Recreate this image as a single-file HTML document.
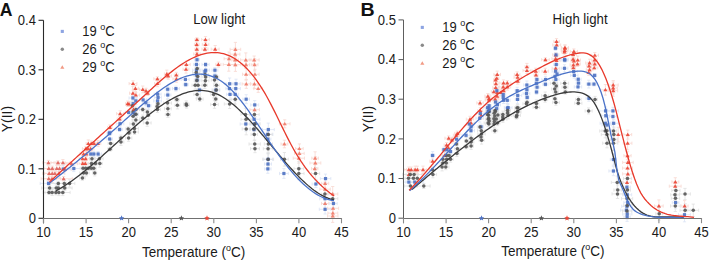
<!DOCTYPE html><html><head><meta charset="utf-8"><style>html,body{margin:0;padding:0;background:#fff;width:709px;height:261px;overflow:hidden}svg{display:block}</style></head><body><svg width="709" height="261" viewBox="0 0 709 261">
<style>.t{font-family:"Liberation Sans",sans-serif;font-size:13px;fill:#1a1a1a}</style>
<rect width="709" height="261" fill="#fff"/>
<g stroke-width="0.8" fill="none"><path d="M467.2,123.0H474.8M471.0,119.5V126.5M467.2,121.4V124.6M474.8,121.4V124.6M469.4,119.5H472.6M469.4,126.5H472.6" stroke="#f7d8d0"/><path d="M478.8,115.3H483.7M481.2,111.6V119.0M478.8,113.7V116.9M483.7,113.7V116.9M479.6,111.6H482.8M479.6,119.0H482.8" stroke="#f7d8d0"/><path d="M485.4,98.5H492.6M489.0,94.9V102.1M485.4,96.9V100.1M492.6,96.9V100.1M487.4,94.9H490.6M487.4,102.1H490.6" stroke="#f7d8d0"/><path d="M491.3,91.7H496.3M493.8,89.3V94.1M491.3,90.1V93.3M496.3,90.1V93.3M492.2,89.3H495.4M492.2,94.1H495.4" stroke="#f7d8d0"/><path d="M553.8,41.5H559.3M556.5,38.6V44.4M553.8,39.9V43.1M559.3,39.9V43.1M554.9,38.6H558.1M554.9,44.4H558.1" stroke="#f7d8d0"/><path d="M552.7,45.0H560.7M556.7,41.5V48.5M552.7,43.4V46.6M560.7,43.4V46.6M555.1,41.5H558.3M555.1,48.5H558.3" stroke="#f7d8d0"/><path d="M42.8,162.7H54.1M48.4,160.4V165.0M42.8,161.1V164.3M54.1,161.1V164.3M46.8,160.4H50.0M46.8,165.0H50.0" stroke="#f7d8d0"/><path d="M51.0,162.7H65.1M58.0,160.8V164.6M51.0,161.1V164.3M65.1,161.1V164.3M56.4,160.8H59.6M56.4,164.6H59.6" stroke="#f7d8d0"/><path d="M55.9,162.7H70.0M62.9,159.5V165.9M55.9,161.1V164.3M70.0,161.1V164.3M61.3,159.5H64.5M61.3,165.9H64.5" stroke="#f7d8d0"/><path d="M65.9,163.7H77.4M71.6,161.9V165.5M65.9,162.1V165.3M77.4,162.1V165.3M70.0,161.9H73.2M70.0,165.5H73.2" stroke="#f7d8d0"/><path d="M43.7,168.5H53.8M48.8,165.9V171.1M43.7,166.9V170.1M53.8,166.9V170.1M47.2,165.9H50.4M47.2,171.1H50.4" stroke="#f7d8d0"/><path d="M43.7,168.5H60.8M52.3,166.1V170.9M43.7,166.9V170.1M60.8,166.9V170.1M50.7,166.1H53.9M50.7,170.9H53.9" stroke="#f7d8d0"/><path d="M48.9,168.5H64.8M56.8,165.3V171.7M48.9,166.9V170.1M64.8,166.9V170.1M55.2,165.3H58.4M55.2,171.7H58.4" stroke="#f7d8d0"/><path d="M51.1,168.5H68.0M59.5,165.6V171.4M51.1,166.9V170.1M68.0,166.9V170.1M57.9,165.6H61.1M57.9,171.4H61.1" stroke="#f7d8d0"/><path d="M58.5,169.3H71.7M65.1,167.4V171.2M58.5,167.7V170.9M71.7,167.7V170.9M63.5,167.4H66.7M63.5,171.2H66.7" stroke="#f7d8d0"/><path d="M42.7,173.4H55.7M49.2,169.8V177.0M42.7,171.8V175.0M55.7,171.8V175.0M47.6,169.8H50.8M47.6,177.0H50.8" stroke="#f7d8d0"/><path d="M44.6,173.4H59.8M52.2,170.3V176.5M44.6,171.8V175.0M59.8,171.8V175.0M50.6,170.3H53.8M50.6,176.5H53.8" stroke="#f7d8d0"/><path d="M48.9,173.4H60.8M54.9,170.6V176.2M48.9,171.8V175.0M60.8,171.8V175.0M53.3,170.6H56.5M53.3,176.2H56.5" stroke="#f7d8d0"/><path d="M53.1,173.4H64.8M58.9,169.5V177.3M53.1,171.8V175.0M64.8,171.8V175.0M57.3,169.5H60.5M57.3,177.3H60.5" stroke="#f7d8d0"/><path d="M41.1,178.7H56.4M48.8,175.0V182.4M41.1,177.1V180.3M56.4,177.1V180.3M47.2,175.0H50.4M47.2,182.4H50.4" stroke="#f7d8d0"/><path d="M43.4,178.7H60.6M52.0,174.8V182.6M43.4,177.1V180.3M60.6,177.1V180.3M50.4,174.8H53.6M50.4,182.6H53.6" stroke="#f7d8d0"/><path d="M54.9,178.7H72.3M63.6,176.5V180.9M54.9,177.1V180.3M72.3,177.1V180.3M62.0,176.5H65.2M62.0,180.9H65.2" stroke="#f7d8d0"/><path d="M86.1,143.6H90.5M88.3,139.9V147.3M86.1,142.0V145.2M90.5,142.0V145.2M86.7,139.9H89.9M86.7,147.3H89.9" stroke="#f7d8d0"/><path d="M88.2,143.6H94.3M91.2,141.0V146.2M88.2,142.0V145.2M94.3,142.0V145.2M89.6,141.0H92.8M89.6,146.2H92.8" stroke="#f7d8d0"/><path d="M91.7,143.6H96.4M94.1,141.7V145.5M91.7,142.0V145.2M96.4,142.0V145.2M92.5,141.7H95.7M92.5,145.5H95.7" stroke="#f7d8d0"/><path d="M95.2,143.6H100.8M98.0,140.6V146.6M95.2,142.0V145.2M100.8,142.0V145.2M96.4,140.6H99.6M96.4,146.6H99.6" stroke="#f7d8d0"/><path d="M82.4,148.7H89.3M85.8,146.8V150.6M82.4,147.1V150.3M89.3,147.1V150.3M84.2,146.8H87.4M84.2,150.6H87.4" stroke="#f7d8d0"/><path d="M86.1,148.7H89.9M88.0,146.6V150.8M86.1,147.1V150.3M89.9,147.1V150.3M86.4,146.6H89.6M86.4,150.8H89.6" stroke="#f7d8d0"/><path d="M87.4,148.7H93.9M90.7,146.0V151.4M87.4,147.1V150.3M93.9,147.1V150.3M89.1,146.0H92.3M89.1,151.4H92.3" stroke="#f7d8d0"/><path d="M79.9,154.0H87.4M83.6,151.4V156.6M79.9,152.4V155.6M87.4,152.4V155.6M82.0,151.4H85.2M82.0,156.6H85.2" stroke="#f7d8d0"/><path d="M83.0,154.0H89.6M86.3,151.4V156.6M83.0,152.4V155.6M89.6,152.4V155.6M84.7,151.4H87.9M84.7,156.6H87.9" stroke="#f7d8d0"/><path d="M79.2,158.7H86.1M82.6,154.9V162.5M79.2,157.1V160.3M86.1,157.1V160.3M81.0,154.9H84.2M81.0,162.5H84.2" stroke="#f7d8d0"/><path d="M81.8,158.7H89.5M85.7,156.9V160.5M81.8,157.1V160.3M89.5,157.1V160.3M84.1,156.9H87.3M84.1,160.5H87.3" stroke="#f7d8d0"/><path d="M79.1,163.5H86.3M82.7,161.4V165.6M79.1,161.9V165.1M86.3,161.9V165.1M81.1,161.4H84.3M81.1,165.6H84.3" stroke="#f7d8d0"/><path d="M81.6,163.5H88.8M85.2,161.7V165.3M81.6,161.9V165.1M88.8,161.9V165.1M83.6,161.7H86.8M83.6,165.3H86.8" stroke="#f7d8d0"/><path d="M116.6,113.7H123.7M120.1,110.8V116.6M116.6,112.1V115.3M123.7,112.1V115.3M118.5,110.8H121.7M118.5,116.6H121.7" stroke="#f7d8d0"/><path d="M117.2,119.0H121.8M119.5,116.8V121.2M117.2,117.4V120.6M121.8,117.4V120.6M117.9,116.8H121.1M117.9,121.2H121.1" stroke="#f7d8d0"/><path d="M107.7,127.5H112.1M109.9,124.9V130.1M107.7,125.9V129.1M112.1,125.9V129.1M108.3,124.9H111.5M108.3,130.1H111.5" stroke="#f7d8d0"/><path d="M125.9,104.0H132.0M128.9,101.5V106.5M125.9,102.4V105.6M132.0,102.4V105.6M127.3,101.5H130.5M127.3,106.5H130.5" stroke="#f7d8d0"/><path d="M129.1,83.6H136.9M133.0,80.8V86.4M129.1,82.0V85.2M136.9,82.0V85.2M131.4,80.8H134.6M131.4,86.4H134.6" stroke="#f7d8d0"/><path d="M132.5,88.4H138.4M135.4,85.5V91.3M132.5,86.8V90.0M138.4,86.8V90.0M133.8,85.5H137.0M133.8,91.3H137.0" stroke="#f7d8d0"/><path d="M129.5,93.2H136.4M133.0,90.1V96.3M129.5,91.6V94.8M136.4,91.6V94.8M131.4,90.1H134.6M131.4,96.3H134.6" stroke="#f7d8d0"/><path d="M132.1,95.1H139.6M135.8,92.4V97.8M132.1,93.5V96.7M139.6,93.5V96.7M134.2,92.4H137.4M134.2,97.8H137.4" stroke="#f7d8d0"/><path d="M125.8,103.7H129.7M127.7,101.0V106.4M125.8,102.1V105.3M129.7,102.1V105.3M126.1,101.0H129.3M126.1,106.4H129.3" stroke="#f7d8d0"/><path d="M129.7,109.5H137.4M133.6,107.1V111.9M129.7,107.9V111.1M137.4,107.9V111.1M132.0,107.1H135.2M132.0,111.9H135.2" stroke="#f7d8d0"/><path d="M139.5,89.4H146.1M142.8,86.0V92.8M139.5,87.8V91.0M146.1,87.8V91.0M141.2,86.0H144.4M141.2,92.8H144.4" stroke="#f7d8d0"/><path d="M143.5,91.0H148.5M146.0,88.3V93.7M143.5,89.4V92.6M148.5,89.4V92.6M144.4,88.3H147.6M144.4,93.7H147.6" stroke="#f7d8d0"/><path d="M145.7,93.2H149.5M147.6,90.9V95.5M145.7,91.6V94.8M149.5,91.6V94.8M146.0,90.9H149.2M146.0,95.5H149.2" stroke="#f7d8d0"/><path d="M153.8,78.8H161.0M157.4,76.8V80.8M153.8,77.2V80.4M161.0,77.2V80.4M155.8,76.8H159.0M155.8,80.8H159.0" stroke="#f7d8d0"/><path d="M154.5,83.6H160.2M157.4,80.5V86.7M154.5,82.0V85.2M160.2,82.0V85.2M155.8,80.5H159.0M155.8,86.7H159.0" stroke="#f7d8d0"/><path d="M164.4,74.0H169.3M166.8,70.1V77.9M164.4,72.4V75.6M169.3,72.4V75.6M165.2,70.1H168.4M165.2,77.9H168.4" stroke="#f7d8d0"/><path d="M165.0,76.0H171.4M168.2,72.8V79.2M165.0,74.4V77.6M171.4,74.4V77.6M166.6,72.8H169.8M166.6,79.2H169.8" stroke="#f7d8d0"/><path d="M174.3,75.0H178.2M176.3,72.3V77.7M174.3,73.4V76.6M178.2,73.4V76.6M174.7,72.3H177.9M174.7,77.7H177.9" stroke="#f7d8d0"/><path d="M172.9,78.9H180.1M176.5,75.5V82.3M172.9,77.3V80.5M180.1,77.3V80.5M174.9,75.5H178.1M174.9,82.3H178.1" stroke="#f7d8d0"/><path d="M182.6,64.5H190.2M186.4,60.9V68.1M182.6,62.9V66.1M190.2,62.9V66.1M184.8,60.9H188.0M184.8,68.1H188.0" stroke="#f7d8d0"/><path d="M183.0,69.3H188.9M186.0,65.5V73.1M183.0,67.7V70.9M188.9,67.7V70.9M184.4,65.5H187.6M184.4,73.1H187.6" stroke="#f7d8d0"/><path d="M195.0,39.6H198.8M196.9,37.8V41.4M195.0,38.0V41.2M198.8,38.0V41.2M195.3,37.8H198.5M195.3,41.4H198.5" stroke="#f7d8d0"/><path d="M194.4,44.4H199.1M196.7,42.2V46.6M194.4,42.8V46.0M199.1,42.8V46.0M195.1,42.2H198.3M195.1,46.6H198.3" stroke="#f7d8d0"/><path d="M194.9,49.2H198.7M196.8,46.1V52.3M194.9,47.6V50.8M198.7,47.6V50.8M195.2,46.1H198.4M195.2,52.3H198.4" stroke="#f7d8d0"/><path d="M193.7,54.0H200.3M197.0,52.2V55.8M193.7,52.4V55.6M200.3,52.4V55.6M195.4,52.2H198.6M195.4,55.8H198.6" stroke="#f7d8d0"/><path d="M201.6,39.6H209.3M205.5,36.6V42.6M201.6,38.0V41.2M209.3,38.0V41.2M203.9,36.6H207.1M203.9,42.6H207.1" stroke="#f7d8d0"/><path d="M202.3,44.4H208.8M205.6,41.3V47.5M202.3,42.8V46.0M208.8,42.8V46.0M204.0,41.3H207.2M204.0,47.5H207.2" stroke="#f7d8d0"/><path d="M201.9,49.2H208.0M204.9,47.3V51.1M201.9,47.6V50.8M208.0,47.6V50.8M203.3,47.3H206.5M203.3,51.1H206.5" stroke="#f7d8d0"/><path d="M211.2,49.2H219.1M215.2,45.5V52.9M211.2,47.6V50.8M219.1,47.6V50.8M213.6,45.5H216.8M213.6,52.9H216.8" stroke="#f7d8d0"/><path d="M215.8,64.5H220.9M218.4,62.0V67.0M215.8,62.9V66.1M220.9,62.9V66.1M216.8,62.0H220.0M216.8,67.0H220.0" stroke="#f7d8d0"/><path d="M224.1,58.7H233.9M229.0,52.0V65.4M224.1,57.1V60.3M233.9,57.1V60.3M227.4,52.0H230.6M227.4,65.4H230.6" stroke="#f7d8d0"/><path d="M223.2,64.5H234.4M228.8,57.8V71.2M223.2,62.9V66.1M234.4,62.9V66.1M227.2,57.8H230.4M227.2,71.2H230.4" stroke="#f7d8d0"/><path d="M230.1,49.4H240.7M235.4,42.4V56.4M230.1,47.8V51.0M240.7,47.8V51.0M233.8,42.4H237.0M233.8,56.4H237.0" stroke="#f7d8d0"/><path d="M230.4,54.2H239.9M235.1,48.1V60.3M230.4,52.6V55.8M239.9,52.6V55.8M233.5,48.1H236.7M233.5,60.3H236.7" stroke="#f7d8d0"/><path d="M231.8,59.9H238.4M235.1,53.8V66.0M231.8,58.3V61.5M238.4,58.3V61.5M233.5,53.8H236.7M233.5,66.0H236.7" stroke="#f7d8d0"/><path d="M229.9,64.7H240.9M235.4,58.0V71.4M229.9,63.1V66.3M240.9,63.1V66.3M233.8,58.0H237.0M233.8,71.4H237.0" stroke="#f7d8d0"/><path d="M240.6,59.9H251.0M245.8,52.9V66.9M240.6,58.3V61.5M251.0,58.3V61.5M244.2,52.9H247.4M244.2,66.9H247.4" stroke="#f7d8d0"/><path d="M242.6,64.7H249.5M246.1,61.1V68.3M242.6,63.1V66.3M249.5,63.1V66.3M244.5,61.1H247.7M244.5,68.3H247.7" stroke="#f7d8d0"/><path d="M242.5,74.3H249.7M246.1,68.5V80.1M242.5,72.7V75.9M249.7,72.7V75.9M244.5,68.5H247.7M244.5,80.1H247.7" stroke="#f7d8d0"/><path d="M242.1,83.9H250.4M246.3,79.4V88.4M242.1,82.3V85.5M250.4,82.3V85.5M244.7,79.4H247.9M244.7,88.4H247.9" stroke="#f7d8d0"/><path d="M249.2,59.9H259.1M254.2,56.0V63.8M249.2,58.3V61.5M259.1,58.3V61.5M252.6,56.0H255.8M252.6,63.8H255.8" stroke="#f7d8d0"/><path d="M251.2,64.7H258.0M254.6,58.6V70.8M251.2,63.1V66.3M258.0,63.1V66.3M253.0,58.6H256.2M253.0,70.8H256.2" stroke="#f7d8d0"/><path d="M250.8,74.3H259.1M254.9,69.3V79.3M250.8,72.7V75.9M259.1,72.7V75.9M253.3,69.3H256.5M253.3,79.3H256.5" stroke="#f7d8d0"/><path d="M250.7,83.9H258.0M254.4,79.4V88.4M250.7,82.3V85.5M258.0,82.3V85.5M252.8,79.4H256.0M252.8,88.4H256.0" stroke="#f7d8d0"/><path d="M253.8,88.6H262.6M258.2,84.8V92.4M253.8,87.0V90.2M262.6,87.0V90.2M256.6,84.8H259.8M256.6,92.4H259.8" stroke="#f7d8d0"/><path d="M249.9,109.7H259.4M254.6,105.0V114.4M249.9,108.1V111.3M259.4,108.1V111.3M253.0,105.0H256.2M253.0,114.4H256.2" stroke="#f7d8d0"/><path d="M279.4,123.8H290.0M284.7,119.8V127.8M279.4,122.2V125.4M290.0,122.2V125.4M283.1,119.8H286.3M283.1,127.8H286.3" stroke="#f7d8d0"/><path d="M281.0,144.0H287.8M284.4,140.2V147.8M281.0,142.4V145.6M287.8,142.4V145.6M282.8,140.2H286.0M282.8,147.8H286.0" stroke="#f7d8d0"/><path d="M295.6,148.6H303.2M299.4,143.9V153.3M295.6,147.0V150.2M303.2,147.0V150.2M297.8,143.9H301.0M297.8,153.3H301.0" stroke="#f7d8d0"/><path d="M294.5,153.4H304.2M299.4,149.2V157.6M294.5,151.8V155.0M304.2,151.8V155.0M297.8,149.2H301.0M297.8,157.6H301.0" stroke="#f7d8d0"/><path d="M293.2,158.2H304.5M298.8,153.2V163.2M293.2,156.6V159.8M304.5,156.6V159.8M297.2,153.2H300.4M297.2,163.2H300.4" stroke="#f7d8d0"/><path d="M311.8,158.2H318.4M315.1,151.8V164.6M311.8,156.6V159.8M318.4,156.6V159.8M313.5,151.8H316.7M313.5,164.6H316.7" stroke="#f7d8d0"/><path d="M309.9,163.0H320.8M315.4,156.8V169.2M309.9,161.4V164.6M320.8,161.4V164.6M313.8,156.8H317.0M313.8,169.2H317.0" stroke="#f7d8d0"/><path d="M311.5,168.7H317.9M314.7,163.1V174.3M311.5,167.1V170.3M317.9,167.1V170.3M313.1,163.1H316.3M313.1,174.3H316.3" stroke="#f7d8d0"/><path d="M321.6,183.4H328.7M325.1,178.8V188.0M321.6,181.8V185.0M328.7,181.8V185.0M323.5,178.8H326.7M323.5,188.0H326.7" stroke="#f7d8d0"/><path d="M319.8,189.2H330.3M325.0,182.1V196.3M319.8,187.6V190.8M330.3,187.6V190.8M323.4,182.1H326.6M323.4,196.3H326.6" stroke="#f7d8d0"/><path d="M321.5,203.5H328.7M325.1,196.8V210.2M321.5,201.9V205.1M328.7,201.9V205.1M323.5,196.8H326.7M323.5,210.2H326.7" stroke="#f7d8d0"/><path d="M327.5,194.0H337.8M332.7,186.5V201.5M327.5,192.4V195.6M337.8,192.4V195.6M331.1,186.5H334.3M331.1,201.5H334.3" stroke="#f7d8d0"/><path d="M327.6,208.3H338.6M333.1,201.7V214.9M327.6,206.7V209.9M338.6,206.7V209.9M331.5,201.7H334.7M331.5,214.9H334.7" stroke="#f7d8d0"/><path d="M327.9,213.1H337.8M332.8,208.9V217.3M327.9,211.5V214.7M337.8,211.5V214.7M331.2,208.9H334.4M331.2,217.3H334.4" stroke="#f7d8d0"/><path d="M327.5,216.0H338.0M332.7,209.6V222.4M327.5,214.4V217.6M338.0,214.4V217.6M331.1,209.6H334.3M331.1,222.4H334.3" stroke="#f7d8d0"/><path d="M403.7,169.7H414.0M408.9,167.0V172.4M403.7,168.1V171.3M414.0,168.1V171.3M407.3,167.0H410.5M407.3,172.4H410.5" stroke="#f7d8d0"/><path d="M404.0,169.7H418.4M411.2,167.0V172.4M404.0,168.1V171.3M418.4,168.1V171.3M409.6,167.0H412.8M409.6,172.4H412.8" stroke="#f7d8d0"/><path d="M406.5,169.7H423.8M415.2,166.1V173.3M406.5,168.1V171.3M423.8,168.1V171.3M413.6,166.1H416.8M413.6,173.3H416.8" stroke="#f7d8d0"/><path d="M408.4,169.7H426.3M417.3,166.2V173.2M408.4,168.1V171.3M426.3,168.1V171.3M415.7,166.2H418.9M415.7,173.2H418.9" stroke="#f7d8d0"/><path d="M414.3,169.7H431.7M423.0,166.1V173.3M414.3,168.1V171.3M431.7,168.1V171.3M421.4,166.1H424.6M421.4,173.3H424.6" stroke="#f7d8d0"/><path d="M403.2,174.5H414.6M408.9,172.4V176.6M403.2,172.9V176.1M414.6,172.9V176.1M407.3,172.4H410.5M407.3,176.6H410.5" stroke="#f7d8d0"/><path d="M429.8,161.2H435.4M432.6,157.7V164.7M429.8,159.6V162.8M435.4,159.6V162.8M431.0,157.7H434.2M431.0,164.7H434.2" stroke="#f7d8d0"/><path d="M444.9,138.2H452.5M448.7,135.9V140.5M444.9,136.6V139.8M452.5,136.6V139.8M447.1,135.9H450.3M447.1,140.5H450.3" stroke="#f7d8d0"/><path d="M450.0,140.1H453.9M451.9,137.3V142.9M450.0,138.5V141.7M453.9,138.5V141.7M450.3,137.3H453.5M450.3,142.9H453.5" stroke="#f7d8d0"/><path d="M444.1,145.0H449.1M446.6,142.5V147.5M444.1,143.4V146.6M449.1,143.4V146.6M445.0,142.5H448.2M445.0,147.5H448.2" stroke="#f7d8d0"/><path d="M445.6,147.8H451.2M448.4,145.9V149.7M445.6,146.2V149.4M451.2,146.2V149.4M446.8,145.9H450.0M446.8,149.7H450.0" stroke="#f7d8d0"/><path d="M440.7,155.4H448.2M444.5,151.6V159.2M440.7,153.8V157.0M448.2,153.8V157.0M442.9,151.6H446.1M442.9,159.2H446.1" stroke="#f7d8d0"/><path d="M454.6,133.4H460.0M457.3,131.1V135.7M454.6,131.8V135.0M460.0,131.8V135.0M455.7,131.1H458.9M455.7,135.7H458.9" stroke="#f7d8d0"/><path d="M453.4,135.3H459.2M456.3,133.2V137.4M453.4,133.7V136.9M459.2,133.7V136.9M454.7,133.2H457.9M454.7,137.4H457.9" stroke="#f7d8d0"/><path d="M466.3,119.2H473.7M470.0,116.3V122.1M466.3,117.6V120.8M473.7,117.6V120.8M468.4,116.3H471.6M468.4,122.1H471.6" stroke="#f7d8d0"/><path d="M476.8,102.9H483.3M480.0,100.5V105.3M476.8,101.3V104.5M483.3,101.3V104.5M478.4,100.5H481.6M478.4,105.3H481.6" stroke="#f7d8d0"/><path d="M477.8,110.6H482.7M480.3,107.7V113.5M477.8,109.0V112.2M482.7,109.0V112.2M478.7,107.7H481.9M478.7,113.5H481.9" stroke="#f7d8d0"/><path d="M484.9,96.2H490.9M487.9,93.5V98.9M484.9,94.6V97.8M490.9,94.6V97.8M486.3,93.5H489.5M486.3,98.9H489.5" stroke="#f7d8d0"/><path d="M485.2,100.0H492.7M489.0,97.8V102.2M485.2,98.4V101.6M492.7,98.4V101.6M487.4,97.8H490.6M487.4,102.2H490.6" stroke="#f7d8d0"/><path d="M493.5,79.9H497.6M495.5,75.9V83.9M493.5,78.3V81.5M497.6,78.3V81.5M493.9,75.9H497.1M493.9,83.9H497.1" stroke="#f7d8d0"/><path d="M493.6,83.7H498.2M495.9,79.8V87.6M493.6,82.1V85.3M498.2,82.1V85.3M494.3,79.8H497.5M494.3,87.6H497.5" stroke="#f7d8d0"/><path d="M492.8,87.6H498.6M495.7,84.7V90.5M492.8,86.0V89.2M498.6,86.0V89.2M494.1,84.7H497.3M494.1,90.5H497.3" stroke="#f7d8d0"/><path d="M495.4,92.4H499.2M497.3,89.9V94.9M495.4,90.8V94.0M499.2,90.8V94.0M495.7,89.9H498.9M495.7,94.9H498.9" stroke="#f7d8d0"/><path d="M495.2,96.2H499.1M497.2,93.9V98.5M495.2,94.6V97.8M499.1,94.6V97.8M495.6,93.9H498.8M495.6,98.5H498.8" stroke="#f7d8d0"/><path d="M491.4,99.1H498.9M495.1,95.6V102.6M491.4,97.5V100.7M498.9,97.5V100.7M493.5,95.6H496.7M493.5,102.6H496.7" stroke="#f7d8d0"/><path d="M497.5,92.4H504.4M501.0,89.0V95.8M497.5,90.8V94.0M504.4,90.8V94.0M499.4,89.0H502.6M499.4,95.8H502.6" stroke="#f7d8d0"/><path d="M493.9,74.5H500.5M497.2,71.1V77.9M493.9,72.9V76.1M500.5,72.9V76.1M495.6,71.1H498.8M495.6,77.9H498.8" stroke="#f7d8d0"/><path d="M494.6,78.3H498.9M496.8,74.8V81.8M494.6,76.7V79.9M498.9,76.7V79.9M495.2,74.8H498.4M495.2,81.8H498.4" stroke="#f7d8d0"/><path d="M499.7,83.0H507.3M503.5,79.9V86.1M499.7,81.4V84.6M507.3,81.4V84.6M501.9,79.9H505.1M501.9,86.1H505.1" stroke="#f7d8d0"/><path d="M499.3,86.9H507.0M503.2,84.8V89.0M499.3,85.3V88.5M507.0,85.3V88.5M501.6,84.8H504.8M501.6,89.0H504.8" stroke="#f7d8d0"/><path d="M501.7,90.7H505.7M503.7,86.8V94.6M501.7,89.1V92.3M505.7,89.1V92.3M502.1,86.8H505.3M502.1,94.6H505.3" stroke="#f7d8d0"/><path d="M503.7,83.0H510.8M507.3,80.6V85.4M503.7,81.4V84.6M510.8,81.4V84.6M505.7,80.6H508.9M505.7,85.4H508.9" stroke="#f7d8d0"/><path d="M504.0,86.9H510.7M507.4,83.7V90.1M504.0,85.3V88.5M510.7,85.3V88.5M505.8,83.7H509.0M505.8,90.1H509.0" stroke="#f7d8d0"/><path d="M514.4,74.5H519.9M517.1,71.8V77.2M514.4,72.9V76.1M519.9,72.9V76.1M515.5,71.8H518.7M515.5,77.2H518.7" stroke="#f7d8d0"/><path d="M514.0,77.3H521.3M517.6,74.8V79.8M514.0,75.7V78.9M521.3,75.7V78.9M516.0,74.8H519.2M516.0,79.8H519.2" stroke="#f7d8d0"/><path d="M515.4,81.2H519.9M517.7,78.2V84.2M515.4,79.6V82.8M519.9,79.6V82.8M516.1,78.2H519.3M516.1,84.2H519.3" stroke="#f7d8d0"/><path d="M525.0,66.8H528.9M526.9,63.4V70.2M525.0,65.2V68.4M528.9,65.2V68.4M525.3,63.4H528.5M525.3,70.2H528.5" stroke="#f7d8d0"/><path d="M523.0,70.6H530.9M526.9,67.8V73.4M523.0,69.0V72.2M530.9,69.0V72.2M525.3,67.8H528.5M525.3,73.4H528.5" stroke="#f7d8d0"/><path d="M532.4,71.2H539.1M535.7,68.2V74.2M532.4,69.6V72.8M539.1,69.6V72.8M534.1,68.2H537.3M534.1,74.2H537.3" stroke="#f7d8d0"/><path d="M534.0,75.0H538.0M536.0,72.0V78.0M534.0,73.4V76.6M538.0,73.4V76.6M534.4,72.0H537.6M534.4,78.0H537.6" stroke="#f7d8d0"/><path d="M541.6,59.7H549.3M545.4,57.8V61.6M541.6,58.1V61.3M549.3,58.1V61.3M543.8,57.8H547.0M543.8,61.6H547.0" stroke="#f7d8d0"/><path d="M542.0,71.2H548.4M545.2,68.2V74.2M542.0,69.6V72.8M548.4,69.6V72.8M543.6,68.2H546.8M543.6,74.2H546.8" stroke="#f7d8d0"/><path d="M552.6,54.9H558.9M555.8,52.6V57.2M552.6,53.3V56.5M558.9,53.3V56.5M554.2,52.6H557.4M554.2,57.2H557.4" stroke="#f7d8d0"/><path d="M551.9,58.7H559.3M555.6,56.5V60.9M551.9,57.1V60.3M559.3,57.1V60.3M554.0,56.5H557.2M554.0,60.9H557.2" stroke="#f7d8d0"/><path d="M553.1,60.6H560.0M556.5,57.2V64.0M553.1,59.0V62.2M560.0,59.0V62.2M554.9,57.2H558.1M554.9,64.0H558.1" stroke="#f7d8d0"/><path d="M552.1,68.3H559.3M555.7,65.5V71.1M552.1,66.7V69.9M559.3,66.7V69.9M554.1,65.5H557.3M554.1,71.1H557.3" stroke="#f7d8d0"/><path d="M561.3,48.2H568.6M564.9,44.9V51.5M561.3,46.6V49.8M568.6,46.6V49.8M563.3,44.9H566.5M563.3,51.5H566.5" stroke="#f7d8d0"/><path d="M561.7,52.0H567.1M564.4,49.0V55.0M561.7,50.4V53.6M567.1,50.4V53.6M562.8,49.0H566.0M562.8,55.0H566.0" stroke="#f7d8d0"/><path d="M561.5,47.7H568.4M565.0,45.1V50.3M561.5,46.1V49.3M568.4,46.1V49.3M563.4,45.1H566.6M563.4,50.3H566.6" stroke="#f7d8d0"/><path d="M561.2,50.5H568.1M564.7,47.6V53.4M561.2,48.9V52.1M568.1,48.9V52.1M563.1,47.6H566.3M563.1,53.4H566.3" stroke="#f7d8d0"/><path d="M570.3,51.5H577.5M573.9,48.9V54.1M570.3,49.9V53.1M577.5,49.9V53.1M572.3,48.9H575.5M572.3,54.1H575.5" stroke="#f7d8d0"/><path d="M569.6,54.4H576.6M573.1,51.6V57.2M569.6,52.8V56.0M576.6,52.8V56.0M571.5,51.6H574.7M571.5,57.2H574.7" stroke="#f7d8d0"/><path d="M571.2,59.2H574.9M573.1,56.5V61.9M571.2,57.6V60.8M574.9,57.6V60.8M571.5,56.5H574.7M571.5,61.9H574.7" stroke="#f7d8d0"/><path d="M570.9,61.1H577.0M573.9,58.1V64.1M570.9,59.5V62.7M577.0,59.5V62.7M572.3,58.1H575.5M572.3,64.1H575.5" stroke="#f7d8d0"/><path d="M570.1,64.9H576.7M573.4,61.8V68.0M570.1,63.3V66.5M576.7,63.3V66.5M571.8,61.8H575.0M571.8,68.0H575.0" stroke="#f7d8d0"/><path d="M571.2,67.8H575.6M573.4,65.4V70.2M571.2,66.2V69.4M575.6,66.2V69.4M571.8,65.4H575.0M571.8,70.2H575.0" stroke="#f7d8d0"/><path d="M575.0,60.1H580.5M577.8,56.1V64.1M575.0,58.5V61.7M580.5,58.5V61.7M576.2,56.1H579.4M576.2,64.1H579.4" stroke="#f7d8d0"/><path d="M574.7,63.9H580.3M577.5,61.3V66.5M574.7,62.3V65.5M580.3,62.3V65.5M575.9,61.3H579.1M575.9,66.5H579.1" stroke="#f7d8d0"/><path d="M585.7,63.0H593.4M589.6,59.2V66.8M585.7,61.4V64.6M593.4,61.4V64.6M588.0,59.2H591.2M588.0,66.8H591.2" stroke="#f7d8d0"/><path d="M586.6,65.9H591.4M589.0,62.2V69.6M586.6,64.3V67.5M591.4,64.3V67.5M587.4,62.2H590.6M587.4,69.6H590.6" stroke="#f7d8d0"/><path d="M586.3,69.7H592.9M589.6,67.7V71.7M586.3,68.1V71.3M592.9,68.1V71.3M588.0,67.7H591.2M588.0,71.7H591.2" stroke="#f7d8d0"/><path d="M586.5,72.6H590.9M588.7,69.9V75.3M586.5,71.0V74.2M590.9,71.0V74.2M587.1,69.9H590.3M587.1,75.3H590.3" stroke="#f7d8d0"/><path d="M591.2,55.3H598.5M594.8,52.5V58.1M591.2,53.7V56.9M598.5,53.7V56.9M593.2,52.5H596.4M593.2,58.1H596.4" stroke="#f7d8d0"/><path d="M591.7,60.1H597.3M594.5,57.5V62.7M591.7,58.5V61.7M597.3,58.5V61.7M592.9,57.5H596.1M592.9,62.7H596.1" stroke="#f7d8d0"/><path d="M592.5,63.9H597.0M594.8,61.4V66.4M592.5,62.3V65.5M597.0,62.3V65.5M593.2,61.4H596.4M593.2,66.4H596.4" stroke="#f7d8d0"/><path d="M590.8,67.8H597.8M594.3,65.9V69.7M590.8,66.2V69.4M597.8,66.2V69.4M592.7,65.9H595.9M592.7,69.7H595.9" stroke="#f7d8d0"/><path d="M600.0,89.8H610.9M605.4,84.5V95.1M600.0,88.2V91.4M610.9,88.2V91.4M603.8,84.5H607.0M603.8,95.1H607.0" stroke="#f7d8d0"/><path d="M608.1,85.0H618.2M613.2,80.5V89.5M608.1,83.4V86.6M618.2,83.4V86.6M611.6,80.5H614.8M611.6,89.5H614.8" stroke="#f7d8d0"/><path d="M609.1,88.0H617.3M613.2,82.0V94.0M609.1,86.4V89.6M617.3,86.4V89.6M611.6,82.0H614.8M611.6,94.0H614.8" stroke="#f7d8d0"/><path d="M608.8,90.7H617.7M613.3,85.1V96.3M608.8,89.1V92.3M617.7,89.1V92.3M611.7,85.1H614.9M611.7,96.3H614.9" stroke="#f7d8d0"/><path d="M614.6,134.6H621.8M618.2,127.3V141.9M614.6,133.0V136.2M621.8,133.0V136.2M616.6,127.3H619.8M616.6,141.9H619.8" stroke="#f7d8d0"/><path d="M623.8,134.6H631.7M627.8,130.1V139.1M623.8,133.0V136.2M631.7,133.0V136.2M626.2,130.1H629.4M626.2,139.1H629.4" stroke="#f7d8d0"/><path d="M623.3,143.2H631.9M627.6,136.6V149.8M623.3,141.6V144.8M631.9,141.6V144.8M626.0,136.6H629.2M626.0,149.8H629.2" stroke="#f7d8d0"/><path d="M623.9,155.7H631.1M627.5,151.7V159.7M623.9,154.1V157.3M631.1,154.1V157.3M625.9,151.7H629.1M625.9,159.7H629.1" stroke="#f7d8d0"/><path d="M622.6,162.4H633.2M627.9,156.9V167.9M622.6,160.8V164.0M633.2,160.8V164.0M626.3,156.9H629.5M626.3,167.9H629.5" stroke="#f7d8d0"/><path d="M622.5,168.1H632.5M627.5,162.1V174.1M622.5,166.5V169.7M632.5,166.5V169.7M625.9,162.1H629.1M625.9,174.1H629.1" stroke="#f7d8d0"/><path d="M622.6,173.9H633.1M627.9,169.0V178.8M622.6,172.3V175.5M633.1,172.3V175.5M626.3,169.0H629.5M626.3,178.8H629.5" stroke="#f7d8d0"/><path d="M622.7,182.4H631.3M627.0,176.9V187.9M622.7,180.8V184.0M631.3,180.8V184.0M625.4,176.9H628.6M625.4,187.9H628.6" stroke="#f7d8d0"/><path d="M654.6,206.0H663.2M658.9,199.9V212.1M654.6,204.4V207.6M663.2,204.4V207.6M657.3,199.9H660.5M657.3,212.1H660.5" stroke="#f7d8d0"/><path d="M671.9,181.9H678.8M675.3,177.7V186.1M671.9,180.3V183.5M678.8,180.3V183.5M673.7,177.7H676.9M673.7,186.1H676.9" stroke="#f7d8d0"/><path d="M669.3,186.2H681.1M675.2,182.6V189.8M669.3,184.6V187.8M681.1,184.6V187.8M673.6,182.6H676.8M673.6,189.8H676.8" stroke="#f7d8d0"/><path d="M681.1,206.0H688.1M684.6,200.6V211.4M681.1,204.4V207.6M688.1,204.4V207.6M683.0,200.6H686.2M683.0,211.4H686.2" stroke="#f7d8d0"/><path d="M468.3,126.8H473.9M471.1,124.6V129.0M468.3,125.2V128.4M473.9,125.2V128.4M469.5,124.6H472.7M469.5,129.0H472.7" stroke="#dbe3f5"/><path d="M467.4,130.7H474.5M471.0,128.5V132.9M467.4,129.1V132.3M474.5,129.1V132.3M469.4,128.5H472.6M469.4,132.9H472.6" stroke="#dbe3f5"/><path d="M478.3,126.8H483.7M481.0,124.1V129.5M478.3,125.2V128.4M483.7,125.2V128.4M479.4,124.1H482.6M479.4,129.5H482.6" stroke="#dbe3f5"/><path d="M486.9,105.7H491.2M489.1,101.9V109.5M486.9,104.1V107.3M491.2,104.1V107.3M487.5,101.9H490.7M487.5,109.5H490.7" stroke="#dbe3f5"/><path d="M485.7,108.6H492.2M488.9,106.7V110.5M485.7,107.0V110.2M492.2,107.0V110.2M487.3,106.7H490.5M487.3,110.5H490.5" stroke="#dbe3f5"/><path d="M485.9,111.5H492.2M489.1,108.0V115.0M485.9,109.9V113.1M492.2,109.9V113.1M487.5,108.0H490.7M487.5,115.0H490.7" stroke="#dbe3f5"/><path d="M504.3,107.7H512.0M508.2,104.0V111.4M504.3,106.1V109.3M512.0,106.1V109.3M506.6,104.0H509.8M506.6,111.4H509.8" stroke="#dbe3f5"/><path d="M40.2,183.4H56.9M48.5,181.5V185.3M40.2,181.8V185.0M56.9,181.8V185.0M46.9,181.5H50.1M46.9,185.3H50.1" stroke="#dbe3f5"/><path d="M66.1,168.5H81.5M73.8,165.4V171.6M66.1,166.9V170.1M81.5,166.9V170.1M72.2,165.4H75.4M72.2,171.6H75.4" stroke="#dbe3f5"/><path d="M56.0,169.0H70.8M63.4,165.1V172.9M56.0,167.4V170.6M70.8,167.4V170.6M61.8,165.1H65.0M61.8,172.9H65.0" stroke="#dbe3f5"/><path d="M87.8,154.0H93.7M90.8,152.2V155.8M87.8,152.4V155.6M93.7,152.4V155.6M89.2,152.2H92.4M89.2,155.8H92.4" stroke="#dbe3f5"/><path d="M90.5,154.0H97.1M93.8,151.3V156.7M90.5,152.4V155.6M97.1,152.4V155.6M92.2,151.3H95.4M92.2,156.7H95.4" stroke="#dbe3f5"/><path d="M94.7,154.0H101.6M98.1,151.5V156.5M94.7,152.4V155.6M101.6,152.4V155.6M96.5,151.5H99.7M96.5,156.5H99.7" stroke="#dbe3f5"/><path d="M107.2,133.5H111.4M109.3,131.3V135.7M107.2,131.9V135.1M111.4,131.9V135.1M107.7,131.3H110.9M107.7,135.7H110.9" stroke="#dbe3f5"/><path d="M106.9,139.0H112.5M109.7,135.2V142.8M106.9,137.4V140.6M112.5,137.4V140.6M108.1,135.2H111.3M108.1,142.8H111.3" stroke="#dbe3f5"/><path d="M116.2,123.7H123.8M120.0,120.4V127.0M116.2,122.1V125.3M123.8,122.1V125.3M118.4,120.4H121.6M118.4,127.0H121.6" stroke="#dbe3f5"/><path d="M116.9,129.5H122.3M119.6,127.7V131.3M116.9,127.9V131.1M122.3,127.9V131.1M118.0,127.7H121.2M118.0,131.3H121.2" stroke="#dbe3f5"/><path d="M107.4,132.8H112.0M109.7,130.7V134.9M107.4,131.2V134.4M112.0,131.2V134.4M108.1,130.7H111.3M108.1,134.9H111.3" stroke="#dbe3f5"/><path d="M125.3,112.4H131.9M128.6,110.1V114.7M125.3,110.8V114.0M131.9,110.8V114.0M127.0,110.1H130.2M127.0,114.7H130.2" stroke="#dbe3f5"/><path d="M129.0,98.0H136.8M132.9,95.6V100.4M129.0,96.4V99.6M136.8,96.4V99.6M131.3,95.6H134.5M131.3,100.4H134.5" stroke="#dbe3f5"/><path d="M133.7,100.9H137.9M135.8,97.3V104.5M133.7,99.3V102.5M137.9,99.3V102.5M134.2,97.3H137.4M134.2,104.5H137.4" stroke="#dbe3f5"/><path d="M130.2,103.7H136.1M133.2,101.8V105.6M130.2,102.1V105.3M136.1,102.1V105.3M131.6,101.8H134.8M131.6,105.6H134.8" stroke="#dbe3f5"/><path d="M131.0,114.2H138.4M134.7,112.2V116.2M131.0,112.6V115.8M138.4,112.6V115.8M133.1,112.2H136.3M133.1,116.2H136.3" stroke="#dbe3f5"/><path d="M139.6,99.9H146.6M143.1,96.8V103.0M139.6,98.3V101.5M146.6,98.3V101.5M141.5,96.8H144.7M141.5,103.0H144.7" stroke="#dbe3f5"/><path d="M142.7,102.8H149.0M145.8,100.0V105.6M142.7,101.2V104.4M149.0,101.2V104.4M144.2,100.0H147.4M144.2,105.6H147.4" stroke="#dbe3f5"/><path d="M146.1,105.7H151.0M148.6,102.2V109.2M146.1,104.1V107.3M151.0,104.1V107.3M147.0,102.2H150.2M147.0,109.2H150.2" stroke="#dbe3f5"/><path d="M154.2,94.2H161.1M157.7,91.6V96.8M154.2,92.6V95.8M161.1,92.6V95.8M156.1,91.6H159.3M156.1,96.8H159.3" stroke="#dbe3f5"/><path d="M154.7,97.5H161.4M158.0,94.8V100.2M154.7,95.9V99.1M161.4,95.9V99.1M156.4,94.8H159.6M156.4,100.2H159.6" stroke="#dbe3f5"/><path d="M153.6,100.9H161.5M157.5,97.5V104.3M153.6,99.3V102.5M161.5,99.3V102.5M155.9,97.5H159.1M155.9,104.3H159.1" stroke="#dbe3f5"/><path d="M172.5,88.6H179.4M175.9,86.2V91.0M172.5,87.0V90.2M179.4,87.0V90.2M174.3,86.2H177.5M174.3,91.0H177.5" stroke="#dbe3f5"/><path d="M181.7,79.4H189.1M185.4,76.6V82.2M181.7,77.8V81.0M189.1,77.8V81.0M183.8,76.6H187.0M183.8,82.2H187.0" stroke="#dbe3f5"/><path d="M183.3,84.6H188.2M185.7,82.6V86.6M183.3,83.0V86.2M188.2,83.0V86.2M184.1,82.6H187.3M184.1,86.6H187.3" stroke="#dbe3f5"/><path d="M194.6,59.7H199.4M197.0,57.5V61.9M194.6,58.1V61.3M199.4,58.1V61.3M195.4,57.5H198.6M195.4,61.9H198.6" stroke="#dbe3f5"/><path d="M193.6,64.5H199.3M196.4,62.2V66.8M193.6,62.9V66.1M199.3,62.9V66.1M194.8,62.2H198.0M194.8,66.8H198.0" stroke="#dbe3f5"/><path d="M192.7,70.2H200.3M196.5,67.8V72.6M192.7,68.6V71.8M200.3,68.6V71.8M194.9,67.8H198.1M194.9,72.6H198.1" stroke="#dbe3f5"/><path d="M193.5,75.0H199.3M196.4,73.0V77.0M193.5,73.4V76.6M199.3,73.4V76.6M194.8,73.0H198.0M194.8,77.0H198.0" stroke="#dbe3f5"/><path d="M202.0,64.5H209.1M205.6,62.6V66.4M202.0,62.9V66.1M209.1,62.9V66.1M204.0,62.6H207.2M204.0,66.4H207.2" stroke="#dbe3f5"/><path d="M202.0,70.2H209.4M205.7,66.5V73.9M202.0,68.6V71.8M209.4,68.6V71.8M204.1,66.5H207.3M204.1,73.9H207.3" stroke="#dbe3f5"/><path d="M212.0,70.2H217.9M214.9,67.6V72.8M212.0,68.6V71.8M217.9,68.6V71.8M213.3,67.6H216.5M213.3,72.8H216.5" stroke="#dbe3f5"/><path d="M212.9,76.0H216.8M214.9,73.6V78.4M212.9,74.4V77.6M216.8,74.4V77.6M213.3,73.6H216.5M213.3,78.4H216.5" stroke="#dbe3f5"/><path d="M194.3,80.0H200.0M197.1,77.2V82.8M194.3,78.4V81.6M200.0,78.4V81.6M195.5,77.2H198.7M195.5,82.8H198.7" stroke="#dbe3f5"/><path d="M197.1,90.0H202.1M199.6,88.1V91.9M197.1,88.4V91.6M202.1,88.4V91.6M198.0,88.1H201.2M198.0,91.9H201.2" stroke="#dbe3f5"/><path d="M202.8,71.5H207.1M205.0,69.5V73.5M202.8,69.9V73.1M207.1,69.9V73.1M203.4,69.5H206.6M203.4,73.5H206.6" stroke="#dbe3f5"/><path d="M212.0,90.0H219.8M215.9,86.9V93.1M212.0,88.4V91.6M219.8,88.4V91.6M214.3,86.9H217.5M214.3,93.1H217.5" stroke="#dbe3f5"/><path d="M165.2,89.2H170.2M167.7,86.1V92.3M165.2,87.6V90.8M170.2,87.6V90.8M166.1,86.1H169.3M166.1,92.3H169.3" stroke="#dbe3f5"/><path d="M164.7,95.0H170.9M167.8,91.4V98.6M164.7,93.4V96.6M170.9,93.4V96.6M166.2,91.4H169.4M166.2,98.6H169.4" stroke="#dbe3f5"/><path d="M226.0,83.8H233.2M229.6,78.0V89.6M226.0,82.2V85.4M233.2,82.2V85.4M228.0,78.0H231.2M228.0,89.6H231.2" stroke="#dbe3f5"/><path d="M225.9,88.6H232.9M229.4,82.6V94.6M225.9,87.0V90.2M232.9,87.0V90.2M227.8,82.6H231.0M227.8,94.6H231.0" stroke="#dbe3f5"/><path d="M226.6,94.4H233.4M230.0,88.7V100.1M226.6,92.8V96.0M233.4,92.8V96.0M228.4,88.7H231.6M228.4,100.1H231.6" stroke="#dbe3f5"/><path d="M231.8,83.8H240.2M236.0,79.2V88.4M231.8,82.2V85.4M240.2,82.2V85.4M234.4,79.2H237.6M234.4,88.4H237.6" stroke="#dbe3f5"/><path d="M231.1,88.6H240.4M235.8,82.4V94.8M231.1,87.0V90.2M240.4,87.0V90.2M234.2,82.4H237.4M234.2,94.8H237.4" stroke="#dbe3f5"/><path d="M231.9,94.4H238.6M235.2,87.6V101.2M231.9,92.8V96.0M238.6,92.8V96.0M233.6,87.6H236.8M233.6,101.2H236.8" stroke="#dbe3f5"/><path d="M242.9,99.2H249.5M246.2,94.7V103.7M242.9,97.6V100.8M249.5,97.6V100.8M244.6,94.7H247.8M244.6,103.7H247.8" stroke="#dbe3f5"/><path d="M240.2,124.0H251.3M245.8,116.9V131.1M240.2,122.4V125.6M251.3,122.4V125.6M244.2,116.9H247.4M244.2,131.1H247.4" stroke="#dbe3f5"/><path d="M250.7,104.9H258.7M254.7,100.6V109.2M250.7,103.3V106.5M258.7,103.3V106.5M253.1,100.6H256.3M253.1,109.2H256.3" stroke="#dbe3f5"/><path d="M248.3,119.3H259.9M254.1,115.5V123.1M248.3,117.7V120.9M259.9,117.7V120.9M252.5,115.5H255.7M252.5,123.1H255.7" stroke="#dbe3f5"/><path d="M250.0,124.0H259.0M254.5,118.4V129.6M250.0,122.4V125.6M259.0,122.4V125.6M252.9,118.4H256.1M252.9,129.6H256.1" stroke="#dbe3f5"/><path d="M249.7,129.6H258.3M254.0,125.5V133.7M249.7,128.0V131.2M258.3,128.0V131.2M252.4,125.5H255.6M252.4,133.7H255.6" stroke="#dbe3f5"/><path d="M262.4,129.6H274.3M268.3,123.1V136.1M262.4,128.0V131.2M274.3,128.0V131.2M266.7,123.1H269.9M266.7,136.1H269.9" stroke="#dbe3f5"/><path d="M262.0,134.4H272.9M267.5,129.7V139.1M262.0,132.8V136.0M272.9,132.8V136.0M265.9,129.7H269.1M265.9,139.1H269.1" stroke="#dbe3f5"/><path d="M264.8,139.2H270.9M267.8,132.2V146.2M264.8,137.6V140.8M270.9,137.6V140.8M266.2,132.2H269.4M266.2,146.2H269.4" stroke="#dbe3f5"/><path d="M263.7,159.3H272.5M268.1,153.2V165.4M263.7,157.7V160.9M272.5,157.7V160.9M266.5,153.2H269.7M266.5,165.4H269.7" stroke="#dbe3f5"/><path d="M264.5,164.0H271.5M268.0,159.9V168.1M264.5,162.4V165.6M271.5,162.4V165.6M266.4,159.9H269.6M266.4,168.1H269.6" stroke="#dbe3f5"/><path d="M264.7,168.9H271.0M267.8,164.5V173.3M264.7,167.3V170.5M271.0,167.3V170.5M266.2,164.5H269.4M266.2,173.3H269.4" stroke="#dbe3f5"/><path d="M279.5,173.5H288.3M283.9,168.6V178.4M279.5,171.9V175.1M288.3,171.9V175.1M282.3,168.6H285.5M282.3,178.4H285.5" stroke="#dbe3f5"/><path d="M312.1,184.0H319.7M315.9,180.4V187.6M312.1,182.4V185.6M319.7,182.4V185.6M314.3,180.4H317.5M314.3,187.6H317.5" stroke="#dbe3f5"/><path d="M320.3,178.6H330.8M325.5,174.1V183.1M320.3,177.0V180.2M330.8,177.0V180.2M323.9,174.1H327.1M323.9,183.1H327.1" stroke="#dbe3f5"/><path d="M319.7,198.7H330.3M325.0,193.6V203.8M319.7,197.1V200.3M330.3,197.1V200.3M323.4,193.6H326.6M323.4,203.8H326.6" stroke="#dbe3f5"/><path d="M319.3,209.3H330.8M325.1,204.6V214.0M319.3,207.7V210.9M330.8,207.7V210.9M323.5,204.6H326.7M323.5,214.0H326.7" stroke="#dbe3f5"/><path d="M329.7,203.5H337.2M333.5,199.4V207.6M329.7,201.9V205.1M337.2,201.9V205.1M331.9,199.4H335.1M331.9,207.6H335.1" stroke="#dbe3f5"/><path d="M403.3,182.1H414.4M408.9,178.2V186.0M403.3,180.5V183.7M414.4,180.5V183.7M407.3,178.2H410.5M407.3,186.0H410.5" stroke="#dbe3f5"/><path d="M405.9,182.1H423.7M414.8,180.0V184.2M405.9,180.5V183.7M423.7,180.5V183.7M413.2,180.0H416.4M413.2,184.2H416.4" stroke="#dbe3f5"/><path d="M430.5,155.4H434.7M432.6,151.6V159.2M430.5,153.8V157.0M434.7,153.8V157.0M431.0,151.6H434.2M431.0,159.2H434.2" stroke="#dbe3f5"/><path d="M441.9,149.7H446.0M443.9,147.2V152.2M441.9,148.1V151.3M446.0,148.1V151.3M442.3,147.2H445.5M442.3,152.2H445.5" stroke="#dbe3f5"/><path d="M445.0,149.7H448.7M446.8,145.9V153.5M445.0,148.1V151.3M448.7,148.1V151.3M445.2,145.9H448.4M445.2,153.5H448.4" stroke="#dbe3f5"/><path d="M448.5,151.6H452.4M450.4,148.5V154.7M448.5,150.0V153.2M452.4,150.0V153.2M448.8,148.5H452.0M448.8,154.7H452.0" stroke="#dbe3f5"/><path d="M453.6,139.2H459.7M456.6,135.8V142.6M453.6,137.6V140.8M459.7,137.6V140.8M455.0,135.8H458.2M455.0,142.6H458.2" stroke="#dbe3f5"/><path d="M462.0,135.3H470.0M466.0,133.2V137.4M462.0,133.7V136.9M470.0,133.7V136.9M464.4,133.2H467.6M464.4,137.4H467.6" stroke="#dbe3f5"/><path d="M466.5,124.0H472.0M469.3,120.5V127.5M466.5,122.4V125.6M472.0,122.4V125.6M467.7,120.5H470.9M467.7,127.5H470.9" stroke="#dbe3f5"/><path d="M476.3,113.4H484.3M480.3,111.0V115.8M476.3,111.8V115.0M484.3,111.8V115.0M478.7,111.0H481.9M478.7,115.8H481.9" stroke="#dbe3f5"/><path d="M475.9,118.2H483.6M479.7,114.3V122.1M475.9,116.6V119.8M483.6,116.6V119.8M478.1,114.3H481.3M478.1,122.1H481.3" stroke="#dbe3f5"/><path d="M483.7,107.7H491.4M487.5,105.0V110.4M483.7,106.1V109.3M491.4,106.1V109.3M485.9,105.0H489.1M485.9,110.4H489.1" stroke="#dbe3f5"/><path d="M485.4,111.5H491.0M488.2,108.9V114.1M485.4,109.9V113.1M491.0,109.9V113.1M486.6,108.9H489.8M486.6,114.1H489.8" stroke="#dbe3f5"/><path d="M493.5,102.0H497.7M495.6,100.1V103.9M493.5,100.4V103.6M497.7,100.4V103.6M494.0,100.1H497.2M494.0,103.9H497.2" stroke="#dbe3f5"/><path d="M494.4,104.8H500.5M497.4,101.5V108.1M494.4,103.2V106.4M500.5,103.2V106.4M495.8,101.5H499.0M495.8,108.1H499.0" stroke="#dbe3f5"/><path d="M494.3,108.7H498.9M496.6,106.4V111.0M494.3,107.1V110.3M498.9,107.1V110.3M495.0,106.4H498.2M495.0,111.0H498.2" stroke="#dbe3f5"/><path d="M494.4,90.7H499.3M496.9,87.2V94.2M494.4,89.1V92.3M499.3,89.1V92.3M495.3,87.2H498.5M495.3,94.2H498.5" stroke="#dbe3f5"/><path d="M500.7,94.6H505.7M503.2,91.4V97.8M500.7,93.0V96.2M505.7,93.0V96.2M501.6,91.4H504.8M501.6,97.8H504.8" stroke="#dbe3f5"/><path d="M501.2,97.4H505.3M503.2,94.1V100.7M501.2,95.8V99.0M505.3,95.8V99.0M501.6,94.1H504.8M501.6,100.7H504.8" stroke="#dbe3f5"/><path d="M501.1,100.3H506.0M503.6,97.1V103.5M501.1,98.7V101.9M506.0,98.7V101.9M502.0,97.1H505.2M502.0,103.5H505.2" stroke="#dbe3f5"/><path d="M504.6,100.3H510.0M507.3,97.2V103.4M504.6,98.7V101.9M510.0,98.7V101.9M505.7,97.2H508.9M505.7,103.4H508.9" stroke="#dbe3f5"/><path d="M504.9,108.0H510.1M507.5,104.9V111.1M504.9,106.4V109.6M510.1,106.4V109.6M505.9,104.9H509.1M505.9,111.1H509.1" stroke="#dbe3f5"/><path d="M515.1,90.7H519.3M517.2,87.3V94.1M515.1,89.1V92.3M519.3,89.1V92.3M515.6,87.3H518.8M515.6,94.1H518.8" stroke="#dbe3f5"/><path d="M513.8,95.5H521.7M517.7,93.3V97.7M513.8,93.9V97.1M521.7,93.9V97.1M516.1,93.3H519.3M516.1,97.7H519.3" stroke="#dbe3f5"/><path d="M515.3,99.4H519.7M517.5,95.4V103.4M515.3,97.8V101.0M519.7,97.8V101.0M515.9,95.4H519.1M515.9,103.4H519.1" stroke="#dbe3f5"/><path d="M523.7,85.0H530.0M526.9,81.0V89.0M523.7,83.4V86.6M530.0,83.4V86.6M525.3,81.0H528.5M525.3,89.0H528.5" stroke="#dbe3f5"/><path d="M525.0,89.8H528.8M526.9,86.9V92.7M525.0,88.2V91.4M528.8,88.2V91.4M525.3,86.9H528.5M525.3,92.7H528.5" stroke="#dbe3f5"/><path d="M523.1,93.6H529.8M526.5,91.1V96.1M523.1,92.0V95.2M529.8,92.0V95.2M524.9,91.1H528.1M524.9,96.1H528.1" stroke="#dbe3f5"/><path d="M525.4,97.4H529.0M527.2,95.5V99.3M525.4,95.8V99.0M529.0,95.8V99.0M525.6,95.5H528.8M525.6,99.3H528.8" stroke="#dbe3f5"/><path d="M534.9,79.5H538.9M536.9,77.3V81.7M534.9,77.9V81.1M538.9,77.9V81.1M535.3,77.3H538.5M535.3,81.7H538.5" stroke="#dbe3f5"/><path d="M534.5,83.3H538.4M536.5,81.4V85.2M534.5,81.7V84.9M538.4,81.7V84.9M534.9,81.4H538.1M534.9,85.2H538.1" stroke="#dbe3f5"/><path d="M534.3,87.2H539.8M537.0,84.9V89.5M534.3,85.6V88.8M539.8,85.6V88.8M535.4,84.9H538.6M535.4,89.5H538.6" stroke="#dbe3f5"/><path d="M534.7,92.0H538.3M536.5,89.7V94.3M534.7,90.4V93.6M538.3,90.4V93.6M534.9,89.7H538.1M534.9,94.3H538.1" stroke="#dbe3f5"/><path d="M541.8,79.5H549.3M545.5,76.3V82.7M541.8,77.9V81.1M549.3,77.9V81.1M543.9,76.3H547.1M543.9,82.7H547.1" stroke="#dbe3f5"/><path d="M542.9,84.3H547.9M545.4,82.4V86.2M542.9,82.7V85.9M547.9,82.7V85.9M543.8,82.4H547.0M543.8,86.2H547.0" stroke="#dbe3f5"/><path d="M553.6,48.2H557.3M555.5,46.1V50.3M553.6,46.6V49.8M557.3,46.6V49.8M553.9,46.1H557.1M553.9,50.3H557.1" stroke="#dbe3f5"/><path d="M554.0,54.9H558.1M556.0,52.8V57.0M554.0,53.3V56.5M558.1,53.3V56.5M554.4,52.8H557.6M554.4,57.0H557.6" stroke="#dbe3f5"/><path d="M553.7,64.5H558.8M556.2,62.0V67.0M553.7,62.9V66.1M558.8,62.9V66.1M554.6,62.0H557.8M554.6,67.0H557.8" stroke="#dbe3f5"/><path d="M552.1,71.2H559.2M555.6,67.9V74.5M552.1,69.6V72.8M559.2,69.6V72.8M554.0,67.9H557.2M554.0,74.5H557.2" stroke="#dbe3f5"/><path d="M553.9,74.0H560.2M557.0,72.0V76.0M553.9,72.4V75.6M560.2,72.4V75.6M555.4,72.0H558.6M555.4,76.0H558.6" stroke="#dbe3f5"/><path d="M551.9,76.5H558.1M555.0,72.6V80.4M551.9,74.9V78.1M558.1,74.9V78.1M553.4,72.6H556.6M553.4,80.4H556.6" stroke="#dbe3f5"/><path d="M552.7,79.5H559.1M555.9,76.6V82.4M552.7,77.9V81.1M559.1,77.9V81.1M554.3,76.6H557.5M554.3,82.4H557.5" stroke="#dbe3f5"/><path d="M560.8,59.7H568.3M564.5,57.8V61.6M560.8,58.1V61.3M568.3,58.1V61.3M562.9,57.8H566.1M562.9,61.6H566.1" stroke="#dbe3f5"/><path d="M561.2,68.3H567.8M564.5,64.7V71.9M561.2,66.7V69.9M567.8,66.7V69.9M562.9,64.7H566.1M562.9,71.9H566.1" stroke="#dbe3f5"/><path d="M562.1,60.1H567.7M564.9,57.9V62.3M562.1,58.5V61.7M567.7,58.5V61.7M563.3,57.9H566.5M563.3,62.3H566.5" stroke="#dbe3f5"/><path d="M570.0,71.6H577.3M573.7,67.6V75.6M570.0,70.0V73.2M577.3,70.0V73.2M572.1,67.6H575.3M572.1,75.6H575.3" stroke="#dbe3f5"/><path d="M570.6,75.4H578.0M574.3,72.7V78.1M570.6,73.8V77.0M578.0,73.8V77.0M572.7,72.7H575.9M572.7,78.1H575.9" stroke="#dbe3f5"/><path d="M575.3,79.3H581.1M578.2,77.5V81.1M575.3,77.7V80.9M581.1,77.7V80.9M576.6,77.5H579.8M576.6,81.1H579.8" stroke="#dbe3f5"/><path d="M576.2,83.1H580.7M578.5,79.7V86.5M576.2,81.5V84.7M580.7,81.5V84.7M576.9,79.7H580.1M576.9,86.5H580.1" stroke="#dbe3f5"/><path d="M574.3,86.9H581.7M578.0,83.1V90.7M574.3,85.3V88.5M581.7,85.3V88.5M576.4,83.1H579.6M576.4,90.7H579.6" stroke="#dbe3f5"/><path d="M586.4,84.1H591.2M588.8,80.2V88.0M586.4,82.5V85.7M591.2,82.5V85.7M587.2,80.2H590.4M587.2,88.0H590.4" stroke="#dbe3f5"/><path d="M592.6,75.4H596.6M594.6,73.5V77.3M592.6,73.8V77.0M596.6,73.8V77.0M593.0,73.5H596.2M593.0,77.3H596.2" stroke="#dbe3f5"/><path d="M590.9,84.1H597.0M594.0,82.2V86.0M590.9,82.5V85.7M597.0,82.5V85.7M592.4,82.2H595.6M592.4,86.0H595.6" stroke="#dbe3f5"/><path d="M586.0,98.4H591.9M588.9,95.6V101.2M586.0,96.8V100.0M591.9,96.8V100.0M587.3,95.6H590.5M587.3,101.2H590.5" stroke="#dbe3f5"/><path d="M599.7,110.9H611.4M605.6,106.9V114.9M599.7,109.3V112.5M611.4,109.3V112.5M604.0,106.9H607.2M604.0,114.9H607.2" stroke="#dbe3f5"/><path d="M601.6,115.7H610.0M605.8,108.9V122.5M601.6,114.1V117.3M610.0,114.1V117.3M604.2,108.9H607.4M604.2,122.5H607.4" stroke="#dbe3f5"/><path d="M600.1,123.3H610.5M605.3,117.5V129.1M600.1,121.7V124.9M610.5,121.7V124.9M603.7,117.5H606.9M603.7,129.1H606.9" stroke="#dbe3f5"/><path d="M607.5,110.9H618.4M613.0,107.3V114.5M607.5,109.3V112.5M618.4,109.3V112.5M611.4,107.3H614.6M611.4,114.5H614.6" stroke="#dbe3f5"/><path d="M609.3,116.6H616.5M612.9,111.2V122.0M609.3,115.0V118.2M616.5,115.0V118.2M611.3,111.2H614.5M611.3,122.0H614.5" stroke="#dbe3f5"/><path d="M609.0,123.3H618.3M613.7,119.6V127.0M609.0,121.7V124.9M618.3,121.7V124.9M612.1,119.6H615.3M612.1,127.0H615.3" stroke="#dbe3f5"/><path d="M601.9,125.0H611.9M606.9,121.3V128.7M601.9,123.4V126.6M611.9,123.4V126.6M605.3,121.3H608.5M605.3,128.7H608.5" stroke="#dbe3f5"/><path d="M610.3,159.5H616.4M613.4,153.8V165.2M610.3,157.9V161.1M616.4,157.9V161.1M611.8,153.8H615.0M611.8,165.2H615.0" stroke="#dbe3f5"/><path d="M608.9,171.0H617.9M613.4,166.3V175.7M608.9,169.4V172.6M617.9,169.4V172.6M611.8,166.3H615.0M611.8,175.7H615.0" stroke="#dbe3f5"/><path d="M623.4,187.2H630.4M626.9,180.1V194.3M623.4,185.6V188.8M630.4,185.6V188.8M625.3,180.1H628.5M625.3,194.3H628.5" stroke="#dbe3f5"/><path d="M622.8,194.8H631.7M627.3,189.4V200.2M622.8,193.2V196.4M631.7,193.2V196.4M625.7,189.4H628.9M625.7,200.2H628.9" stroke="#dbe3f5"/><path d="M623.8,202.5H631.6M627.7,195.8V209.2M623.8,200.9V204.1M631.6,200.9V204.1M626.1,195.8H629.3M626.1,209.2H629.3" stroke="#dbe3f5"/><path d="M621.7,206.3H632.1M626.9,201.5V211.1M621.7,204.7V207.9M632.1,204.7V207.9M625.3,201.5H628.5M625.3,211.1H628.5" stroke="#dbe3f5"/><path d="M620.6,210.1H632.2M626.4,206.4V213.8M620.6,208.5V211.7M632.2,208.5V211.7M624.8,206.4H628.0M624.8,213.8H628.0" stroke="#dbe3f5"/><path d="M622.6,214.0H631.9M627.2,209.0V219.0M622.6,212.4V215.6M631.9,212.4V215.6M625.6,209.0H628.8M625.6,219.0H628.8" stroke="#dbe3f5"/><path d="M623.9,216.9H630.3M627.1,212.4V221.4M623.9,215.3V218.5M630.3,215.3V218.5M625.5,212.4H628.7M625.5,221.4H628.7" stroke="#dbe3f5"/><path d="M672.3,202.6H678.9M675.6,196.4V208.8M672.3,201.0V204.2M678.9,201.0V204.2M674.0,196.4H677.2M674.0,208.8H677.2" stroke="#dbe3f5"/><path d="M678.5,214.7H690.4M684.5,207.6V221.8M678.5,213.1V216.3M690.4,213.1V216.3M682.9,207.6H686.1M682.9,221.8H686.1" stroke="#dbe3f5"/><path d="M195.0,68.5H199.4M197.2,64.6V72.4M195.0,66.9V70.1M199.4,66.9V70.1M195.6,64.6H198.8M195.6,72.4H198.8" stroke="#e0e0e0"/><path d="M192.5,72.5H199.9M196.2,68.8V76.2M192.5,70.9V74.1M199.9,70.9V74.1M194.6,68.8H197.8M194.6,76.2H197.8" stroke="#e0e0e0"/><path d="M195.4,76.5H199.9M197.6,73.6V79.4M195.4,74.9V78.1M199.9,74.9V78.1M196.0,73.6H199.2M196.0,79.4H199.2" stroke="#e0e0e0"/><path d="M194.7,80.5H198.9M196.8,78.4V82.6M194.7,78.9V82.1M198.9,78.9V82.1M195.2,78.4H198.4M195.2,82.6H198.4" stroke="#e0e0e0"/><path d="M201.8,77.0H209.5M205.7,74.9V79.1M201.8,75.4V78.6M209.5,75.4V78.6M204.1,74.9H207.3M204.1,79.1H207.3" stroke="#e0e0e0"/><path d="M214.0,77.0H218.8M216.4,74.9V79.1M214.0,75.4V78.6M218.8,75.4V78.6M214.8,74.9H218.0M214.8,79.1H218.0" stroke="#e0e0e0"/><path d="M213.1,90.0H219.3M216.2,87.3V92.7M213.1,88.4V91.6M219.3,88.4V91.6M214.6,87.3H217.8M214.6,92.7H217.8" stroke="#e0e0e0"/><path d="M468.9,138.3H473.4M471.1,135.0V141.6M468.9,136.7V139.9M473.4,136.7V139.9M469.5,135.0H472.7M469.5,141.6H472.7" stroke="#e0e0e0"/><path d="M468.4,142.0H473.8M471.1,139.2V144.8M468.4,140.4V143.6M473.8,140.4V143.6M469.5,139.2H472.7M469.5,144.8H472.7" stroke="#e0e0e0"/><path d="M468.8,146.0H473.5M471.1,142.6V149.4M468.8,144.4V147.6M473.5,144.4V147.6M469.5,142.6H472.7M469.5,149.4H472.7" stroke="#e0e0e0"/><path d="M477.5,130.7H485.1M481.3,128.0V133.4M477.5,129.1V132.3M485.1,129.1V132.3M479.7,128.0H482.9M479.7,133.4H482.9" stroke="#e0e0e0"/><path d="M477.8,134.0H485.2M481.5,130.7V137.3M477.8,132.4V135.6M485.2,132.4V135.6M479.9,130.7H483.1M479.9,137.3H483.1" stroke="#e0e0e0"/><path d="M478.9,137.0H483.1M481.0,133.0V141.0M478.9,135.4V138.6M483.1,135.4V138.6M479.4,133.0H482.6M479.4,141.0H482.6" stroke="#e0e0e0"/><path d="M479.1,140.2H484.1M481.6,136.3V144.1M479.1,138.6V141.8M484.1,138.6V141.8M480.0,136.3H483.2M480.0,144.1H483.2" stroke="#e0e0e0"/><path d="M486.8,111.5H491.1M488.9,109.2V113.8M486.8,109.9V113.1M491.1,109.9V113.1M487.3,109.2H490.5M487.3,113.8H490.5" stroke="#e0e0e0"/><path d="M485.6,115.3H491.3M488.5,112.2V118.4M485.6,113.7V116.9M491.3,113.7V116.9M486.9,112.2H490.1M486.9,118.4H490.1" stroke="#e0e0e0"/><path d="M486.7,118.2H490.7M488.7,114.6V121.8M486.7,116.6V119.8M490.7,116.6V119.8M487.1,114.6H490.3M487.1,121.8H490.3" stroke="#e0e0e0"/><path d="M486.2,121.0H492.2M489.2,118.9V123.1M486.2,119.4V122.6M492.2,119.4V122.6M487.6,118.9H490.8M487.6,123.1H490.8" stroke="#e0e0e0"/><path d="M485.7,124.0H492.1M488.9,121.3V126.7M485.7,122.4V125.6M492.1,122.4V125.6M487.3,121.3H490.5M487.3,126.7H490.5" stroke="#e0e0e0"/><path d="M492.4,110.5H497.7M495.0,107.6V113.4M492.4,108.9V112.1M497.7,108.9V112.1M493.4,107.6H496.6M493.4,113.4H496.6" stroke="#e0e0e0"/><path d="M491.2,113.3H497.2M494.2,109.8V116.8M491.2,111.7V114.9M497.2,111.7V114.9M492.6,109.8H495.8M492.6,116.8H495.8" stroke="#e0e0e0"/><path d="M492.4,116.0H497.1M494.7,112.0V120.0M492.4,114.4V117.6M497.1,114.4V117.6M493.1,112.0H496.3M493.1,120.0H496.3" stroke="#e0e0e0"/><path d="M491.2,118.7H496.6M493.9,116.0V121.4M491.2,117.1V120.3M496.6,117.1V120.3M492.3,116.0H495.5M492.3,121.4H495.5" stroke="#e0e0e0"/><path d="M492.2,121.4H496.6M494.4,118.2V124.6M492.2,119.8V123.0M496.6,119.8V123.0M492.8,118.2H496.0M492.8,124.6H496.0" stroke="#e0e0e0"/><path d="M491.2,124.0H497.0M494.1,120.3V127.7M491.2,122.4V125.6M497.0,122.4V125.6M492.5,120.3H495.7M492.5,127.7H495.7" stroke="#e0e0e0"/><path d="M492.0,130.7H497.7M494.8,128.3V133.1M492.0,129.1V132.3M497.7,129.1V132.3M493.2,128.3H496.4M493.2,133.1H496.4" stroke="#e0e0e0"/><path d="M500.4,114.4H505.4M502.9,111.1V117.7M500.4,112.8V116.0M505.4,112.8V116.0M501.3,111.1H504.5M501.3,117.7H504.5" stroke="#e0e0e0"/><path d="M498.9,117.0H506.7M502.8,113.1V120.9M498.9,115.4V118.6M506.7,115.4V118.6M501.2,113.1H504.4M501.2,120.9H504.4" stroke="#e0e0e0"/><path d="M498.9,119.2H506.9M502.9,116.1V122.3M498.9,117.6V120.8M506.9,117.6V120.8M501.3,116.1H504.5M501.3,122.3H504.5" stroke="#e0e0e0"/><path d="M504.7,110.5H510.5M507.6,108.6V112.4M504.7,108.9V112.1M510.5,108.9V112.1M506.0,108.6H509.2M506.0,112.4H509.2" stroke="#e0e0e0"/><path d="M505.4,113.0H509.8M507.6,110.4V115.6M505.4,111.4V114.6M509.8,111.4V114.6M506.0,110.4H509.2M506.0,115.6H509.2" stroke="#e0e0e0"/><path d="M505.0,115.3H511.3M508.2,111.7V118.9M505.0,113.7V116.9M511.3,113.7V116.9M506.6,111.7H509.8M506.6,118.9H509.8" stroke="#e0e0e0"/><path d="M515.3,107.7H520.4M517.8,104.6V110.8M515.3,106.1V109.3M520.4,106.1V109.3M516.2,104.6H519.4M516.2,110.8H519.4" stroke="#e0e0e0"/><path d="M514.8,111.5H520.1M517.5,107.6V115.4M514.8,109.9V113.1M520.1,109.9V113.1M515.9,107.6H519.1M515.9,115.4H519.1" stroke="#e0e0e0"/><path d="M513.1,115.3H520.5M516.8,112.1V118.5M513.1,113.7V116.9M520.5,113.7V116.9M515.2,112.1H518.4M515.2,118.5H518.4" stroke="#e0e0e0"/><path d="M522.9,103.8H529.9M526.4,101.4V106.2M522.9,102.2V105.4M529.9,102.2V105.4M524.8,101.4H528.0M524.8,106.2H528.0" stroke="#e0e0e0"/><path d="M50.3,183.4H66.3M58.3,181.3V185.5M50.3,181.8V185.0M66.3,181.8V185.0M56.7,181.3H59.9M56.7,185.5H59.9" stroke="#e0e0e0"/><path d="M58.1,183.4H70.5M64.3,180.5V186.3M58.1,181.8V185.0M70.5,181.8V185.0M62.7,180.5H65.9M62.7,186.3H65.9" stroke="#e0e0e0"/><path d="M64.4,183.4H74.8M69.6,179.7V187.1M64.4,181.8V185.0M74.8,181.8V185.0M68.0,179.7H71.2M68.0,187.1H71.2" stroke="#e0e0e0"/><path d="M41.5,188.0H57.7M49.6,185.2V190.8M41.5,186.4V189.6M57.7,186.4V189.6M48.0,185.2H51.2M48.0,190.8H51.2" stroke="#e0e0e0"/><path d="M47.7,188.0H64.8M56.3,184.9V191.1M47.7,186.4V189.6M64.8,186.4V189.6M54.7,184.9H57.9M54.7,191.1H57.9" stroke="#e0e0e0"/><path d="M50.5,188.0H66.2M58.3,186.1V189.9M50.5,186.4V189.6M66.2,186.4V189.6M56.7,186.1H59.9M56.7,189.9H59.9" stroke="#e0e0e0"/><path d="M57.4,188.0H72.1M64.7,185.5V190.5M57.4,186.4V189.6M72.1,186.4V189.6M63.1,185.5H66.3M63.1,190.5H66.3" stroke="#e0e0e0"/><path d="M43.2,192.5H54.8M49.0,190.7V194.3M43.2,190.9V194.1M54.8,190.9V194.1M47.4,190.7H50.6M47.4,194.3H50.6" stroke="#e0e0e0"/><path d="M45.1,192.5H59.2M52.1,189.5V195.5M45.1,190.9V194.1M59.2,190.9V194.1M50.5,189.5H53.7M50.5,195.5H53.7" stroke="#e0e0e0"/><path d="M50.6,192.5H61.3M56.0,190.1V194.9M50.6,190.9V194.1M61.3,190.9V194.1M54.4,190.1H57.6M54.4,194.9H57.6" stroke="#e0e0e0"/><path d="M53.7,192.5H64.1M58.9,189.4V195.6M53.7,190.9V194.1M64.1,190.9V194.1M57.3,189.4H60.5M57.3,195.6H60.5" stroke="#e0e0e0"/><path d="M55.4,192.5H70.1M62.8,189.4V195.6M55.4,190.9V194.1M70.1,190.9V194.1M61.2,189.4H64.4M61.2,195.6H64.4" stroke="#e0e0e0"/><path d="M89.4,158.7H94.5M92.0,156.0V161.4M89.4,157.1V160.3M94.5,157.1V160.3M90.4,156.0H93.6M90.4,161.4H93.6" stroke="#e0e0e0"/><path d="M95.6,158.7H103.1M99.4,155.3V162.1M95.6,157.1V160.3M103.1,157.1V160.3M97.8,155.3H101.0M97.8,162.1H101.0" stroke="#e0e0e0"/><path d="M87.9,163.5H95.1M91.5,160.6V166.4M87.9,161.9V165.1M95.1,161.9V165.1M89.9,160.6H93.1M89.9,166.4H93.1" stroke="#e0e0e0"/><path d="M93.1,163.5H98.0M95.5,161.4V165.6M93.1,161.9V165.1M98.0,161.9V165.1M93.9,161.4H97.1M93.9,165.6H97.1" stroke="#e0e0e0"/><path d="M97.4,163.5H102.3M99.8,159.8V167.2M97.4,161.9V165.1M102.3,161.9V165.1M98.2,159.8H101.4M98.2,167.2H101.4" stroke="#e0e0e0"/><path d="M80.2,168.3H86.0M83.1,166.3V170.3M80.2,166.7V169.9M86.0,166.7V169.9M81.5,166.3H84.7M81.5,170.3H84.7" stroke="#e0e0e0"/><path d="M83.7,168.3H87.6M85.7,164.4V172.2M83.7,166.7V169.9M87.6,166.7V169.9M84.1,164.4H87.3M84.1,172.2H87.3" stroke="#e0e0e0"/><path d="M85.9,168.3H90.9M88.4,166.2V170.4M85.9,166.7V169.9M90.9,166.7V169.9M86.8,166.2H90.0M86.8,170.4H90.0" stroke="#e0e0e0"/><path d="M88.5,168.3H94.2M91.3,166.2V170.4M88.5,166.7V169.9M94.2,166.7V169.9M89.7,166.2H92.9M89.7,170.4H92.9" stroke="#e0e0e0"/><path d="M91.4,168.3H96.1M93.8,165.6V171.0M91.4,166.7V169.9M96.1,166.7V169.9M92.2,165.6H95.4M92.2,171.0H95.4" stroke="#e0e0e0"/><path d="M79.7,173.0H87.4M83.6,169.4V176.6M79.7,171.4V174.6M87.4,171.4V174.6M82.0,169.4H85.2M82.0,176.6H85.2" stroke="#e0e0e0"/><path d="M83.5,173.0H89.2M86.4,170.1V175.9M83.5,171.4V174.6M89.2,171.4V174.6M84.8,170.1H88.0M84.8,175.9H88.0" stroke="#e0e0e0"/><path d="M92.7,173.0H96.7M94.7,170.1V175.9M92.7,171.4V174.6M96.7,171.4V174.6M93.1,170.1H96.3M93.1,175.9H96.3" stroke="#e0e0e0"/><path d="M79.7,177.9H85.1M82.4,175.5V180.3M79.7,176.3V179.5M85.1,176.3V179.5M80.8,175.5H84.0M80.8,180.3H84.0" stroke="#e0e0e0"/><path d="M108.1,143.4H113.2M110.7,139.6V147.2M108.1,141.8V145.0M113.2,141.8V145.0M109.1,139.6H112.3M109.1,147.2H112.3" stroke="#e0e0e0"/><path d="M107.7,149.2H112.2M110.0,147.2V151.2M107.7,147.6V150.8M112.2,147.6V150.8M108.4,147.2H111.6M108.4,151.2H111.6" stroke="#e0e0e0"/><path d="M129.9,105.7H134.8M132.3,101.9V109.5M129.9,104.1V107.3M134.8,104.1V107.3M130.7,101.9H133.9M130.7,109.5H133.9" stroke="#e0e0e0"/><path d="M132.0,109.5H139.7M135.9,107.1V111.9M132.0,107.9V111.1M139.7,107.9V111.1M134.3,107.1H137.5M134.3,111.9H137.5" stroke="#e0e0e0"/><path d="M130.3,112.0H135.7M133.0,108.1V115.9M130.3,110.4V113.6M135.7,110.4V113.6M131.4,108.1H134.6M131.4,115.9H134.6" stroke="#e0e0e0"/><path d="M134.0,114.3H137.9M136.0,111.0V117.6M134.0,112.7V115.9M137.9,112.7V115.9M134.4,111.0H137.6M134.4,117.6H137.6" stroke="#e0e0e0"/><path d="M129.1,116.2H137.0M133.1,112.8V119.6M129.1,114.6V117.8M137.0,114.6V117.8M131.5,112.8H134.7M131.5,119.6H134.7" stroke="#e0e0e0"/><path d="M132.2,120.0H139.5M135.9,117.4V122.6M132.2,118.4V121.6M139.5,118.4V121.6M134.3,117.4H137.5M134.3,122.6H137.5" stroke="#e0e0e0"/><path d="M129.9,123.9H136.7M133.3,121.8V126.0M129.9,122.3V125.5M136.7,122.3V125.5M131.7,121.8H134.9M131.7,126.0H134.9" stroke="#e0e0e0"/><path d="M130.5,128.5H138.4M134.4,125.5V131.5M130.5,126.9V130.1M138.4,126.9V130.1M132.8,125.5H136.0M132.8,131.5H136.0" stroke="#e0e0e0"/><path d="M130.7,132.0H138.4M134.6,129.6V134.4M130.7,130.4V133.6M138.4,130.4V133.6M133.0,129.6H136.2M133.0,134.4H136.2" stroke="#e0e0e0"/><path d="M125.7,129.0H130.7M128.2,126.9V131.1M125.7,127.4V130.6M130.7,127.4V130.6M126.6,126.9H129.8M126.6,131.1H129.8" stroke="#e0e0e0"/><path d="M126.8,133.0H131.2M129.0,131.2V134.8M126.8,131.4V134.6M131.2,131.4V134.6M127.4,131.2H130.6M127.4,134.8H130.6" stroke="#e0e0e0"/><path d="M125.5,138.0H131.8M128.6,134.7V141.3M125.5,136.4V139.6M131.8,136.4V139.6M127.0,134.7H130.2M127.0,141.3H130.2" stroke="#e0e0e0"/><path d="M118.9,138.0H122.9M120.9,135.1V140.9M118.9,136.4V139.6M122.9,136.4V139.6M119.3,135.1H122.5M119.3,140.9H122.5" stroke="#e0e0e0"/><path d="M118.0,142.0H123.8M120.9,138.6V145.4M118.0,140.4V143.6M123.8,140.4V143.6M119.3,138.6H122.5M119.3,145.4H122.5" stroke="#e0e0e0"/><path d="M139.6,109.5H145.9M142.7,107.6V111.4M139.6,107.9V111.1M145.9,107.9V111.1M141.1,107.6H144.3M141.1,111.4H144.3" stroke="#e0e0e0"/><path d="M143.6,112.0H151.2M147.4,109.9V114.1M143.6,110.4V113.6M151.2,110.4V113.6M145.8,109.9H149.0M145.8,114.1H149.0" stroke="#e0e0e0"/><path d="M146.3,115.2H150.1M148.2,111.3V119.1M146.3,113.6V116.8M150.1,113.6V116.8M146.6,111.3H149.8M146.6,119.1H149.8" stroke="#e0e0e0"/><path d="M140.1,118.0H145.5M142.8,115.0V121.0M140.1,116.4V119.6M145.5,116.4V119.6M141.2,115.0H144.4M141.2,121.0H144.4" stroke="#e0e0e0"/><path d="M143.3,122.9H151.1M147.2,119.5V126.3M143.3,121.3V124.5M151.1,121.3V124.5M145.6,119.5H148.8M145.6,126.3H148.8" stroke="#e0e0e0"/><path d="M156.0,103.7H159.9M158.0,100.3V107.1M156.0,102.1V105.3M159.9,102.1V105.3M156.4,100.3H159.6M156.4,107.1H159.6" stroke="#e0e0e0"/><path d="M155.3,106.5H159.0M157.1,103.0V110.0M155.3,104.9V108.1M159.0,104.9V108.1M155.5,103.0H158.7M155.5,110.0H158.7" stroke="#e0e0e0"/><path d="M154.7,109.5H160.3M157.5,106.6V112.4M154.7,107.9V111.1M160.3,107.9V111.1M155.9,106.6H159.1M155.9,112.4H159.1" stroke="#e0e0e0"/><path d="M163.5,103.0H171.5M167.5,99.7V106.3M163.5,101.4V104.6M171.5,101.4V104.6M165.9,99.7H169.1M165.9,106.3H169.1" stroke="#e0e0e0"/><path d="M164.5,108.7H171.2M167.9,105.9V111.5M164.5,107.1V110.3M171.2,107.1V110.3M166.3,105.9H169.5M166.3,111.5H169.5" stroke="#e0e0e0"/><path d="M165.3,114.5H170.5M167.9,111.6V117.4M165.3,112.9V116.1M170.5,112.9V116.1M166.3,111.6H169.5M166.3,117.4H169.5" stroke="#e0e0e0"/><path d="M174.5,99.5H179.2M176.9,97.4V101.6M174.5,97.9V101.1M179.2,97.9V101.1M175.3,97.4H178.5M175.3,101.6H178.5" stroke="#e0e0e0"/><path d="M174.9,105.3H179.8M177.4,101.7V108.9M174.9,103.7V106.9M179.8,103.7V106.9M175.8,101.7H179.0M175.8,108.9H179.0" stroke="#e0e0e0"/><path d="M183.7,104.0H188.8M186.2,100.8V107.2M183.7,102.4V105.6M188.8,102.4V105.6M184.6,100.8H187.8M184.6,107.2H187.8" stroke="#e0e0e0"/><path d="M184.0,105.2H189.2M186.6,102.2V108.2M184.0,103.6V106.8M189.2,103.6V106.8M185.0,102.2H188.2M185.0,108.2H188.2" stroke="#e0e0e0"/><path d="M192.0,85.3H198.5M195.2,81.4V89.2M192.0,83.7V86.9M198.5,83.7V86.9M193.6,81.4H196.8M193.6,89.2H196.8" stroke="#e0e0e0"/><path d="M194.1,85.3H202.0M198.1,82.0V88.6M194.1,83.7V86.9M202.0,83.7V86.9M196.5,82.0H199.7M196.5,88.6H199.7" stroke="#e0e0e0"/><path d="M193.9,94.5H200.3M197.1,90.8V98.2M193.9,92.9V96.1M200.3,92.9V96.1M195.5,90.8H198.7M195.5,98.2H198.7" stroke="#e0e0e0"/><path d="M196.4,99.1H203.1M199.8,96.7V101.5M196.4,97.5V100.7M203.1,97.5V100.7M198.2,96.7H201.4M198.2,101.5H201.4" stroke="#e0e0e0"/><path d="M201.7,74.6H208.3M205.0,72.4V76.8M201.7,73.0V76.2M208.3,73.0V76.2M203.4,72.4H206.6M203.4,76.8H206.6" stroke="#e0e0e0"/><path d="M201.8,80.7H208.9M205.4,77.1V84.3M201.8,79.1V82.3M208.9,79.1V82.3M203.8,77.1H207.0M203.8,84.3H207.0" stroke="#e0e0e0"/><path d="M202.3,85.3H207.3M204.8,82.1V88.5M202.3,83.7V86.9M207.3,83.7V86.9M203.2,82.1H206.4M203.2,88.5H206.4" stroke="#e0e0e0"/><path d="M211.3,80.0H217.8M214.5,76.9V83.1M211.3,78.4V81.6M217.8,78.4V81.6M212.9,76.9H216.1M212.9,83.1H216.1" stroke="#e0e0e0"/><path d="M213.7,85.3H219.2M216.5,83.0V87.6M213.7,83.7V86.9M219.2,83.7V86.9M214.9,83.0H218.1M214.9,87.6H218.1" stroke="#e0e0e0"/><path d="M210.8,94.5H216.5M213.6,91.1V97.9M210.8,92.9V96.1M216.5,92.9V96.1M212.0,91.1H215.2M212.0,97.9H215.2" stroke="#e0e0e0"/><path d="M213.8,99.1H217.7M215.7,96.1V102.1M213.8,97.5V100.7M217.7,97.5V100.7M214.1,96.1H217.3M214.1,102.1H217.3" stroke="#e0e0e0"/><path d="M210.7,104.5H218.3M214.5,100.7V108.3M210.7,102.9V106.1M218.3,102.9V106.1M212.9,100.7H216.1M212.9,108.3H216.1" stroke="#e0e0e0"/><path d="M224.3,104.0H235.0M229.6,99.5V108.5M224.3,102.4V105.6M235.0,102.4V105.6M228.0,99.5H231.2M228.0,108.5H231.2" stroke="#e0e0e0"/><path d="M231.1,99.2H239.4M235.2,94.4V104.0M231.1,97.6V100.8M239.4,97.6V100.8M233.6,94.4H236.8M233.6,104.0H236.8" stroke="#e0e0e0"/><path d="M240.9,114.5H250.1M245.5,108.2V120.8M240.9,112.9V116.1M250.1,112.9V116.1M243.9,108.2H247.1M243.9,120.8H247.1" stroke="#e0e0e0"/><path d="M241.0,119.3H251.1M246.1,114.3V124.3M241.0,117.7V120.9M251.1,117.7V120.9M244.5,114.3H247.7M244.5,124.3H247.7" stroke="#e0e0e0"/><path d="M242.2,128.9H250.3M246.2,123.0V134.8M242.2,127.3V130.5M250.3,127.3V130.5M244.6,123.0H247.8M244.6,134.8H247.8" stroke="#e0e0e0"/><path d="M249.7,114.5H259.1M254.4,110.9V118.1M249.7,112.9V116.1M259.1,112.9V116.1M252.8,110.9H256.0M252.8,118.1H256.0" stroke="#e0e0e0"/><path d="M250.2,128.9H257.5M253.8,123.9V133.9M250.2,127.3V130.5M257.5,127.3V130.5M252.2,123.9H255.4M252.2,133.9H255.4" stroke="#e0e0e0"/><path d="M250.2,123.8H260.1M255.2,116.7V130.9M250.2,122.2V125.4M260.1,122.2V125.4M253.6,116.7H256.8M253.6,130.9H256.8" stroke="#e0e0e0"/><path d="M251.0,134.4H257.6M254.3,128.4V140.4M251.0,132.8V136.0M257.6,132.8V136.0M252.7,128.4H255.9M252.7,140.4H255.9" stroke="#e0e0e0"/><path d="M249.0,144.0H260.4M254.7,140.0V148.0M249.0,142.4V145.6M260.4,142.4V145.6M253.1,140.0H256.3M253.1,148.0H256.3" stroke="#e0e0e0"/><path d="M250.5,148.7H259.4M255.0,144.7V152.7M250.5,147.1V150.3M259.4,147.1V150.3M253.4,144.7H256.6M253.4,152.7H256.6" stroke="#e0e0e0"/><path d="M264.6,134.4H272.2M268.4,128.0V140.8M264.6,132.8V136.0M272.2,132.8V136.0M266.8,128.0H270.0M266.8,140.8H270.0" stroke="#e0e0e0"/><path d="M264.3,144.0H272.5M268.4,137.3V150.7M264.3,142.4V145.6M272.5,142.4V145.6M266.8,137.3H270.0M266.8,150.7H270.0" stroke="#e0e0e0"/><path d="M263.3,148.7H272.8M268.1,143.5V153.9M263.3,147.1V150.3M272.8,147.1V150.3M266.5,143.5H269.7M266.5,153.9H269.7" stroke="#e0e0e0"/><path d="M262.7,159.3H273.6M268.1,152.8V165.8M262.7,157.7V160.9M273.6,157.7V160.9M266.5,152.8H269.7M266.5,165.8H269.7" stroke="#e0e0e0"/><path d="M280.5,159.3H288.3M284.4,152.5V166.1M280.5,157.7V160.9M288.3,157.7V160.9M282.8,152.5H286.0M282.8,166.1H286.0" stroke="#e0e0e0"/><path d="M294.0,168.7H303.7M298.8,161.7V175.7M294.0,167.1V170.3M303.7,167.1V170.3M297.2,161.7H300.4M297.2,175.7H300.4" stroke="#e0e0e0"/><path d="M293.6,173.5H304.0M298.8,167.4V179.6M293.6,171.9V175.1M304.0,171.9V175.1M297.2,167.4H300.4M297.2,179.6H300.4" stroke="#e0e0e0"/><path d="M311.5,173.5H319.7M315.6,167.5V179.5M311.5,171.9V175.1M319.7,171.9V175.1M314.0,167.5H317.2M314.0,179.5H317.2" stroke="#e0e0e0"/><path d="M321.0,194.0H328.8M324.9,188.9V199.1M321.0,192.4V195.6M328.8,192.4V195.6M323.3,188.9H326.5M323.3,199.1H326.5" stroke="#e0e0e0"/><path d="M327.6,198.7H337.8M332.7,193.4V204.0M327.6,197.1V200.3M337.8,197.1V200.3M331.1,193.4H334.3M331.1,204.0H334.3" stroke="#e0e0e0"/><path d="M402.7,174.5H418.0M410.4,171.2V177.8M402.7,172.9V176.1M418.0,172.9V176.1M408.8,171.2H412.0M408.8,177.8H412.0" stroke="#e0e0e0"/><path d="M406.1,174.5H422.1M414.1,171.8V177.2M406.1,172.9V176.1M422.1,172.9V176.1M412.5,171.8H415.7M412.5,177.2H415.7" stroke="#e0e0e0"/><path d="M402.6,178.3H414.4M408.5,175.5V181.1M402.6,176.7V179.9M414.4,176.7V179.9M406.9,175.5H410.1M406.9,181.1H410.1" stroke="#e0e0e0"/><path d="M405.0,178.3H421.8M413.4,174.4V182.2M405.0,176.7V179.9M421.8,176.7V179.9M411.8,174.4H415.0M411.8,182.2H415.0" stroke="#e0e0e0"/><path d="M409.4,178.3H425.2M417.3,174.7V181.9M409.4,176.7V179.9M425.2,176.7V179.9M415.7,174.7H418.9M415.7,181.9H418.9" stroke="#e0e0e0"/><path d="M404.3,186.0H416.7M410.5,182.4V189.6M404.3,184.4V187.6M416.7,184.4V187.6M408.9,182.4H412.1M408.9,189.6H412.1" stroke="#e0e0e0"/><path d="M417.5,186.0H430.1M423.8,183.5V188.5M417.5,184.4V187.6M430.1,184.4V187.6M422.2,183.5H425.4M422.2,188.5H425.4" stroke="#e0e0e0"/><path d="M429.6,169.7H435.4M432.5,167.1V172.3M429.6,168.1V171.3M435.4,168.1V171.3M430.9,167.1H434.1M430.9,172.3H434.1" stroke="#e0e0e0"/><path d="M429.2,174.5H436.6M432.9,171.2V177.8M429.2,172.9V176.1M436.6,172.9V176.1M431.3,171.2H434.5M431.3,177.8H434.5" stroke="#e0e0e0"/><path d="M442.5,155.4H450.4M446.4,153.1V157.7M442.5,153.8V157.0M450.4,153.8V157.0M444.8,153.1H448.0M444.8,157.7H448.0" stroke="#e0e0e0"/><path d="M447.0,155.4H451.0M449.0,152.7V158.1M447.0,153.8V157.0M451.0,153.8V157.0M447.4,152.7H450.6M447.4,158.1H450.6" stroke="#e0e0e0"/><path d="M440.9,159.3H444.8M442.8,155.8V162.8M440.9,157.7V160.9M444.8,157.7V160.9M441.2,155.8H444.4M441.2,162.8H444.4" stroke="#e0e0e0"/><path d="M443.8,159.3H449.6M446.7,155.7V162.9M443.8,157.7V160.9M449.6,157.7V160.9M445.1,155.7H448.3M445.1,162.9H448.3" stroke="#e0e0e0"/><path d="M448.0,159.3H453.2M450.6,156.4V162.2M448.0,157.7V160.9M453.2,157.7V160.9M449.0,156.4H452.2M449.0,162.2H452.2" stroke="#e0e0e0"/><path d="M440.4,163.1H445.3M442.9,160.6V165.6M440.4,161.5V164.7M445.3,161.5V164.7M441.3,160.6H444.5M441.3,165.6H444.5" stroke="#e0e0e0"/><path d="M443.7,163.1H448.8M446.3,160.8V165.4M443.7,161.5V164.7M448.8,161.5V164.7M444.7,160.8H447.9M444.7,165.4H447.9" stroke="#e0e0e0"/><path d="M440.0,167.0H444.2M442.1,163.1V170.9M440.0,165.4V168.6M444.2,165.4V168.6M440.5,163.1H443.7M440.5,170.9H443.7" stroke="#e0e0e0"/><path d="M442.6,167.0H449.0M445.8,164.3V169.7M442.6,165.4V168.6M449.0,165.4V168.6M444.2,164.3H447.4M444.2,169.7H447.4" stroke="#e0e0e0"/><path d="M454.3,143.9H458.4M456.4,141.9V145.9M454.3,142.3V145.5M458.4,142.3V145.5M454.8,141.9H458.0M454.8,145.9H458.0" stroke="#e0e0e0"/><path d="M454.7,148.7H460.1M457.4,144.9V152.5M454.7,147.1V150.3M460.1,147.1V150.3M455.8,144.9H459.0M455.8,152.5H459.0" stroke="#e0e0e0"/><path d="M454.8,153.5H459.0M456.9,150.5V156.5M454.8,151.9V155.1M459.0,151.9V155.1M455.3,150.5H458.5M455.3,156.5H458.5" stroke="#e0e0e0"/><path d="M464.5,141.0H468.3M466.4,137.1V144.9M464.5,139.4V142.6M468.3,139.4V142.6M464.8,137.1H468.0M464.8,144.9H468.0" stroke="#e0e0e0"/><path d="M463.9,146.8H468.3M466.1,144.8V148.8M463.9,145.2V148.4M468.3,145.2V148.4M464.5,144.8H467.7M464.5,148.8H467.7" stroke="#e0e0e0"/><path d="M477.3,126.9H482.9M480.1,125.1V128.7M477.3,125.3V128.5M482.9,125.3V128.5M478.5,125.1H481.7M478.5,128.7H481.7" stroke="#e0e0e0"/><path d="M485.2,114.4H490.0M487.6,110.9V117.9M485.2,112.8V116.0M490.0,112.8V116.0M486.0,110.9H489.2M486.0,117.9H489.2" stroke="#e0e0e0"/><path d="M485.4,119.2H491.4M488.4,116.4V122.0M485.4,117.6V120.8M491.4,117.6V120.8M486.8,116.4H490.0M486.8,122.0H490.0" stroke="#e0e0e0"/><path d="M484.1,123.0H492.1M488.1,119.4V126.6M484.1,121.4V124.6M492.1,121.4V124.6M486.5,119.4H489.7M486.5,126.6H489.7" stroke="#e0e0e0"/><path d="M492.5,111.5H498.3M495.4,109.2V113.8M492.5,109.9V113.1M498.3,109.9V113.1M493.8,109.2H497.0M493.8,113.8H497.0" stroke="#e0e0e0"/><path d="M495.6,115.0H500.1M497.8,112.7V117.3M495.6,113.4V116.6M500.1,113.4V116.6M496.2,112.7H499.4M496.2,117.3H499.4" stroke="#e0e0e0"/><path d="M492.9,119.0H499.7M496.3,115.3V122.7M492.9,117.4V120.6M499.7,117.4V120.6M494.7,115.3H497.9M494.7,122.7H497.9" stroke="#e0e0e0"/><path d="M495.0,123.0H499.9M497.5,120.3V125.7M495.0,121.4V124.6M499.9,121.4V124.6M495.9,120.3H499.1M495.9,125.7H499.1" stroke="#e0e0e0"/><path d="M514.6,108.0H519.5M517.1,105.3V110.7M514.6,106.4V109.6M519.5,106.4V109.6M515.5,105.3H518.7M515.5,110.7H518.7" stroke="#e0e0e0"/><path d="M525.1,102.2H529.0M527.1,99.8V104.6M525.1,100.6V103.8M529.0,100.6V103.8M525.5,99.8H528.7M525.5,104.6H528.7" stroke="#e0e0e0"/><path d="M514.4,112.0H521.0M517.7,108.8V115.2M514.4,110.4V113.6M521.0,110.4V113.6M516.1,108.8H519.3M516.1,115.2H519.3" stroke="#e0e0e0"/><path d="M514.4,116.8H518.5M516.4,114.6V119.0M514.4,115.2V118.4M518.5,115.2V118.4M514.8,114.6H518.0M514.8,119.0H518.0" stroke="#e0e0e0"/><path d="M534.0,103.4H538.8M536.4,99.9V106.9M534.0,101.8V105.0M538.8,101.8V105.0M534.8,99.9H538.0M534.8,106.9H538.0" stroke="#e0e0e0"/><path d="M533.1,107.3H539.7M536.4,105.4V109.2M533.1,105.7V108.9M539.7,105.7V108.9M534.8,105.4H538.0M534.8,109.2H538.0" stroke="#e0e0e0"/><path d="M541.6,95.8H548.7M545.2,92.0V99.6M541.6,94.2V97.4M548.7,94.2V97.4M543.6,92.0H546.8M543.6,99.6H546.8" stroke="#e0e0e0"/><path d="M542.6,99.6H547.7M545.1,97.0V102.2M542.6,98.0V101.2M547.7,98.0V101.2M543.5,97.0H546.7M543.5,102.2H546.7" stroke="#e0e0e0"/><path d="M550.3,83.3H557.7M554.0,80.8V85.8M550.3,81.7V84.9M557.7,81.7V84.9M552.4,80.8H555.6M552.4,85.8H555.6" stroke="#e0e0e0"/><path d="M554.4,86.0H558.1M556.3,83.9V88.1M554.4,84.4V87.6M558.1,84.4V87.6M554.7,83.9H557.9M554.7,88.1H557.9" stroke="#e0e0e0"/><path d="M551.6,89.0H557.9M554.7,85.0V93.0M551.6,87.4V90.6M557.9,87.4V90.6M553.1,85.0H556.3M553.1,93.0H556.3" stroke="#e0e0e0"/><path d="M553.1,92.0H558.3M555.7,88.4V95.6M553.1,90.4V93.6M558.3,90.4V93.6M554.1,88.4H557.3M554.1,95.6H557.3" stroke="#e0e0e0"/><path d="M552.9,98.7H556.8M554.9,96.0V101.4M552.9,97.1V100.3M556.8,97.1V100.3M553.3,96.0H556.5M553.3,101.4H556.5" stroke="#e0e0e0"/><path d="M552.6,102.5H559.3M555.9,99.7V105.3M552.6,100.9V104.1M559.3,100.9V104.1M554.3,99.7H557.5M554.3,105.3H557.5" stroke="#e0e0e0"/><path d="M560.7,83.3H568.6M564.7,80.5V86.1M560.7,81.7V84.9M568.6,81.7V84.9M563.1,80.5H566.3M563.1,86.1H566.3" stroke="#e0e0e0"/><path d="M562.0,87.2H567.9M564.9,85.2V89.2M562.0,85.6V88.8M567.9,85.6V88.8M563.3,85.2H566.5M563.3,89.2H566.5" stroke="#e0e0e0"/><path d="M563.4,92.0H567.3M565.3,89.8V94.2M563.4,90.4V93.6M567.3,90.4V93.6M563.7,89.8H566.9M563.7,94.2H566.9" stroke="#e0e0e0"/><path d="M575.7,99.4H581.1M578.4,96.9V101.9M575.7,97.8V101.0M581.1,97.8V101.0M576.8,96.9H580.0M576.8,101.9H580.0" stroke="#e0e0e0"/><path d="M574.7,103.2H581.9M578.3,101.4V105.0M574.7,101.6V104.8M581.9,101.6V104.8M576.7,101.4H579.9M576.7,105.0H579.9" stroke="#e0e0e0"/><path d="M585.1,110.9H592.2M588.6,107.9V113.9M585.1,109.3V112.5M592.2,109.3V112.5M587.0,107.9H590.2M587.0,113.9H590.2" stroke="#e0e0e0"/><path d="M592.7,99.4H597.4M595.1,96.4V102.4M592.7,97.8V101.0M597.4,97.8V101.0M593.5,96.4H596.7M593.5,102.4H596.7" stroke="#e0e0e0"/><path d="M599.7,131.0H610.8M605.3,124.2V137.8M599.7,129.4V132.6M610.8,129.4V132.6M603.7,124.2H606.9M603.7,137.8H606.9" stroke="#e0e0e0"/><path d="M610.4,131.0H616.6M613.5,123.9V138.1M610.4,129.4V132.6M616.6,129.4V132.6M611.9,123.9H615.1M611.9,138.1H615.1" stroke="#e0e0e0"/><path d="M601.9,130.7H611.8M606.9,123.8V137.6M601.9,129.1V132.3M611.8,129.1V132.3M605.3,123.8H608.5M605.3,137.6H608.5" stroke="#e0e0e0"/><path d="M601.3,134.6H612.5M606.9,129.1V140.1M601.3,133.0V136.2M612.5,133.0V136.2M605.3,129.1H608.5M605.3,140.1H608.5" stroke="#e0e0e0"/><path d="M602.6,143.2H611.4M607.0,138.6V147.8M602.6,141.6V144.8M611.4,141.6V144.8M605.4,138.6H608.6M605.4,147.8H608.6" stroke="#e0e0e0"/><path d="M609.8,134.6H617.8M613.8,128.0V141.2M609.8,133.0V136.2M617.8,133.0V136.2M612.2,128.0H615.4M612.2,141.2H615.4" stroke="#e0e0e0"/><path d="M610.4,139.4H617.3M613.9,135.2V143.6M610.4,137.8V141.0M617.3,137.8V141.0M612.3,135.2H615.5M612.3,143.6H615.5" stroke="#e0e0e0"/><path d="M609.0,143.2H617.8M613.4,135.9V150.5M609.0,141.6V144.8M617.8,141.6V144.8M611.8,135.9H615.0M611.8,150.5H615.0" stroke="#e0e0e0"/><path d="M611.3,182.4H623.1M617.2,176.0V188.8M611.3,180.8V184.0M623.1,180.8V184.0M615.6,176.0H618.8M615.6,188.8H618.8" stroke="#e0e0e0"/><path d="M613.9,190.0H621.5M617.7,185.0V195.0M613.9,188.4V191.6M621.5,188.4V191.6M616.1,185.0H619.3M616.1,195.0H619.3" stroke="#e0e0e0"/><path d="M612.0,193.9H623.0M617.5,189.3V198.5M612.0,192.3V195.5M623.0,192.3V195.5M615.9,189.3H619.1M615.9,198.5H619.1" stroke="#e0e0e0"/><path d="M623.5,178.5H631.4M627.5,173.7V183.3M623.5,176.9V180.1M631.4,176.9V180.1M625.9,173.7H629.1M625.9,183.3H629.1" stroke="#e0e0e0"/><path d="M624.4,190.0H630.5M627.4,185.6V194.4M624.4,188.4V191.6M630.5,188.4V191.6M625.8,185.6H629.0M625.8,194.4H629.0" stroke="#e0e0e0"/><path d="M621.5,198.7H632.7M627.1,192.7V204.7M621.5,197.1V200.3M632.7,197.1V200.3M625.5,192.7H628.7M625.5,204.7H628.7" stroke="#e0e0e0"/><path d="M623.7,205.4H631.0M627.4,198.4V212.4M623.7,203.8V207.0M631.0,203.8V207.0M625.8,198.4H629.0M625.8,212.4H629.0" stroke="#e0e0e0"/><path d="M622.5,211.1H631.6M627.0,207.0V215.2M622.5,209.5V212.7M631.6,209.5V212.7M625.4,207.0H628.6M625.4,215.2H628.6" stroke="#e0e0e0"/><path d="M671.8,190.5H680.0M675.9,185.7V195.3M671.8,188.9V192.1M680.0,188.9V192.1M674.3,185.7H677.5M674.3,195.3H677.5" stroke="#e0e0e0"/><path d="M670.7,194.8H679.2M675.0,189.5V200.1M670.7,193.2V196.4M679.2,193.2V196.4M673.4,189.5H676.6M673.4,200.1H676.6" stroke="#e0e0e0"/><path d="M671.3,198.3H679.7M675.5,193.5V203.1M671.3,196.7V199.9M679.7,196.7V199.9M673.9,193.5H677.1M673.9,203.1H677.1" stroke="#e0e0e0"/><path d="M670.5,206.0H680.2M675.3,200.5V211.5M670.5,204.4V207.6M680.2,204.4V207.6M673.7,200.5H676.9M673.7,211.5H676.9" stroke="#e0e0e0"/><path d="M679.7,194.0H690.4M685.0,188.4V199.6M679.7,192.4V195.6M690.4,192.4V195.6M683.4,188.4H686.6M683.4,199.6H686.6" stroke="#e0e0e0"/><path d="M680.0,210.3H690.3M685.2,203.8V216.8M680.0,208.7V211.9M690.3,208.7V211.9M683.6,203.8H686.8M683.6,216.8H686.8" stroke="#e0e0e0"/><path d="M687.8,210.3H698.7M693.3,204.1V216.5M687.8,208.7V211.9M698.7,208.7V211.9M691.7,204.1H694.9M691.7,216.5H694.9" stroke="#e0e0e0"/><path d="M655.8,213.8H662.7M659.2,207.5V220.1M655.8,212.2V215.4M662.7,212.2V215.4M657.6,207.5H660.8M657.6,220.1H660.8" stroke="#e0e0e0"/></g>
<g><path d="M471.00,121.11L473.12,124.47L468.88,124.47Z" fill="#ea4434" fill-opacity="0.9"/><path d="M481.23,113.41L483.36,116.77L479.11,116.77Z" fill="#ea4434" fill-opacity="0.9"/><path d="M489.02,96.61L491.14,99.97L486.89,99.97Z" fill="#ea4434" fill-opacity="0.9"/><path d="M493.81,89.81L495.94,93.17L491.69,93.17Z" fill="#ea4434" fill-opacity="0.9"/><path d="M556.53,39.61L558.66,42.98L554.41,42.98Z" fill="#ea4434" fill-opacity="0.9"/><path d="M556.71,43.11L558.83,46.48L554.58,46.48Z" fill="#ea4434" fill-opacity="0.9"/><path d="M48.43,160.81L50.55,164.17L46.31,164.17Z" fill="#e0605a" fill-opacity="0.9"/><path d="M58.02,160.81L60.14,164.17L55.90,164.17Z" fill="#e0605a" fill-opacity="0.9"/><path d="M62.94,160.81L65.07,164.17L60.82,164.17Z" fill="#e0605a" fill-opacity="0.9"/><path d="M71.64,161.81L73.76,165.17L69.52,165.17Z" fill="#e0605a" fill-opacity="0.9"/><path d="M48.76,166.61L50.88,169.97L46.63,169.97Z" fill="#e0605a" fill-opacity="0.9"/><path d="M52.27,166.61L54.39,169.97L50.14,169.97Z" fill="#e0605a" fill-opacity="0.9"/><path d="M56.82,166.61L58.94,169.97L54.70,169.97Z" fill="#e0605a" fill-opacity="0.9"/><path d="M59.54,166.61L61.66,169.97L57.41,169.97Z" fill="#e0605a" fill-opacity="0.9"/><path d="M65.10,167.41L67.22,170.78L62.98,170.78Z" fill="#e0605a" fill-opacity="0.9"/><path d="M49.17,171.51L51.30,174.88L47.05,174.88Z" fill="#e0605a" fill-opacity="0.9"/><path d="M52.20,171.51L54.32,174.88L50.08,174.88Z" fill="#e0605a" fill-opacity="0.9"/><path d="M54.86,171.51L56.99,174.88L52.74,174.88Z" fill="#e0605a" fill-opacity="0.9"/><path d="M58.94,171.51L61.07,174.88L56.82,174.88Z" fill="#e0605a" fill-opacity="0.9"/><path d="M48.76,176.81L50.89,180.17L46.64,180.17Z" fill="#e0605a" fill-opacity="0.9"/><path d="M51.97,176.81L54.09,180.17L49.85,180.17Z" fill="#e0605a" fill-opacity="0.9"/><path d="M63.59,176.81L65.71,180.17L61.47,180.17Z" fill="#e0605a" fill-opacity="0.9"/><path d="M88.31,141.71L90.43,145.07L86.18,145.07Z" fill="#ea4434" fill-opacity="0.9"/><path d="M91.24,141.71L93.36,145.07L89.12,145.07Z" fill="#ea4434" fill-opacity="0.9"/><path d="M94.07,141.71L96.19,145.07L91.94,145.07Z" fill="#ea4434" fill-opacity="0.9"/><path d="M97.99,141.71L100.12,145.07L95.87,145.07Z" fill="#ea4434" fill-opacity="0.9"/><path d="M85.82,146.81L87.94,150.17L83.69,150.17Z" fill="#ea4434" fill-opacity="0.9"/><path d="M88.01,146.81L90.14,150.17L85.89,150.17Z" fill="#ea4434" fill-opacity="0.9"/><path d="M90.69,146.81L92.81,150.17L88.57,150.17Z" fill="#ea4434" fill-opacity="0.9"/><path d="M83.65,152.11L85.77,155.47L81.53,155.47Z" fill="#ea4434" fill-opacity="0.9"/><path d="M86.31,152.11L88.44,155.47L84.19,155.47Z" fill="#ea4434" fill-opacity="0.9"/><path d="M82.65,156.81L84.77,160.17L80.52,160.17Z" fill="#ea4434" fill-opacity="0.9"/><path d="M85.66,156.81L87.78,160.17L83.53,160.17Z" fill="#ea4434" fill-opacity="0.9"/><path d="M82.71,161.61L84.83,164.97L80.59,164.97Z" fill="#ea4434" fill-opacity="0.9"/><path d="M85.24,161.61L87.37,164.97L83.12,164.97Z" fill="#ea4434" fill-opacity="0.9"/><path d="M120.13,111.81L122.25,115.17L118.00,115.17Z" fill="#ea4434" fill-opacity="0.9"/><path d="M119.50,117.11L121.62,120.47L117.38,120.47Z" fill="#ea4434" fill-opacity="0.9"/><path d="M109.86,125.61L111.99,128.97L107.74,128.97Z" fill="#ea4434" fill-opacity="0.9"/><path d="M128.93,102.11L131.05,105.47L126.80,105.47Z" fill="#ea4434" fill-opacity="0.9"/><path d="M133.04,81.71L135.16,85.07L130.92,85.07Z" fill="#ea4434" fill-opacity="0.9"/><path d="M135.43,86.51L137.56,89.88L133.31,89.88Z" fill="#ea4434" fill-opacity="0.9"/><path d="M132.95,91.31L135.08,94.67L130.83,94.67Z" fill="#ea4434" fill-opacity="0.9"/><path d="M135.84,93.21L137.96,96.57L133.71,96.57Z" fill="#ea4434" fill-opacity="0.9"/><path d="M127.71,101.81L129.84,105.17L125.59,105.17Z" fill="#ea4434" fill-opacity="0.9"/><path d="M133.55,107.61L135.68,110.97L131.43,110.97Z" fill="#ea4434" fill-opacity="0.9"/><path d="M142.79,87.51L144.92,90.88L140.67,90.88Z" fill="#ea4434" fill-opacity="0.9"/><path d="M146.00,89.11L148.13,92.47L143.88,92.47Z" fill="#ea4434" fill-opacity="0.9"/><path d="M147.59,91.31L149.71,94.67L145.46,94.67Z" fill="#ea4434" fill-opacity="0.9"/><path d="M157.40,76.91L159.52,80.27L155.27,80.27Z" fill="#ea4434" fill-opacity="0.9"/><path d="M157.37,81.71L159.50,85.07L155.25,85.07Z" fill="#ea4434" fill-opacity="0.9"/><path d="M166.84,72.11L168.96,75.47L164.71,75.47Z" fill="#ea4434" fill-opacity="0.9"/><path d="M168.22,74.11L170.34,77.47L166.10,77.47Z" fill="#ea4434" fill-opacity="0.9"/><path d="M176.27,73.11L178.40,76.47L174.15,76.47Z" fill="#ea4434" fill-opacity="0.9"/><path d="M176.46,77.01L178.58,80.38L174.33,80.38Z" fill="#ea4434" fill-opacity="0.9"/><path d="M186.40,62.61L188.52,65.97L184.28,65.97Z" fill="#ea4434" fill-opacity="0.9"/><path d="M185.99,67.41L188.11,70.77L183.87,70.77Z" fill="#ea4434" fill-opacity="0.9"/><path d="M196.89,37.71L199.01,41.08L194.77,41.08Z" fill="#ea4434" fill-opacity="0.9"/><path d="M196.71,42.51L198.83,45.88L194.58,45.88Z" fill="#ea4434" fill-opacity="0.9"/><path d="M196.81,47.31L198.94,50.68L194.69,50.68Z" fill="#ea4434" fill-opacity="0.9"/><path d="M196.98,52.11L199.11,55.48L194.86,55.48Z" fill="#ea4434" fill-opacity="0.9"/><path d="M205.46,37.71L207.59,41.08L203.34,41.08Z" fill="#ea4434" fill-opacity="0.9"/><path d="M205.58,42.51L207.70,45.88L203.45,45.88Z" fill="#ea4434" fill-opacity="0.9"/><path d="M204.93,47.31L207.05,50.68L202.80,50.68Z" fill="#ea4434" fill-opacity="0.9"/><path d="M215.16,47.31L217.29,50.68L213.04,50.68Z" fill="#ea4434" fill-opacity="0.9"/><path d="M218.36,62.61L220.48,65.97L216.23,65.97Z" fill="#ea4434" fill-opacity="0.9"/><path d="M229.00,56.81L231.12,60.18L226.87,60.18Z" fill="#ef7a68" fill-opacity="0.9"/><path d="M228.81,62.61L230.93,65.97L226.68,65.97Z" fill="#ef7a68" fill-opacity="0.9"/><path d="M235.41,47.51L237.54,50.88L233.29,50.88Z" fill="#ef7a68" fill-opacity="0.9"/><path d="M235.14,52.31L237.27,55.68L233.02,55.68Z" fill="#ef7a68" fill-opacity="0.9"/><path d="M235.11,58.01L237.23,61.38L232.98,61.38Z" fill="#ef7a68" fill-opacity="0.9"/><path d="M235.38,62.81L237.51,66.17L233.26,66.17Z" fill="#ef7a68" fill-opacity="0.9"/><path d="M245.80,58.01L247.93,61.38L243.68,61.38Z" fill="#ef7a68" fill-opacity="0.9"/><path d="M246.06,62.81L248.18,66.17L243.93,66.17Z" fill="#ef7a68" fill-opacity="0.9"/><path d="M246.10,72.41L248.23,75.77L243.98,75.77Z" fill="#ef7a68" fill-opacity="0.9"/><path d="M246.27,82.01L248.39,85.38L244.14,85.38Z" fill="#ef7a68" fill-opacity="0.9"/><path d="M254.17,58.01L256.29,61.38L252.04,61.38Z" fill="#ef7a68" fill-opacity="0.9"/><path d="M254.58,62.81L256.70,66.17L252.45,66.17Z" fill="#ef7a68" fill-opacity="0.9"/><path d="M254.95,72.41L257.07,75.77L252.82,75.77Z" fill="#ef7a68" fill-opacity="0.9"/><path d="M254.39,82.01L256.52,85.38L252.27,85.38Z" fill="#ef7a68" fill-opacity="0.9"/><path d="M258.19,86.71L260.32,90.07L256.07,90.07Z" fill="#ef7a68" fill-opacity="0.9"/><path d="M254.61,107.81L256.74,111.17L252.49,111.17Z" fill="#ef7a68" fill-opacity="0.9"/><path d="M284.74,121.91L286.86,125.27L282.62,125.27Z" fill="#ef7a68" fill-opacity="0.9"/><path d="M284.38,142.11L286.51,145.47L282.26,145.47Z" fill="#ef7a68" fill-opacity="0.9"/><path d="M299.37,146.71L301.49,150.07L297.24,150.07Z" fill="#ef7a68" fill-opacity="0.9"/><path d="M299.35,151.51L301.48,154.88L297.23,154.88Z" fill="#ef7a68" fill-opacity="0.9"/><path d="M298.82,156.31L300.94,159.67L296.69,159.67Z" fill="#ef7a68" fill-opacity="0.9"/><path d="M315.10,156.31L317.23,159.67L312.98,159.67Z" fill="#ef7a68" fill-opacity="0.9"/><path d="M315.36,161.11L317.48,164.47L313.24,164.47Z" fill="#ef7a68" fill-opacity="0.9"/><path d="M314.72,166.81L316.84,170.17L312.59,170.17Z" fill="#ef7a68" fill-opacity="0.9"/><path d="M325.12,181.51L327.25,184.88L323.00,184.88Z" fill="#ef7a68" fill-opacity="0.9"/><path d="M325.05,187.31L327.17,190.67L322.92,190.67Z" fill="#ef7a68" fill-opacity="0.9"/><path d="M325.10,201.61L327.22,204.97L322.97,204.97Z" fill="#ef7a68" fill-opacity="0.9"/><path d="M332.68,192.11L334.81,195.47L330.56,195.47Z" fill="#ef7a68" fill-opacity="0.9"/><path d="M333.09,206.41L335.21,209.78L330.97,209.78Z" fill="#ef7a68" fill-opacity="0.9"/><path d="M332.83,211.21L334.96,214.57L330.71,214.57Z" fill="#ef7a68" fill-opacity="0.9"/><path d="M332.74,214.11L334.86,217.47L330.61,217.47Z" fill="#ef7a68" fill-opacity="0.9"/><path d="M408.87,167.81L410.99,171.17L406.74,171.17Z" fill="#ea4434" fill-opacity="0.9"/><path d="M411.18,167.81L413.30,171.17L409.06,171.17Z" fill="#ea4434" fill-opacity="0.9"/><path d="M415.17,167.81L417.29,171.17L413.04,171.17Z" fill="#ea4434" fill-opacity="0.9"/><path d="M417.33,167.81L419.46,171.17L415.21,171.17Z" fill="#ea4434" fill-opacity="0.9"/><path d="M423.03,167.81L425.15,171.17L420.91,171.17Z" fill="#ea4434" fill-opacity="0.9"/><path d="M408.87,172.61L411.00,175.97L406.75,175.97Z" fill="#ea4434" fill-opacity="0.9"/><path d="M432.62,159.31L434.74,162.67L430.50,162.67Z" fill="#ea4434" fill-opacity="0.9"/><path d="M448.70,136.31L450.83,139.67L446.58,139.67Z" fill="#ea4434" fill-opacity="0.9"/><path d="M451.92,138.21L454.05,141.57L449.80,141.57Z" fill="#ea4434" fill-opacity="0.9"/><path d="M446.60,143.11L448.72,146.47L444.47,146.47Z" fill="#ea4434" fill-opacity="0.9"/><path d="M448.38,145.91L450.51,149.28L446.26,149.28Z" fill="#ea4434" fill-opacity="0.9"/><path d="M444.46,153.51L446.58,156.88L442.33,156.88Z" fill="#ea4434" fill-opacity="0.9"/><path d="M457.29,131.51L459.41,134.88L455.16,134.88Z" fill="#ea4434" fill-opacity="0.9"/><path d="M456.29,133.41L458.42,136.78L454.17,136.78Z" fill="#ea4434" fill-opacity="0.9"/><path d="M469.99,117.31L472.11,120.67L467.86,120.67Z" fill="#ea4434" fill-opacity="0.9"/><path d="M480.05,101.01L482.17,104.38L477.92,104.38Z" fill="#ea4434" fill-opacity="0.9"/><path d="M480.26,108.71L482.39,112.07L478.14,112.07Z" fill="#ea4434" fill-opacity="0.9"/><path d="M487.89,94.31L490.01,97.67L485.76,97.67Z" fill="#ea4434" fill-opacity="0.9"/><path d="M488.95,98.11L491.08,101.47L486.83,101.47Z" fill="#ea4434" fill-opacity="0.9"/><path d="M495.52,78.01L497.64,81.38L493.39,81.38Z" fill="#ea4434" fill-opacity="0.9"/><path d="M495.92,81.81L498.04,85.17L493.79,85.17Z" fill="#ea4434" fill-opacity="0.9"/><path d="M495.71,85.71L497.84,89.07L493.59,89.07Z" fill="#ea4434" fill-opacity="0.9"/><path d="M497.29,90.51L499.41,93.88L495.16,93.88Z" fill="#ea4434" fill-opacity="0.9"/><path d="M497.18,94.31L499.30,97.67L495.05,97.67Z" fill="#ea4434" fill-opacity="0.9"/><path d="M495.15,97.21L497.27,100.57L493.02,100.57Z" fill="#ea4434" fill-opacity="0.9"/><path d="M500.95,90.51L503.08,93.88L498.83,93.88Z" fill="#ea4434" fill-opacity="0.9"/><path d="M497.23,72.61L499.36,75.97L495.11,75.97Z" fill="#ea4434" fill-opacity="0.9"/><path d="M496.76,76.41L498.88,79.77L494.63,79.77Z" fill="#ea4434" fill-opacity="0.9"/><path d="M503.48,81.11L505.61,84.47L501.36,84.47Z" fill="#ea4434" fill-opacity="0.9"/><path d="M503.17,85.01L505.29,88.38L501.04,88.38Z" fill="#ea4434" fill-opacity="0.9"/><path d="M503.66,88.81L505.79,92.17L501.54,92.17Z" fill="#ea4434" fill-opacity="0.9"/><path d="M507.26,81.11L509.39,84.47L505.14,84.47Z" fill="#ea4434" fill-opacity="0.9"/><path d="M507.39,85.01L509.51,88.38L505.26,88.38Z" fill="#ea4434" fill-opacity="0.9"/><path d="M517.14,72.61L519.26,75.97L515.01,75.97Z" fill="#ea4434" fill-opacity="0.9"/><path d="M517.64,75.41L519.76,78.77L515.52,78.77Z" fill="#ea4434" fill-opacity="0.9"/><path d="M517.68,79.31L519.80,82.67L515.56,82.67Z" fill="#ea4434" fill-opacity="0.9"/><path d="M526.91,64.91L529.04,68.27L524.79,68.27Z" fill="#ea4434" fill-opacity="0.9"/><path d="M526.95,68.71L529.07,72.07L524.82,72.07Z" fill="#ea4434" fill-opacity="0.9"/><path d="M535.75,69.31L537.87,72.67L533.63,72.67Z" fill="#ea4434" fill-opacity="0.9"/><path d="M536.00,73.11L538.12,76.47L533.87,76.47Z" fill="#ea4434" fill-opacity="0.9"/><path d="M545.40,57.81L547.53,61.18L543.28,61.18Z" fill="#ea4434" fill-opacity="0.9"/><path d="M545.16,69.31L547.29,72.67L543.04,72.67Z" fill="#ea4434" fill-opacity="0.9"/><path d="M555.75,53.01L557.88,56.38L553.63,56.38Z" fill="#ea4434" fill-opacity="0.9"/><path d="M555.61,56.81L557.74,60.18L553.49,60.18Z" fill="#ea4434" fill-opacity="0.9"/><path d="M556.54,58.71L558.67,62.08L554.42,62.08Z" fill="#ea4434" fill-opacity="0.9"/><path d="M555.71,66.41L557.83,69.77L553.58,69.77Z" fill="#ea4434" fill-opacity="0.9"/><path d="M564.95,46.31L567.07,49.68L562.83,49.68Z" fill="#ea4434" fill-opacity="0.9"/><path d="M564.43,50.11L566.56,53.48L562.31,53.48Z" fill="#ea4434" fill-opacity="0.9"/><path d="M564.95,45.81L567.08,49.18L562.83,49.18Z" fill="#ea4434" fill-opacity="0.9"/><path d="M564.67,48.61L566.80,51.98L562.55,51.98Z" fill="#ea4434" fill-opacity="0.9"/><path d="M573.89,49.61L576.01,52.98L571.76,52.98Z" fill="#ea4434" fill-opacity="0.9"/><path d="M573.08,52.51L575.21,55.88L570.96,55.88Z" fill="#ea4434" fill-opacity="0.9"/><path d="M573.06,57.31L575.18,60.68L570.93,60.68Z" fill="#ea4434" fill-opacity="0.9"/><path d="M573.93,59.21L576.06,62.58L571.81,62.58Z" fill="#ea4434" fill-opacity="0.9"/><path d="M573.38,63.01L575.50,66.38L571.25,66.38Z" fill="#ea4434" fill-opacity="0.9"/><path d="M573.36,65.91L575.48,69.27L571.23,69.27Z" fill="#ea4434" fill-opacity="0.9"/><path d="M577.77,58.21L579.90,61.58L575.65,61.58Z" fill="#ea4434" fill-opacity="0.9"/><path d="M577.51,62.01L579.64,65.38L575.39,65.38Z" fill="#ea4434" fill-opacity="0.9"/><path d="M589.56,61.11L591.68,64.47L587.43,64.47Z" fill="#ea4434" fill-opacity="0.9"/><path d="M588.99,64.01L591.11,67.38L586.87,67.38Z" fill="#ea4434" fill-opacity="0.9"/><path d="M589.57,67.81L591.70,71.17L587.45,71.17Z" fill="#ea4434" fill-opacity="0.9"/><path d="M588.70,70.71L590.82,74.07L586.57,74.07Z" fill="#ea4434" fill-opacity="0.9"/><path d="M594.85,53.41L596.97,56.77L592.72,56.77Z" fill="#ea4434" fill-opacity="0.9"/><path d="M594.49,58.21L596.62,61.58L592.37,61.58Z" fill="#ea4434" fill-opacity="0.9"/><path d="M594.76,62.01L596.88,65.38L592.63,65.38Z" fill="#ea4434" fill-opacity="0.9"/><path d="M594.28,65.91L596.40,69.27L592.15,69.27Z" fill="#ea4434" fill-opacity="0.9"/><path d="M605.41,87.91L607.53,91.27L603.28,91.27Z" fill="#ea4434" fill-opacity="0.9"/><path d="M613.18,83.11L615.30,86.47L611.06,86.47Z" fill="#ea4434" fill-opacity="0.9"/><path d="M613.18,86.11L615.31,89.47L611.06,89.47Z" fill="#ea4434" fill-opacity="0.9"/><path d="M613.27,88.81L615.40,92.17L611.15,92.17Z" fill="#ea4434" fill-opacity="0.9"/><path d="M618.19,132.71L620.31,136.07L616.06,136.07Z" fill="#ea4434" fill-opacity="0.9"/><path d="M627.76,132.71L629.88,136.07L625.63,136.07Z" fill="#ea4434" fill-opacity="0.9"/><path d="M627.62,141.31L629.74,144.67L625.49,144.67Z" fill="#ea4434" fill-opacity="0.9"/><path d="M627.49,153.81L629.61,157.17L625.36,157.17Z" fill="#ea4434" fill-opacity="0.9"/><path d="M627.88,160.51L630.00,163.88L625.75,163.88Z" fill="#ea4434" fill-opacity="0.9"/><path d="M627.52,166.21L629.64,169.57L625.39,169.57Z" fill="#ea4434" fill-opacity="0.9"/><path d="M627.87,172.01L629.99,175.38L625.75,175.38Z" fill="#ea4434" fill-opacity="0.9"/><path d="M627.02,180.51L629.14,183.88L624.90,183.88Z" fill="#ea4434" fill-opacity="0.9"/><path d="M658.91,204.11L661.04,207.47L656.79,207.47Z" fill="#ea4434" fill-opacity="0.9"/><path d="M675.35,180.01L677.47,183.38L673.22,183.38Z" fill="#ea4434" fill-opacity="0.9"/><path d="M675.19,184.31L677.31,187.67L673.06,187.67Z" fill="#ea4434" fill-opacity="0.9"/><path d="M684.63,204.11L686.76,207.47L682.51,207.47Z" fill="#ea4434" fill-opacity="0.9"/><rect x="469.48" y="125.21" width="3.19" height="3.19" fill="#4d71c2" fill-opacity="0.9"/><rect x="469.36" y="129.11" width="3.19" height="3.19" fill="#4d71c2" fill-opacity="0.9"/><rect x="479.41" y="125.21" width="3.19" height="3.19" fill="#4d71c2" fill-opacity="0.9"/><rect x="487.49" y="104.11" width="3.19" height="3.19" fill="#4d71c2" fill-opacity="0.9"/><rect x="487.33" y="107.01" width="3.19" height="3.19" fill="#4d71c2" fill-opacity="0.9"/><rect x="487.47" y="109.91" width="3.19" height="3.19" fill="#4d71c2" fill-opacity="0.9"/><rect x="506.56" y="106.11" width="3.19" height="3.19" fill="#4d71c2" fill-opacity="0.9"/><rect x="46.94" y="181.81" width="3.19" height="3.19" fill="#4d71c2" fill-opacity="0.9"/><rect x="72.22" y="166.91" width="3.19" height="3.19" fill="#4d71c2" fill-opacity="0.9"/><rect x="61.79" y="167.41" width="3.19" height="3.19" fill="#4d71c2" fill-opacity="0.9"/><rect x="89.19" y="152.41" width="3.19" height="3.19" fill="#4d71c2" fill-opacity="0.9"/><rect x="92.23" y="152.41" width="3.19" height="3.19" fill="#4d71c2" fill-opacity="0.9"/><rect x="96.53" y="152.41" width="3.19" height="3.19" fill="#4d71c2" fill-opacity="0.9"/><rect x="107.68" y="131.91" width="3.19" height="3.19" fill="#4d71c2" fill-opacity="0.9"/><rect x="108.08" y="137.41" width="3.19" height="3.19" fill="#4d71c2" fill-opacity="0.9"/><rect x="118.41" y="122.11" width="3.19" height="3.19" fill="#4d71c2" fill-opacity="0.9"/><rect x="118.02" y="127.91" width="3.19" height="3.19" fill="#4d71c2" fill-opacity="0.9"/><rect x="108.10" y="131.21" width="3.19" height="3.19" fill="#4d71c2" fill-opacity="0.9"/><rect x="127.03" y="110.81" width="3.19" height="3.19" fill="#4d71c2" fill-opacity="0.9"/><rect x="131.31" y="96.41" width="3.19" height="3.19" fill="#4d71c2" fill-opacity="0.9"/><rect x="134.23" y="99.31" width="3.19" height="3.19" fill="#4d71c2" fill-opacity="0.9"/><rect x="131.58" y="102.11" width="3.19" height="3.19" fill="#4d71c2" fill-opacity="0.9"/><rect x="133.11" y="112.61" width="3.19" height="3.19" fill="#4d71c2" fill-opacity="0.9"/><rect x="141.50" y="98.31" width="3.19" height="3.19" fill="#4d71c2" fill-opacity="0.9"/><rect x="144.25" y="101.21" width="3.19" height="3.19" fill="#4d71c2" fill-opacity="0.9"/><rect x="146.99" y="104.11" width="3.19" height="3.19" fill="#4d71c2" fill-opacity="0.9"/><rect x="156.07" y="92.61" width="3.19" height="3.19" fill="#4d71c2" fill-opacity="0.9"/><rect x="156.45" y="95.91" width="3.19" height="3.19" fill="#4d71c2" fill-opacity="0.9"/><rect x="155.95" y="99.31" width="3.19" height="3.19" fill="#4d71c2" fill-opacity="0.9"/><rect x="174.35" y="87.01" width="3.19" height="3.19" fill="#4d71c2" fill-opacity="0.9"/><rect x="183.81" y="77.81" width="3.19" height="3.19" fill="#4d71c2" fill-opacity="0.9"/><rect x="184.16" y="83.01" width="3.19" height="3.19" fill="#4d71c2" fill-opacity="0.9"/><rect x="195.42" y="58.11" width="3.19" height="3.19" fill="#4d71c2" fill-opacity="0.9"/><rect x="194.83" y="62.91" width="3.19" height="3.19" fill="#4d71c2" fill-opacity="0.9"/><rect x="194.90" y="68.61" width="3.19" height="3.19" fill="#4d71c2" fill-opacity="0.9"/><rect x="194.83" y="73.41" width="3.19" height="3.19" fill="#4d71c2" fill-opacity="0.9"/><rect x="203.98" y="62.91" width="3.19" height="3.19" fill="#4d71c2" fill-opacity="0.9"/><rect x="204.07" y="68.61" width="3.19" height="3.19" fill="#4d71c2" fill-opacity="0.9"/><rect x="213.33" y="68.61" width="3.19" height="3.19" fill="#4d71c2" fill-opacity="0.9"/><rect x="213.27" y="74.41" width="3.19" height="3.19" fill="#4d71c2" fill-opacity="0.9"/><rect x="195.54" y="78.41" width="3.19" height="3.19" fill="#4d71c2" fill-opacity="0.9"/><rect x="197.98" y="88.41" width="3.19" height="3.19" fill="#4d71c2" fill-opacity="0.9"/><rect x="203.36" y="69.91" width="3.19" height="3.19" fill="#4d71c2" fill-opacity="0.9"/><rect x="214.31" y="88.41" width="3.19" height="3.19" fill="#4d71c2" fill-opacity="0.9"/><rect x="166.10" y="87.61" width="3.19" height="3.19" fill="#4d71c2" fill-opacity="0.9"/><rect x="166.20" y="93.41" width="3.19" height="3.19" fill="#4d71c2" fill-opacity="0.9"/><rect x="228.04" y="82.21" width="3.19" height="3.19" fill="#4d71c2" fill-opacity="0.9"/><rect x="227.80" y="87.01" width="3.19" height="3.19" fill="#4d71c2" fill-opacity="0.9"/><rect x="228.39" y="92.81" width="3.19" height="3.19" fill="#4d71c2" fill-opacity="0.9"/><rect x="234.42" y="82.21" width="3.19" height="3.19" fill="#4d71c2" fill-opacity="0.9"/><rect x="234.17" y="87.01" width="3.19" height="3.19" fill="#4d71c2" fill-opacity="0.9"/><rect x="233.65" y="92.81" width="3.19" height="3.19" fill="#4d71c2" fill-opacity="0.9"/><rect x="244.58" y="97.61" width="3.19" height="3.19" fill="#4d71c2" fill-opacity="0.9"/><rect x="244.19" y="122.41" width="3.19" height="3.19" fill="#4d71c2" fill-opacity="0.9"/><rect x="253.14" y="103.31" width="3.19" height="3.19" fill="#4d71c2" fill-opacity="0.9"/><rect x="252.50" y="117.71" width="3.19" height="3.19" fill="#4d71c2" fill-opacity="0.9"/><rect x="252.91" y="122.41" width="3.19" height="3.19" fill="#4d71c2" fill-opacity="0.9"/><rect x="252.41" y="128.01" width="3.19" height="3.19" fill="#4d71c2" fill-opacity="0.9"/><rect x="266.74" y="128.01" width="3.19" height="3.19" fill="#4d71c2" fill-opacity="0.9"/><rect x="265.87" y="132.81" width="3.19" height="3.19" fill="#4d71c2" fill-opacity="0.9"/><rect x="266.26" y="137.61" width="3.19" height="3.19" fill="#4d71c2" fill-opacity="0.9"/><rect x="266.51" y="157.71" width="3.19" height="3.19" fill="#4d71c2" fill-opacity="0.9"/><rect x="266.37" y="162.41" width="3.19" height="3.19" fill="#4d71c2" fill-opacity="0.9"/><rect x="266.25" y="167.31" width="3.19" height="3.19" fill="#4d71c2" fill-opacity="0.9"/><rect x="282.30" y="171.91" width="3.19" height="3.19" fill="#4d71c2" fill-opacity="0.9"/><rect x="314.30" y="182.41" width="3.19" height="3.19" fill="#4d71c2" fill-opacity="0.9"/><rect x="323.94" y="177.01" width="3.19" height="3.19" fill="#4d71c2" fill-opacity="0.9"/><rect x="323.42" y="197.11" width="3.19" height="3.19" fill="#4d71c2" fill-opacity="0.9"/><rect x="323.48" y="207.71" width="3.19" height="3.19" fill="#4d71c2" fill-opacity="0.9"/><rect x="331.89" y="201.91" width="3.19" height="3.19" fill="#4d71c2" fill-opacity="0.9"/><rect x="407.27" y="180.51" width="3.19" height="3.19" fill="#4d71c2" fill-opacity="0.9"/><rect x="413.18" y="180.51" width="3.19" height="3.19" fill="#4d71c2" fill-opacity="0.9"/><rect x="431.00" y="153.81" width="3.19" height="3.19" fill="#4d71c2" fill-opacity="0.9"/><rect x="442.35" y="148.11" width="3.19" height="3.19" fill="#4d71c2" fill-opacity="0.9"/><rect x="445.25" y="148.11" width="3.19" height="3.19" fill="#4d71c2" fill-opacity="0.9"/><rect x="448.83" y="150.01" width="3.19" height="3.19" fill="#4d71c2" fill-opacity="0.9"/><rect x="455.02" y="137.61" width="3.19" height="3.19" fill="#4d71c2" fill-opacity="0.9"/><rect x="464.43" y="133.71" width="3.19" height="3.19" fill="#4d71c2" fill-opacity="0.9"/><rect x="467.66" y="122.41" width="3.19" height="3.19" fill="#4d71c2" fill-opacity="0.9"/><rect x="478.70" y="111.81" width="3.19" height="3.19" fill="#4d71c2" fill-opacity="0.9"/><rect x="478.15" y="116.61" width="3.19" height="3.19" fill="#4d71c2" fill-opacity="0.9"/><rect x="485.94" y="106.11" width="3.19" height="3.19" fill="#4d71c2" fill-opacity="0.9"/><rect x="486.61" y="109.91" width="3.19" height="3.19" fill="#4d71c2" fill-opacity="0.9"/><rect x="494.01" y="100.41" width="3.19" height="3.19" fill="#4d71c2" fill-opacity="0.9"/><rect x="495.82" y="103.21" width="3.19" height="3.19" fill="#4d71c2" fill-opacity="0.9"/><rect x="495.02" y="107.11" width="3.19" height="3.19" fill="#4d71c2" fill-opacity="0.9"/><rect x="495.26" y="89.11" width="3.19" height="3.19" fill="#4d71c2" fill-opacity="0.9"/><rect x="501.60" y="93.01" width="3.19" height="3.19" fill="#4d71c2" fill-opacity="0.9"/><rect x="501.64" y="95.81" width="3.19" height="3.19" fill="#4d71c2" fill-opacity="0.9"/><rect x="501.98" y="98.71" width="3.19" height="3.19" fill="#4d71c2" fill-opacity="0.9"/><rect x="505.71" y="98.71" width="3.19" height="3.19" fill="#4d71c2" fill-opacity="0.9"/><rect x="505.90" y="106.41" width="3.19" height="3.19" fill="#4d71c2" fill-opacity="0.9"/><rect x="515.60" y="89.11" width="3.19" height="3.19" fill="#4d71c2" fill-opacity="0.9"/><rect x="516.14" y="93.91" width="3.19" height="3.19" fill="#4d71c2" fill-opacity="0.9"/><rect x="515.90" y="97.81" width="3.19" height="3.19" fill="#4d71c2" fill-opacity="0.9"/><rect x="525.26" y="83.41" width="3.19" height="3.19" fill="#4d71c2" fill-opacity="0.9"/><rect x="525.28" y="88.21" width="3.19" height="3.19" fill="#4d71c2" fill-opacity="0.9"/><rect x="524.87" y="92.01" width="3.19" height="3.19" fill="#4d71c2" fill-opacity="0.9"/><rect x="525.57" y="95.81" width="3.19" height="3.19" fill="#4d71c2" fill-opacity="0.9"/><rect x="535.30" y="77.91" width="3.19" height="3.19" fill="#4d71c2" fill-opacity="0.9"/><rect x="534.87" y="81.71" width="3.19" height="3.19" fill="#4d71c2" fill-opacity="0.9"/><rect x="535.45" y="85.61" width="3.19" height="3.19" fill="#4d71c2" fill-opacity="0.9"/><rect x="534.93" y="90.41" width="3.19" height="3.19" fill="#4d71c2" fill-opacity="0.9"/><rect x="543.94" y="77.91" width="3.19" height="3.19" fill="#4d71c2" fill-opacity="0.9"/><rect x="543.80" y="82.71" width="3.19" height="3.19" fill="#4d71c2" fill-opacity="0.9"/><rect x="553.88" y="46.61" width="3.19" height="3.19" fill="#4d71c2" fill-opacity="0.9"/><rect x="554.44" y="53.31" width="3.19" height="3.19" fill="#4d71c2" fill-opacity="0.9"/><rect x="554.65" y="62.91" width="3.19" height="3.19" fill="#4d71c2" fill-opacity="0.9"/><rect x="554.04" y="69.61" width="3.19" height="3.19" fill="#4d71c2" fill-opacity="0.9"/><rect x="555.45" y="72.41" width="3.19" height="3.19" fill="#4d71c2" fill-opacity="0.9"/><rect x="553.37" y="74.91" width="3.19" height="3.19" fill="#4d71c2" fill-opacity="0.9"/><rect x="554.28" y="77.91" width="3.19" height="3.19" fill="#4d71c2" fill-opacity="0.9"/><rect x="562.94" y="58.11" width="3.19" height="3.19" fill="#4d71c2" fill-opacity="0.9"/><rect x="562.90" y="66.71" width="3.19" height="3.19" fill="#4d71c2" fill-opacity="0.9"/><rect x="563.33" y="58.51" width="3.19" height="3.19" fill="#4d71c2" fill-opacity="0.9"/><rect x="572.06" y="70.01" width="3.19" height="3.19" fill="#4d71c2" fill-opacity="0.9"/><rect x="572.70" y="73.81" width="3.19" height="3.19" fill="#4d71c2" fill-opacity="0.9"/><rect x="576.63" y="77.71" width="3.19" height="3.19" fill="#4d71c2" fill-opacity="0.9"/><rect x="576.87" y="81.51" width="3.19" height="3.19" fill="#4d71c2" fill-opacity="0.9"/><rect x="576.39" y="85.31" width="3.19" height="3.19" fill="#4d71c2" fill-opacity="0.9"/><rect x="587.21" y="82.51" width="3.19" height="3.19" fill="#4d71c2" fill-opacity="0.9"/><rect x="593.02" y="73.81" width="3.19" height="3.19" fill="#4d71c2" fill-opacity="0.9"/><rect x="592.37" y="82.51" width="3.19" height="3.19" fill="#4d71c2" fill-opacity="0.9"/><rect x="587.35" y="96.81" width="3.19" height="3.19" fill="#4d71c2" fill-opacity="0.9"/><rect x="603.97" y="109.31" width="3.19" height="3.19" fill="#4d71c2" fill-opacity="0.9"/><rect x="604.20" y="114.11" width="3.19" height="3.19" fill="#4d71c2" fill-opacity="0.9"/><rect x="603.69" y="121.71" width="3.19" height="3.19" fill="#4d71c2" fill-opacity="0.9"/><rect x="611.38" y="109.31" width="3.19" height="3.19" fill="#4d71c2" fill-opacity="0.9"/><rect x="611.32" y="115.01" width="3.19" height="3.19" fill="#4d71c2" fill-opacity="0.9"/><rect x="612.06" y="121.71" width="3.19" height="3.19" fill="#4d71c2" fill-opacity="0.9"/><rect x="605.32" y="123.41" width="3.19" height="3.19" fill="#4d71c2" fill-opacity="0.9"/><rect x="611.80" y="157.91" width="3.19" height="3.19" fill="#4d71c2" fill-opacity="0.9"/><rect x="611.83" y="169.41" width="3.19" height="3.19" fill="#4d71c2" fill-opacity="0.9"/><rect x="625.28" y="185.61" width="3.19" height="3.19" fill="#4d71c2" fill-opacity="0.9"/><rect x="625.67" y="193.21" width="3.19" height="3.19" fill="#4d71c2" fill-opacity="0.9"/><rect x="626.09" y="200.91" width="3.19" height="3.19" fill="#4d71c2" fill-opacity="0.9"/><rect x="625.31" y="204.71" width="3.19" height="3.19" fill="#4d71c2" fill-opacity="0.9"/><rect x="624.82" y="208.51" width="3.19" height="3.19" fill="#4d71c2" fill-opacity="0.9"/><rect x="625.64" y="212.41" width="3.19" height="3.19" fill="#4d71c2" fill-opacity="0.9"/><rect x="625.54" y="215.31" width="3.19" height="3.19" fill="#4d71c2" fill-opacity="0.9"/><rect x="674.02" y="201.01" width="3.19" height="3.19" fill="#4d71c2" fill-opacity="0.9"/><rect x="682.90" y="213.11" width="3.19" height="3.19" fill="#4d71c2" fill-opacity="0.9"/><circle cx="197.23" cy="68.50" r="1.77" fill="#555555" fill-opacity="0.9"/><circle cx="196.23" cy="72.50" r="1.77" fill="#555555" fill-opacity="0.9"/><circle cx="197.65" cy="76.50" r="1.77" fill="#555555" fill-opacity="0.9"/><circle cx="196.81" cy="80.50" r="1.77" fill="#555555" fill-opacity="0.9"/><circle cx="205.67" cy="77.00" r="1.77" fill="#555555" fill-opacity="0.9"/><circle cx="216.43" cy="77.00" r="1.77" fill="#555555" fill-opacity="0.9"/><circle cx="216.23" cy="90.00" r="1.77" fill="#555555" fill-opacity="0.9"/><circle cx="471.14" cy="138.30" r="1.77" fill="#555555" fill-opacity="0.9"/><circle cx="471.12" cy="142.00" r="1.77" fill="#555555" fill-opacity="0.9"/><circle cx="471.11" cy="146.00" r="1.77" fill="#555555" fill-opacity="0.9"/><circle cx="481.30" cy="130.70" r="1.77" fill="#555555" fill-opacity="0.9"/><circle cx="481.52" cy="134.00" r="1.77" fill="#555555" fill-opacity="0.9"/><circle cx="480.96" cy="137.00" r="1.77" fill="#555555" fill-opacity="0.9"/><circle cx="481.61" cy="140.20" r="1.77" fill="#555555" fill-opacity="0.9"/><circle cx="488.93" cy="111.50" r="1.77" fill="#555555" fill-opacity="0.9"/><circle cx="488.48" cy="115.30" r="1.77" fill="#555555" fill-opacity="0.9"/><circle cx="488.71" cy="118.20" r="1.77" fill="#555555" fill-opacity="0.9"/><circle cx="489.20" cy="121.00" r="1.77" fill="#555555" fill-opacity="0.9"/><circle cx="488.90" cy="124.00" r="1.77" fill="#555555" fill-opacity="0.9"/><circle cx="495.03" cy="110.50" r="1.77" fill="#555555" fill-opacity="0.9"/><circle cx="494.21" cy="113.30" r="1.77" fill="#555555" fill-opacity="0.9"/><circle cx="494.75" cy="116.00" r="1.77" fill="#555555" fill-opacity="0.9"/><circle cx="493.91" cy="118.70" r="1.77" fill="#555555" fill-opacity="0.9"/><circle cx="494.39" cy="121.40" r="1.77" fill="#555555" fill-opacity="0.9"/><circle cx="494.09" cy="124.00" r="1.77" fill="#555555" fill-opacity="0.9"/><circle cx="494.84" cy="130.70" r="1.77" fill="#555555" fill-opacity="0.9"/><circle cx="502.88" cy="114.40" r="1.77" fill="#555555" fill-opacity="0.9"/><circle cx="502.79" cy="117.00" r="1.77" fill="#555555" fill-opacity="0.9"/><circle cx="502.89" cy="119.20" r="1.77" fill="#555555" fill-opacity="0.9"/><circle cx="507.59" cy="110.50" r="1.77" fill="#555555" fill-opacity="0.9"/><circle cx="507.61" cy="113.00" r="1.77" fill="#555555" fill-opacity="0.9"/><circle cx="508.15" cy="115.30" r="1.77" fill="#555555" fill-opacity="0.9"/><circle cx="517.85" cy="107.70" r="1.77" fill="#555555" fill-opacity="0.9"/><circle cx="517.47" cy="111.50" r="1.77" fill="#555555" fill-opacity="0.9"/><circle cx="516.78" cy="115.30" r="1.77" fill="#555555" fill-opacity="0.9"/><circle cx="526.43" cy="103.80" r="1.77" fill="#555555" fill-opacity="0.9"/><circle cx="58.34" cy="183.40" r="1.77" fill="#555555" fill-opacity="0.9"/><circle cx="64.29" cy="183.40" r="1.77" fill="#555555" fill-opacity="0.9"/><circle cx="69.61" cy="183.40" r="1.77" fill="#555555" fill-opacity="0.9"/><circle cx="49.61" cy="188.00" r="1.77" fill="#555555" fill-opacity="0.9"/><circle cx="56.25" cy="188.00" r="1.77" fill="#555555" fill-opacity="0.9"/><circle cx="58.34" cy="188.00" r="1.77" fill="#555555" fill-opacity="0.9"/><circle cx="64.72" cy="188.00" r="1.77" fill="#555555" fill-opacity="0.9"/><circle cx="48.99" cy="192.50" r="1.77" fill="#555555" fill-opacity="0.9"/><circle cx="52.11" cy="192.50" r="1.77" fill="#555555" fill-opacity="0.9"/><circle cx="55.96" cy="192.50" r="1.77" fill="#555555" fill-opacity="0.9"/><circle cx="58.90" cy="192.50" r="1.77" fill="#555555" fill-opacity="0.9"/><circle cx="62.80" cy="192.50" r="1.77" fill="#555555" fill-opacity="0.9"/><circle cx="91.97" cy="158.70" r="1.77" fill="#555555" fill-opacity="0.9"/><circle cx="99.40" cy="158.70" r="1.77" fill="#555555" fill-opacity="0.9"/><circle cx="91.49" cy="163.50" r="1.77" fill="#555555" fill-opacity="0.9"/><circle cx="95.53" cy="163.50" r="1.77" fill="#555555" fill-opacity="0.9"/><circle cx="99.85" cy="163.50" r="1.77" fill="#555555" fill-opacity="0.9"/><circle cx="83.09" cy="168.30" r="1.77" fill="#555555" fill-opacity="0.9"/><circle cx="85.69" cy="168.30" r="1.77" fill="#555555" fill-opacity="0.9"/><circle cx="88.42" cy="168.30" r="1.77" fill="#555555" fill-opacity="0.9"/><circle cx="91.33" cy="168.30" r="1.77" fill="#555555" fill-opacity="0.9"/><circle cx="93.76" cy="168.30" r="1.77" fill="#555555" fill-opacity="0.9"/><circle cx="83.55" cy="173.00" r="1.77" fill="#555555" fill-opacity="0.9"/><circle cx="86.35" cy="173.00" r="1.77" fill="#555555" fill-opacity="0.9"/><circle cx="94.72" cy="173.00" r="1.77" fill="#555555" fill-opacity="0.9"/><circle cx="82.40" cy="177.90" r="1.77" fill="#555555" fill-opacity="0.9"/><circle cx="110.65" cy="143.40" r="1.77" fill="#555555" fill-opacity="0.9"/><circle cx="109.95" cy="149.20" r="1.77" fill="#555555" fill-opacity="0.9"/><circle cx="132.34" cy="105.70" r="1.77" fill="#555555" fill-opacity="0.9"/><circle cx="135.89" cy="109.50" r="1.77" fill="#555555" fill-opacity="0.9"/><circle cx="133.00" cy="112.00" r="1.77" fill="#555555" fill-opacity="0.9"/><circle cx="135.96" cy="114.30" r="1.77" fill="#555555" fill-opacity="0.9"/><circle cx="133.07" cy="116.20" r="1.77" fill="#555555" fill-opacity="0.9"/><circle cx="135.85" cy="120.00" r="1.77" fill="#555555" fill-opacity="0.9"/><circle cx="133.34" cy="123.90" r="1.77" fill="#555555" fill-opacity="0.9"/><circle cx="134.45" cy="128.50" r="1.77" fill="#555555" fill-opacity="0.9"/><circle cx="134.56" cy="132.00" r="1.77" fill="#555555" fill-opacity="0.9"/><circle cx="128.18" cy="129.00" r="1.77" fill="#555555" fill-opacity="0.9"/><circle cx="128.97" cy="133.00" r="1.77" fill="#555555" fill-opacity="0.9"/><circle cx="128.64" cy="138.00" r="1.77" fill="#555555" fill-opacity="0.9"/><circle cx="120.93" cy="138.00" r="1.77" fill="#555555" fill-opacity="0.9"/><circle cx="120.94" cy="142.00" r="1.77" fill="#555555" fill-opacity="0.9"/><circle cx="142.74" cy="109.50" r="1.77" fill="#555555" fill-opacity="0.9"/><circle cx="147.39" cy="112.00" r="1.77" fill="#555555" fill-opacity="0.9"/><circle cx="148.20" cy="115.20" r="1.77" fill="#555555" fill-opacity="0.9"/><circle cx="142.80" cy="118.00" r="1.77" fill="#555555" fill-opacity="0.9"/><circle cx="147.19" cy="122.90" r="1.77" fill="#555555" fill-opacity="0.9"/><circle cx="157.96" cy="103.70" r="1.77" fill="#555555" fill-opacity="0.9"/><circle cx="157.14" cy="106.50" r="1.77" fill="#555555" fill-opacity="0.9"/><circle cx="157.49" cy="109.50" r="1.77" fill="#555555" fill-opacity="0.9"/><circle cx="167.52" cy="103.00" r="1.77" fill="#555555" fill-opacity="0.9"/><circle cx="167.87" cy="108.70" r="1.77" fill="#555555" fill-opacity="0.9"/><circle cx="167.90" cy="114.50" r="1.77" fill="#555555" fill-opacity="0.9"/><circle cx="176.86" cy="99.50" r="1.77" fill="#555555" fill-opacity="0.9"/><circle cx="177.36" cy="105.30" r="1.77" fill="#555555" fill-opacity="0.9"/><circle cx="186.21" cy="104.00" r="1.77" fill="#555555" fill-opacity="0.9"/><circle cx="186.57" cy="105.20" r="1.77" fill="#555555" fill-opacity="0.9"/><circle cx="195.24" cy="85.30" r="1.77" fill="#555555" fill-opacity="0.9"/><circle cx="198.05" cy="85.30" r="1.77" fill="#555555" fill-opacity="0.9"/><circle cx="197.10" cy="94.50" r="1.77" fill="#555555" fill-opacity="0.9"/><circle cx="199.79" cy="99.10" r="1.77" fill="#555555" fill-opacity="0.9"/><circle cx="204.96" cy="74.60" r="1.77" fill="#555555" fill-opacity="0.9"/><circle cx="205.38" cy="80.70" r="1.77" fill="#555555" fill-opacity="0.9"/><circle cx="204.84" cy="85.30" r="1.77" fill="#555555" fill-opacity="0.9"/><circle cx="214.52" cy="80.00" r="1.77" fill="#555555" fill-opacity="0.9"/><circle cx="216.46" cy="85.30" r="1.77" fill="#555555" fill-opacity="0.9"/><circle cx="213.65" cy="94.50" r="1.77" fill="#555555" fill-opacity="0.9"/><circle cx="215.75" cy="99.10" r="1.77" fill="#555555" fill-opacity="0.9"/><circle cx="214.51" cy="104.50" r="1.77" fill="#555555" fill-opacity="0.9"/><circle cx="229.64" cy="104.00" r="1.77" fill="#555555" fill-opacity="0.9"/><circle cx="235.24" cy="99.20" r="1.77" fill="#555555" fill-opacity="0.9"/><circle cx="245.49" cy="114.50" r="1.77" fill="#555555" fill-opacity="0.9"/><circle cx="246.06" cy="119.30" r="1.77" fill="#555555" fill-opacity="0.9"/><circle cx="246.23" cy="128.90" r="1.77" fill="#555555" fill-opacity="0.9"/><circle cx="254.42" cy="114.50" r="1.77" fill="#555555" fill-opacity="0.9"/><circle cx="253.82" cy="128.90" r="1.77" fill="#555555" fill-opacity="0.9"/><circle cx="255.17" cy="123.80" r="1.77" fill="#555555" fill-opacity="0.9"/><circle cx="254.28" cy="134.40" r="1.77" fill="#555555" fill-opacity="0.9"/><circle cx="254.71" cy="144.00" r="1.77" fill="#555555" fill-opacity="0.9"/><circle cx="254.96" cy="148.70" r="1.77" fill="#555555" fill-opacity="0.9"/><circle cx="268.38" cy="134.40" r="1.77" fill="#555555" fill-opacity="0.9"/><circle cx="268.40" cy="144.00" r="1.77" fill="#555555" fill-opacity="0.9"/><circle cx="268.08" cy="148.70" r="1.77" fill="#555555" fill-opacity="0.9"/><circle cx="268.12" cy="159.30" r="1.77" fill="#555555" fill-opacity="0.9"/><circle cx="284.42" cy="159.30" r="1.77" fill="#555555" fill-opacity="0.9"/><circle cx="298.82" cy="168.70" r="1.77" fill="#555555" fill-opacity="0.9"/><circle cx="298.80" cy="173.50" r="1.77" fill="#555555" fill-opacity="0.9"/><circle cx="315.62" cy="173.50" r="1.77" fill="#555555" fill-opacity="0.9"/><circle cx="324.90" cy="194.00" r="1.77" fill="#555555" fill-opacity="0.9"/><circle cx="332.70" cy="198.70" r="1.77" fill="#555555" fill-opacity="0.9"/><circle cx="410.35" cy="174.50" r="1.77" fill="#555555" fill-opacity="0.9"/><circle cx="414.09" cy="174.50" r="1.77" fill="#555555" fill-opacity="0.9"/><circle cx="408.51" cy="178.30" r="1.77" fill="#555555" fill-opacity="0.9"/><circle cx="413.41" cy="178.30" r="1.77" fill="#555555" fill-opacity="0.9"/><circle cx="417.32" cy="178.30" r="1.77" fill="#555555" fill-opacity="0.9"/><circle cx="410.48" cy="186.00" r="1.77" fill="#555555" fill-opacity="0.9"/><circle cx="423.79" cy="186.00" r="1.77" fill="#555555" fill-opacity="0.9"/><circle cx="432.49" cy="169.70" r="1.77" fill="#555555" fill-opacity="0.9"/><circle cx="432.91" cy="174.50" r="1.77" fill="#555555" fill-opacity="0.9"/><circle cx="446.44" cy="155.40" r="1.77" fill="#555555" fill-opacity="0.9"/><circle cx="448.99" cy="155.40" r="1.77" fill="#555555" fill-opacity="0.9"/><circle cx="442.84" cy="159.30" r="1.77" fill="#555555" fill-opacity="0.9"/><circle cx="446.70" cy="159.30" r="1.77" fill="#555555" fill-opacity="0.9"/><circle cx="450.58" cy="159.30" r="1.77" fill="#555555" fill-opacity="0.9"/><circle cx="442.86" cy="163.10" r="1.77" fill="#555555" fill-opacity="0.9"/><circle cx="446.27" cy="163.10" r="1.77" fill="#555555" fill-opacity="0.9"/><circle cx="442.10" cy="167.00" r="1.77" fill="#555555" fill-opacity="0.9"/><circle cx="445.77" cy="167.00" r="1.77" fill="#555555" fill-opacity="0.9"/><circle cx="456.36" cy="143.90" r="1.77" fill="#555555" fill-opacity="0.9"/><circle cx="457.41" cy="148.70" r="1.77" fill="#555555" fill-opacity="0.9"/><circle cx="456.91" cy="153.50" r="1.77" fill="#555555" fill-opacity="0.9"/><circle cx="466.39" cy="141.00" r="1.77" fill="#555555" fill-opacity="0.9"/><circle cx="466.13" cy="146.80" r="1.77" fill="#555555" fill-opacity="0.9"/><circle cx="480.07" cy="126.90" r="1.77" fill="#555555" fill-opacity="0.9"/><circle cx="487.61" cy="114.40" r="1.77" fill="#555555" fill-opacity="0.9"/><circle cx="488.37" cy="119.20" r="1.77" fill="#555555" fill-opacity="0.9"/><circle cx="488.12" cy="123.00" r="1.77" fill="#555555" fill-opacity="0.9"/><circle cx="495.40" cy="111.50" r="1.77" fill="#555555" fill-opacity="0.9"/><circle cx="497.85" cy="115.00" r="1.77" fill="#555555" fill-opacity="0.9"/><circle cx="496.30" cy="119.00" r="1.77" fill="#555555" fill-opacity="0.9"/><circle cx="497.45" cy="123.00" r="1.77" fill="#555555" fill-opacity="0.9"/><circle cx="517.06" cy="108.00" r="1.77" fill="#555555" fill-opacity="0.9"/><circle cx="527.07" cy="102.20" r="1.77" fill="#555555" fill-opacity="0.9"/><circle cx="517.70" cy="112.00" r="1.77" fill="#555555" fill-opacity="0.9"/><circle cx="516.43" cy="116.80" r="1.77" fill="#555555" fill-opacity="0.9"/><circle cx="536.42" cy="103.40" r="1.77" fill="#555555" fill-opacity="0.9"/><circle cx="536.39" cy="107.30" r="1.77" fill="#555555" fill-opacity="0.9"/><circle cx="545.15" cy="95.80" r="1.77" fill="#555555" fill-opacity="0.9"/><circle cx="545.13" cy="99.60" r="1.77" fill="#555555" fill-opacity="0.9"/><circle cx="553.97" cy="83.30" r="1.77" fill="#555555" fill-opacity="0.9"/><circle cx="556.25" cy="86.00" r="1.77" fill="#555555" fill-opacity="0.9"/><circle cx="554.74" cy="89.00" r="1.77" fill="#555555" fill-opacity="0.9"/><circle cx="555.73" cy="92.00" r="1.77" fill="#555555" fill-opacity="0.9"/><circle cx="554.87" cy="98.70" r="1.77" fill="#555555" fill-opacity="0.9"/><circle cx="555.94" cy="102.50" r="1.77" fill="#555555" fill-opacity="0.9"/><circle cx="564.65" cy="83.30" r="1.77" fill="#555555" fill-opacity="0.9"/><circle cx="564.95" cy="87.20" r="1.77" fill="#555555" fill-opacity="0.9"/><circle cx="565.31" cy="92.00" r="1.77" fill="#555555" fill-opacity="0.9"/><circle cx="578.41" cy="99.40" r="1.77" fill="#555555" fill-opacity="0.9"/><circle cx="578.28" cy="103.20" r="1.77" fill="#555555" fill-opacity="0.9"/><circle cx="588.63" cy="110.90" r="1.77" fill="#555555" fill-opacity="0.9"/><circle cx="595.06" cy="99.40" r="1.77" fill="#555555" fill-opacity="0.9"/><circle cx="605.26" cy="131.00" r="1.77" fill="#555555" fill-opacity="0.9"/><circle cx="613.52" cy="131.00" r="1.77" fill="#555555" fill-opacity="0.9"/><circle cx="606.87" cy="130.70" r="1.77" fill="#555555" fill-opacity="0.9"/><circle cx="606.93" cy="134.60" r="1.77" fill="#555555" fill-opacity="0.9"/><circle cx="607.01" cy="143.20" r="1.77" fill="#555555" fill-opacity="0.9"/><circle cx="613.82" cy="134.60" r="1.77" fill="#555555" fill-opacity="0.9"/><circle cx="613.85" cy="139.40" r="1.77" fill="#555555" fill-opacity="0.9"/><circle cx="613.44" cy="143.20" r="1.77" fill="#555555" fill-opacity="0.9"/><circle cx="617.22" cy="182.40" r="1.77" fill="#555555" fill-opacity="0.9"/><circle cx="617.71" cy="190.00" r="1.77" fill="#555555" fill-opacity="0.9"/><circle cx="617.50" cy="193.90" r="1.77" fill="#555555" fill-opacity="0.9"/><circle cx="627.47" cy="178.50" r="1.77" fill="#555555" fill-opacity="0.9"/><circle cx="627.44" cy="190.00" r="1.77" fill="#555555" fill-opacity="0.9"/><circle cx="627.10" cy="198.70" r="1.77" fill="#555555" fill-opacity="0.9"/><circle cx="627.38" cy="205.40" r="1.77" fill="#555555" fill-opacity="0.9"/><circle cx="627.02" cy="211.10" r="1.77" fill="#555555" fill-opacity="0.9"/><circle cx="675.90" cy="190.50" r="1.77" fill="#555555" fill-opacity="0.9"/><circle cx="674.95" cy="194.80" r="1.77" fill="#555555" fill-opacity="0.9"/><circle cx="675.50" cy="198.30" r="1.77" fill="#555555" fill-opacity="0.9"/><circle cx="675.31" cy="206.00" r="1.77" fill="#555555" fill-opacity="0.9"/><circle cx="685.05" cy="194.00" r="1.77" fill="#555555" fill-opacity="0.9"/><circle cx="685.18" cy="210.30" r="1.77" fill="#555555" fill-opacity="0.9"/><circle cx="693.26" cy="210.30" r="1.77" fill="#555555" fill-opacity="0.9"/><circle cx="659.23" cy="213.80" r="1.77" fill="#555555" fill-opacity="0.9"/></g>
<path d="M55.70,191.05 L57.70,189.94 L59.70,188.78 L61.71,187.58 L63.71,186.33 L65.71,185.04 L67.71,183.71 L69.72,182.34 L71.72,180.93 L73.72,179.49 L75.72,178.01 L77.72,176.50 L79.73,174.95 L81.73,173.38 L83.73,171.78 L85.73,170.15 L87.73,168.50 L89.74,166.82 L91.74,165.13 L93.74,163.41 L95.74,161.68 L97.75,159.93 L99.75,158.16 L101.75,156.39 L103.75,154.60 L105.75,152.80 L107.76,150.99 L109.76,149.18 L111.76,147.36 L113.76,145.53 L115.76,143.71 L117.77,141.89 L119.77,140.06 L121.77,138.25 L123.77,136.43 L125.78,134.63 L127.78,132.83 L129.78,131.04 L131.78,129.26 L133.78,127.50 L135.79,125.75 L137.79,124.02 L139.79,122.30 L141.79,120.61 L143.79,118.94 L145.80,117.29 L147.80,115.66 L149.80,114.06 L151.80,112.49 L153.81,110.95 L155.81,109.45 L157.81,107.98 L159.81,106.55 L161.81,105.17 L163.82,103.83 L165.82,102.53 L167.82,101.29 L169.82,100.10 L171.83,98.97 L173.83,97.89 L175.83,96.87 L177.83,95.92 L179.83,95.04 L181.84,94.22 L183.84,93.48 L185.84,92.81 L187.84,92.22 L189.84,91.70 L191.85,91.27 L193.85,90.93 L195.85,90.67 L197.85,90.51 L199.86,90.44 L201.86,90.46 L203.86,90.58 L205.86,90.81 L207.86,91.13 L209.87,91.57 L211.87,92.11 L213.87,92.77 L215.87,93.54 L217.87,94.43 L219.88,95.42 L221.88,96.52 L223.88,97.72 L225.88,99.02 L227.89,100.41 L229.89,101.89 L231.89,103.46 L233.89,105.10 L235.89,106.82 L237.90,108.62 L239.90,110.48 L241.90,112.41 L243.90,114.40 L245.91,116.44 L247.91,118.54 L249.91,120.68 L251.91,122.87 L253.91,125.09 L255.92,127.36 L257.92,129.65 L259.92,131.98 L261.92,134.32 L263.92,136.69 L265.93,139.07 L267.93,141.46 L269.93,143.86 L271.93,146.26 L273.94,148.66 L275.94,151.06 L277.94,153.45 L279.94,155.82 L281.94,158.18 L283.95,160.51 L285.95,162.82 L287.95,165.10 L289.95,167.35 L291.95,169.56 L293.96,171.72 L295.96,173.84 L297.96,175.92 L299.96,177.93 L301.97,179.89 L303.97,181.79 L305.97,183.62 L307.97,185.38 L309.97,187.06 L311.98,188.67 L313.98,190.19 L315.98,191.63 L317.98,192.97 L319.98,194.22 L321.99,195.37 L323.99,196.42 L325.99,197.36 L327.99,198.19 L330.00,198.91 L332.00,199.50 L334.00,199.97" stroke="#3a3a3a" stroke-width="1.3" fill="none"/>
<path d="M49.50,183.15 L51.55,181.59 L53.59,180.02 L55.64,178.44 L57.69,176.85 L59.73,175.26 L61.78,173.65 L63.83,172.04 L65.87,170.41 L67.92,168.78 L69.97,167.14 L72.01,165.49 L74.06,163.83 L76.11,162.17 L78.15,160.49 L80.20,158.81 L82.25,157.12 L84.29,155.42 L86.34,153.71 L88.39,151.99 L90.44,150.27 L92.48,148.53 L94.53,146.79 L96.58,145.04 L98.62,143.29 L100.67,141.52 L102.72,139.75 L104.76,137.97 L106.81,136.18 L108.86,134.39 L110.90,132.59 L112.95,130.78 L115.00,128.96 L117.04,127.13 L119.09,125.31 L121.14,123.47 L123.18,121.64 L125.23,119.80 L127.28,117.97 L129.32,116.14 L131.37,114.32 L133.42,112.50 L135.46,110.69 L137.51,108.90 L139.56,107.11 L141.60,105.34 L143.65,103.59 L145.70,101.86 L147.74,100.14 L149.79,98.45 L151.84,96.79 L153.88,95.16 L155.93,93.56 L157.98,92.00 L160.03,90.49 L162.07,89.01 L164.12,87.59 L166.17,86.22 L168.21,84.90 L170.26,83.64 L172.31,82.44 L174.35,81.31 L176.40,80.25 L178.45,79.26 L180.49,78.34 L182.54,77.50 L184.59,76.75 L186.63,76.08 L188.68,75.51 L190.73,75.02 L192.77,74.64 L194.82,74.35 L196.87,74.16 L198.91,74.09 L200.96,74.12 L203.01,74.27 L205.05,74.53 L207.10,74.91 L209.15,75.42 L211.19,76.06 L213.24,76.83 L215.29,77.73 L217.33,78.77 L219.38,79.95 L221.43,81.27 L223.47,82.75 L225.52,84.37 L227.57,86.14 L229.62,88.06 L231.66,90.10 L233.71,92.27 L235.76,94.55 L237.80,96.94 L239.85,99.44 L241.90,102.02 L243.94,104.69 L245.99,107.43 L248.04,110.24 L250.08,113.11 L252.13,116.03 L254.18,119.00 L256.22,122.00 L258.27,125.03 L260.32,128.09 L262.36,131.15 L264.41,134.21 L266.46,137.28 L268.50,140.33 L270.55,143.36 L272.60,146.36 L274.64,149.33 L276.69,152.25 L278.74,155.12 L280.78,157.93 L282.83,160.68 L284.88,163.36 L286.92,165.96 L288.97,168.50 L291.02,170.95 L293.06,173.33 L295.11,175.63 L297.16,177.84 L299.21,179.97 L301.25,182.01 L303.30,183.96 L305.35,185.81 L307.39,187.57 L309.44,189.23 L311.49,190.79 L313.53,192.25 L315.58,193.60 L317.63,194.84 L319.67,195.97 L321.72,196.98 L323.77,197.88 L325.81,198.66 L327.86,199.32 L329.91,199.86 L331.95,200.27 L334.00,200.55" stroke="#4a72c8" stroke-width="1.3" fill="none"/>
<path d="M49.50,182.04 L51.55,180.14 L53.59,178.25 L55.64,176.37 L57.69,174.48 L59.73,172.60 L61.78,170.72 L63.83,168.85 L65.87,166.97 L67.92,165.10 L69.97,163.23 L72.01,161.37 L74.06,159.50 L76.11,157.64 L78.15,155.77 L80.20,153.91 L82.25,152.05 L84.29,150.20 L86.34,148.34 L88.39,146.48 L90.44,144.63 L92.48,142.77 L94.53,140.92 L96.58,139.06 L98.62,137.21 L100.67,135.35 L102.72,133.50 L104.76,131.64 L106.81,129.79 L108.86,127.93 L110.90,126.08 L112.95,124.22 L115.00,122.36 L117.04,120.50 L119.09,118.64 L121.14,116.78 L123.18,114.92 L125.23,113.05 L127.28,111.19 L129.32,109.32 L131.37,107.45 L133.42,105.57 L135.46,103.70 L137.51,101.82 L139.56,99.94 L141.60,98.06 L143.65,96.17 L145.70,94.29 L147.74,92.40 L149.79,90.52 L151.84,88.65 L153.88,86.79 L155.93,84.95 L157.98,83.12 L160.03,81.32 L162.07,79.54 L164.12,77.78 L166.17,76.06 L168.21,74.38 L170.26,72.73 L172.31,71.12 L174.35,69.56 L176.40,68.04 L178.45,66.57 L180.49,65.16 L182.54,63.81 L184.59,62.51 L186.63,61.28 L188.68,60.12 L190.73,59.03 L192.77,58.01 L194.82,57.07 L196.87,56.20 L198.91,55.42 L200.96,54.73 L203.01,54.13 L205.05,53.62 L207.10,53.20 L209.15,52.89 L211.19,52.67 L213.24,52.57 L215.29,52.57 L217.33,52.69 L219.38,52.92 L221.43,53.27 L223.47,53.74 L225.52,54.34 L227.57,55.06 L229.62,55.92 L231.66,56.91 L233.71,58.03 L235.76,59.29 L237.80,60.69 L239.85,62.23 L241.90,63.91 L243.94,65.74 L245.99,67.71 L248.04,69.84 L250.08,72.11 L252.13,74.54 L254.18,77.12 L256.22,79.86 L258.27,82.77 L260.32,85.83 L262.36,89.05 L264.41,92.44 L266.46,96.00 L268.50,99.73 L270.55,103.59 L272.60,107.58 L274.64,111.66 L276.69,115.80 L278.74,119.98 L280.78,124.18 L282.83,128.37 L284.88,132.52 L286.92,136.61 L288.97,140.61 L291.02,144.50 L293.06,148.25 L295.11,151.84 L297.16,155.27 L299.21,158.55 L301.25,161.68 L303.30,164.67 L305.35,167.52 L307.39,170.24 L309.44,172.84 L311.49,175.31 L313.53,177.67 L315.58,179.91 L317.63,182.05 L319.67,184.08 L321.72,186.02 L323.77,187.87 L325.81,189.63 L327.86,191.31 L329.91,192.92 L331.95,194.45 L334.00,195.92" stroke="#e8392b" stroke-width="1.3" fill="none"/>
<path d="M411.90,189.57 L413.86,187.92 L415.82,186.26 L417.77,184.61 L419.73,182.95 L421.69,181.30 L423.65,179.65 L425.60,178.01 L427.56,176.36 L429.52,174.72 L431.48,173.08 L433.43,171.44 L435.39,169.81 L437.35,168.19 L439.31,166.57 L441.26,164.95 L443.22,163.34 L445.18,161.74 L447.14,160.15 L449.09,158.56 L451.05,156.98 L453.01,155.40 L454.97,153.84 L456.92,152.28 L458.88,150.74 L460.84,149.20 L462.80,147.67 L464.75,146.16 L466.71,144.65 L468.67,143.16 L470.63,141.68 L472.58,140.21 L474.54,138.75 L476.50,137.31 L478.46,135.87 L480.41,134.46 L482.37,133.05 L484.33,131.67 L486.29,130.29 L488.24,128.94 L490.20,127.59 L492.16,126.27 L494.12,124.96 L496.07,123.67 L498.03,122.40 L499.99,121.14 L501.95,119.90 L503.91,118.68 L505.86,117.48 L507.82,116.30 L509.78,115.14 L511.74,114.00 L513.69,112.89 L515.65,111.79 L517.61,110.71 L519.57,109.66 L521.52,108.63 L523.48,107.62 L525.44,106.64 L527.40,105.68 L529.35,104.74 L531.31,103.83 L533.27,102.94 L535.23,102.08 L537.18,101.24 L539.14,100.43 L541.10,99.65 L543.06,98.89 L545.01,98.16 L546.97,97.46 L548.93,96.79 L550.89,96.15 L552.84,95.53 L554.80,94.95 L556.76,94.40 L558.72,93.88 L560.67,93.41 L562.63,92.99 L564.59,92.63 L566.55,92.34 L568.50,92.12 L570.46,91.98 L572.42,91.92 L574.38,91.96 L576.33,92.10 L578.29,92.35 L580.25,92.71 L582.21,93.20 L584.16,93.90 L586.12,94.84 L588.08,96.11 L590.04,97.76 L591.99,99.86 L593.95,102.47 L595.91,105.64 L597.87,109.41 L599.83,113.75 L601.78,118.63 L603.74,124.02 L605.70,129.88 L607.66,136.19 L609.61,142.91 L611.57,150.02 L613.53,157.48 L615.49,165.02 L617.44,171.94 L619.40,177.87 L621.36,182.96 L623.32,187.47 L625.27,191.57 L627.23,195.27 L629.19,198.60 L631.15,201.58 L633.10,204.23 L635.06,206.56 L637.02,208.59 L638.98,210.35 L640.93,211.85 L642.89,213.11 L644.85,214.16 L646.81,215.00 L648.76,215.66 L650.72,216.15 L652.68,216.51 L654.64,216.74 L656.59,216.86 L658.55,216.89 L660.51,216.89 L662.47,216.89 L664.42,216.89 L666.38,216.89 L668.34,216.89 L670.30,216.89 L672.25,216.89 L674.21,216.89 L676.17,216.89 L678.13,216.89 L680.08,217.00 L682.04,217.48 L684.00,218.11" stroke="#3a3a3a" stroke-width="1.3" fill="none"/>
<path d="M409.60,190.64 L411.57,188.94 L413.55,187.19 L415.52,185.40 L417.50,183.57 L419.47,181.70 L421.44,179.79 L423.42,177.85 L425.39,175.87 L427.37,173.87 L429.34,171.84 L431.32,169.79 L433.29,167.72 L435.26,165.62 L437.24,163.51 L439.21,161.39 L441.19,159.25 L443.16,157.11 L445.13,154.96 L447.11,152.80 L449.08,150.64 L451.06,148.49 L453.03,146.33 L455.00,144.19 L456.98,142.05 L458.95,139.92 L460.93,137.80 L462.90,135.70 L464.87,133.62 L466.85,131.55 L468.82,129.51 L470.80,127.50 L472.77,125.51 L474.75,123.56 L476.72,121.63 L478.69,119.74 L480.67,117.89 L482.64,116.08 L484.62,114.31 L486.59,112.59 L488.56,110.92 L490.54,109.29 L492.51,107.72 L494.49,106.20 L496.46,104.74 L498.43,103.33 L500.41,101.98 L502.38,100.68 L504.36,99.42 L506.33,98.21 L508.31,97.05 L510.28,95.92 L512.25,94.83 L514.23,93.78 L516.20,92.76 L518.18,91.78 L520.15,90.82 L522.12,89.89 L524.10,88.98 L526.07,88.10 L528.05,87.23 L530.02,86.38 L531.99,85.55 L533.97,84.72 L535.94,83.91 L537.92,83.11 L539.89,82.30 L541.86,81.51 L543.84,80.71 L545.81,79.91 L547.79,79.12 L549.76,78.34 L551.74,77.58 L553.71,76.83 L555.68,76.11 L557.66,75.42 L559.63,74.76 L561.61,74.15 L563.58,73.58 L565.55,73.05 L567.53,72.58 L569.50,72.17 L571.48,71.82 L573.45,71.54 L575.42,71.33 L577.40,71.20 L579.37,71.15 L581.35,71.20 L583.32,71.38 L585.29,71.78 L587.27,72.48 L589.24,73.54 L591.22,75.05 L593.19,77.08 L595.17,79.70 L597.14,83.01 L599.11,87.14 L601.09,92.26 L603.06,98.52 L605.04,106.07 L607.01,115.09 L608.98,125.18 L610.96,134.95 L612.93,142.99 L614.91,152.33 L616.88,169.69 L618.85,180.61 L620.83,185.10 L622.80,189.15 L624.78,194.20 L626.75,199.11 L628.73,203.13 L630.70,206.31 L632.67,208.76 L634.65,210.62 L636.62,212.00 L638.60,213.03 L640.57,213.83 L642.54,214.52 L644.52,215.11 L646.49,215.62 L648.47,216.05 L650.44,216.41 L652.41,216.70 L654.39,216.94 L656.36,217.12 L658.34,217.26 L660.31,217.36 L662.28,217.42 L664.26,217.47 L666.23,217.49 L668.21,217.50 L670.18,217.51 L672.16,217.52 L674.13,217.54 L676.10,217.57 L678.08,217.63 L680.05,217.71 L682.03,217.83 L684.00,218.00" stroke="#4a72c8" stroke-width="1.3" fill="none"/>
<path d="M409.10,190.28 L411.15,188.21 L413.20,186.10 L415.25,183.93 L417.30,181.73 L419.35,179.49 L421.40,177.21 L423.45,174.90 L425.50,172.55 L427.55,170.18 L429.60,167.79 L431.65,165.38 L433.70,162.94 L435.75,160.49 L437.79,158.03 L439.84,155.56 L441.89,153.08 L443.94,150.60 L445.99,148.12 L448.04,145.65 L450.09,143.17 L452.14,140.71 L454.19,138.26 L456.24,135.82 L458.29,133.40 L460.34,131.01 L462.39,128.63 L464.44,126.28 L466.49,123.97 L468.54,121.68 L470.59,119.43 L472.64,117.22 L474.69,115.06 L476.74,112.93 L478.79,110.86 L480.84,108.83 L482.89,106.86 L484.94,104.95 L486.99,103.09 L489.04,101.28 L491.09,99.52 L493.14,97.82 L495.18,96.16 L497.23,94.55 L499.28,92.97 L501.33,91.44 L503.38,89.95 L505.43,88.50 L507.48,87.08 L509.53,85.70 L511.58,84.34 L513.63,83.01 L515.68,81.72 L517.73,80.44 L519.78,79.19 L521.83,77.96 L523.88,76.75 L525.93,75.56 L527.98,74.38 L530.03,73.21 L532.08,72.06 L534.13,70.91 L536.18,69.78 L538.23,68.66 L540.28,67.56 L542.33,66.48 L544.38,65.42 L546.43,64.39 L548.48,63.38 L550.53,62.40 L552.57,61.45 L554.62,60.53 L556.67,59.65 L558.72,58.81 L560.77,58.01 L562.82,57.25 L564.87,56.53 L566.92,55.86 L568.97,55.25 L571.02,54.68 L573.07,54.17 L575.12,53.71 L577.17,53.31 L579.22,53.02 L581.27,52.86 L583.32,52.89 L585.37,53.16 L587.42,53.71 L589.47,54.59 L591.52,55.85 L593.57,57.53 L595.62,59.68 L597.67,62.35 L599.72,65.57 L601.77,69.34 L603.82,73.66 L605.87,78.54 L607.92,83.96 L609.96,89.94 L612.01,96.47 L614.06,103.55 L616.11,111.16 L618.16,119.15 L620.21,127.29 L622.26,135.43 L624.31,143.46 L626.36,151.28 L628.41,158.79 L630.46,165.87 L632.51,172.48 L634.56,178.54 L636.61,183.99 L638.66,188.77 L640.71,192.83 L642.76,196.18 L644.81,198.98 L646.86,201.39 L648.91,203.54 L650.96,205.46 L653.01,207.17 L655.06,208.67 L657.11,209.99 L659.16,211.14 L661.21,212.13 L663.26,212.97 L665.31,213.68 L667.35,214.27 L669.40,214.76 L671.45,215.16 L673.50,215.48 L675.55,215.73 L677.60,215.94 L679.65,216.11 L681.70,216.25 L683.75,216.39 L685.80,216.53 L687.85,216.69 L689.90,216.88 L691.95,217.12 L694.00,217.42" stroke="#e8392b" stroke-width="1.3" fill="none"/>
<line x1="43.5" y1="20.3" x2="43.5" y2="223.3" stroke="#2a2a2a" stroke-width="1.1"/>
<line x1="43.0" y1="218.5" x2="342.0" y2="218.5" stroke="#707070" stroke-width="1.0"/>
<line x1="38.5" y1="218.3" x2="43.5" y2="218.3" stroke="#2a2a2a" stroke-width="1.1"/>
<text transform="translate(35.90,223.00) scale(1,1.08)" class="t" text-anchor="end">0</text>
<line x1="38.5" y1="168.8" x2="43.5" y2="168.8" stroke="#2a2a2a" stroke-width="1.1"/>
<text transform="translate(35.90,173.50) scale(1,1.08)" class="t" text-anchor="end">0.1</text>
<line x1="38.5" y1="119.3" x2="43.5" y2="119.3" stroke="#2a2a2a" stroke-width="1.1"/>
<text transform="translate(35.90,124.00) scale(1,1.08)" class="t" text-anchor="end">0.2</text>
<line x1="38.5" y1="69.8" x2="43.5" y2="69.8" stroke="#2a2a2a" stroke-width="1.1"/>
<text transform="translate(35.90,74.50) scale(1,1.08)" class="t" text-anchor="end">0.3</text>
<line x1="38.5" y1="20.3" x2="43.5" y2="20.3" stroke="#2a2a2a" stroke-width="1.1"/>
<text transform="translate(35.90,25.00) scale(1,1.08)" class="t" text-anchor="end">0.4</text>
<line x1="43.5" y1="218.3" x2="43.5" y2="223.3" stroke="#8a8a8a" stroke-width="1.1"/>
<text transform="translate(43.50,236.80) scale(1,1.08)" class="t" text-anchor="middle">10</text>
<line x1="86.1" y1="218.3" x2="86.1" y2="223.3" stroke="#8a8a8a" stroke-width="1.1"/>
<text transform="translate(86.07,236.80) scale(1,1.08)" class="t" text-anchor="middle">15</text>
<line x1="128.6" y1="218.3" x2="128.6" y2="223.3" stroke="#8a8a8a" stroke-width="1.1"/>
<text transform="translate(128.64,236.80) scale(1,1.08)" class="t" text-anchor="middle">20</text>
<line x1="171.2" y1="218.3" x2="171.2" y2="223.3" stroke="#8a8a8a" stroke-width="1.1"/>
<text transform="translate(171.21,236.80) scale(1,1.08)" class="t" text-anchor="middle">25</text>
<line x1="213.8" y1="218.3" x2="213.8" y2="223.3" stroke="#8a8a8a" stroke-width="1.1"/>
<text transform="translate(213.78,236.80) scale(1,1.08)" class="t" text-anchor="middle">30</text>
<line x1="256.4" y1="218.3" x2="256.4" y2="223.3" stroke="#8a8a8a" stroke-width="1.1"/>
<text transform="translate(256.35,236.80) scale(1,1.08)" class="t" text-anchor="middle">35</text>
<line x1="298.9" y1="218.3" x2="298.9" y2="223.3" stroke="#8a8a8a" stroke-width="1.1"/>
<text transform="translate(298.92,236.80) scale(1,1.08)" class="t" text-anchor="middle">40</text>
<line x1="341.5" y1="218.3" x2="341.5" y2="223.3" stroke="#8a8a8a" stroke-width="1.1"/>
<text transform="translate(341.49,236.80) scale(1,1.08)" class="t" text-anchor="middle">45</text>
<line x1="403.5" y1="19.9" x2="403.5" y2="223.2" stroke="#5e5e5e" stroke-width="1.05"/>
<line x1="403.0" y1="218.5" x2="702.0" y2="218.5" stroke="#707070" stroke-width="1.0"/>
<line x1="398.5" y1="218.2" x2="403.5" y2="218.2" stroke="#5e5e5e" stroke-width="1.05"/>
<text transform="translate(395.90,222.90) scale(1,1.08)" class="t" text-anchor="end">0</text>
<line x1="398.5" y1="178.5" x2="403.5" y2="178.5" stroke="#5e5e5e" stroke-width="1.05"/>
<text transform="translate(395.90,183.24) scale(1,1.08)" class="t" text-anchor="end">0.1</text>
<line x1="398.5" y1="138.9" x2="403.5" y2="138.9" stroke="#5e5e5e" stroke-width="1.05"/>
<text transform="translate(395.90,143.58) scale(1,1.08)" class="t" text-anchor="end">0.2</text>
<line x1="398.5" y1="99.2" x2="403.5" y2="99.2" stroke="#5e5e5e" stroke-width="1.05"/>
<text transform="translate(395.90,103.92) scale(1,1.08)" class="t" text-anchor="end">0.3</text>
<line x1="398.5" y1="59.6" x2="403.5" y2="59.6" stroke="#5e5e5e" stroke-width="1.05"/>
<text transform="translate(395.90,64.26) scale(1,1.08)" class="t" text-anchor="end">0.4</text>
<line x1="398.5" y1="19.9" x2="403.5" y2="19.9" stroke="#5e5e5e" stroke-width="1.05"/>
<text transform="translate(395.90,24.60) scale(1,1.08)" class="t" text-anchor="end">0.5</text>
<line x1="403.5" y1="218.2" x2="403.5" y2="223.2" stroke="#8a8a8a" stroke-width="1.1"/>
<text transform="translate(403.50,236.70) scale(1,1.08)" class="t" text-anchor="middle">10</text>
<line x1="446.1" y1="218.2" x2="446.1" y2="223.2" stroke="#8a8a8a" stroke-width="1.1"/>
<text transform="translate(446.07,236.70) scale(1,1.08)" class="t" text-anchor="middle">15</text>
<line x1="488.6" y1="218.2" x2="488.6" y2="223.2" stroke="#8a8a8a" stroke-width="1.1"/>
<text transform="translate(488.64,236.70) scale(1,1.08)" class="t" text-anchor="middle">20</text>
<line x1="531.2" y1="218.2" x2="531.2" y2="223.2" stroke="#8a8a8a" stroke-width="1.1"/>
<text transform="translate(531.21,236.70) scale(1,1.08)" class="t" text-anchor="middle">25</text>
<line x1="573.8" y1="218.2" x2="573.8" y2="223.2" stroke="#8a8a8a" stroke-width="1.1"/>
<text transform="translate(573.78,236.70) scale(1,1.08)" class="t" text-anchor="middle">30</text>
<line x1="616.4" y1="218.2" x2="616.4" y2="223.2" stroke="#8a8a8a" stroke-width="1.1"/>
<text transform="translate(616.35,236.70) scale(1,1.08)" class="t" text-anchor="middle">35</text>
<line x1="658.9" y1="218.2" x2="658.9" y2="223.2" stroke="#8a8a8a" stroke-width="1.1"/>
<text transform="translate(658.92,236.70) scale(1,1.08)" class="t" text-anchor="middle">40</text>
<line x1="701.5" y1="218.2" x2="701.5" y2="223.2" stroke="#8a8a8a" stroke-width="1.1"/>
<text transform="translate(701.49,236.70) scale(1,1.08)" class="t" text-anchor="middle">45</text>
<polygon points="121.60,215.30 122.37,217.14 124.36,217.30 122.84,218.60 123.30,220.55 121.60,219.50 119.90,220.55 120.36,218.60 118.84,217.30 120.83,217.14" fill="#4d71c2"/>
<polygon points="181.40,215.30 182.17,217.14 184.16,217.30 182.64,218.60 183.10,220.55 181.40,219.50 179.70,220.55 180.16,218.60 178.64,217.30 180.63,217.14" fill="#555555"/>
<polygon points="207.00,215.30 207.77,217.14 209.76,217.30 208.24,218.60 208.70,220.55 207.00,219.50 205.30,220.55 205.76,218.60 204.24,217.30 206.23,217.14" fill="#ea4434"/>
<polygon points="481.50,215.30 482.27,217.14 484.26,217.30 482.74,218.60 483.20,220.55 481.50,219.50 479.80,220.55 480.26,218.60 478.74,217.30 480.73,217.14" fill="#4d71c2"/>
<polygon points="541.40,215.30 542.17,217.14 544.16,217.30 542.64,218.60 543.10,220.55 541.40,219.50 539.70,220.55 540.16,218.60 538.64,217.30 540.63,217.14" fill="#555555"/>
<polygon points="567.00,215.30 567.77,217.14 569.76,217.30 568.24,218.60 568.70,220.55 567.00,219.50 565.30,220.55 565.76,218.60 564.24,217.30 566.23,217.14" fill="#ea4434"/>
<text transform="translate(-0.20,15.50) scale(1,1.02)" class="t" style="font-weight:bold;font-size:17.6px;fill:#111">A</text>
<text transform="translate(360.5,16) scale(1.1,1.0)" class="t" style="font-weight:bold;font-size:17.8px;fill:#111">B</text>
<text transform="translate(193.20,24.00) scale(1,1.08)" class="t" style="font-size:13.2px">Low light</text>
<text transform="translate(552.60,24.00) scale(1,1.08)" class="t" style="font-size:13.2px">High light</text>
<text transform="translate(141.90,256.90) scale(1,1.08)" class="t" style="font-size:13.5px">Temperature (<tspan dy="-5.6" font-size="9">o</tspan><tspan dy="5.6">C)</tspan></text>
<text transform="translate(501.20,256.40) scale(1,1.08)" class="t" style="font-size:13.5px">Temperature (<tspan dy="-5.6" font-size="9">o</tspan><tspan dy="5.6">C)</tspan></text>
<text transform="translate(11.8,119.1) rotate(-90)" text-anchor="middle" class="t" style="font-size:14px">Y(II)</text>
<text transform="translate(373.0,119.1) rotate(-90)" text-anchor="middle" class="t" style="font-size:14px">Y(II)</text>
<rect x="60.75" y="29.85" width="3.10" height="3.10" fill="#8da4e2"/>
<text transform="translate(82.20,36.20) scale(1,1.08)" class="t">19 <tspan dy="-5.6" font-size="9">o</tspan><tspan dy="5.6">C</tspan></text>
<circle cx="62.30" cy="49.30" r="1.72" fill="#8a8a8a"/>
<text transform="translate(82.20,54.10) scale(1,1.08)" class="t">26 <tspan dy="-5.6" font-size="9">o</tspan><tspan dy="5.6">C</tspan></text>
<path d="M62.30,65.36L64.37,68.64L60.23,68.64Z" fill="#f29a84"/>
<text transform="translate(82.20,72.00) scale(1,1.08)" class="t">29 <tspan dy="-5.6" font-size="9">o</tspan><tspan dy="5.6">C</tspan></text>
<rect x="420.75" y="25.85" width="3.10" height="3.10" fill="#8da4e2"/>
<text transform="translate(442.20,32.20) scale(1,1.08)" class="t">19 <tspan dy="-5.6" font-size="9">o</tspan><tspan dy="5.6">C</tspan></text>
<circle cx="422.30" cy="45.30" r="1.72" fill="#8a8a8a"/>
<text transform="translate(442.20,50.10) scale(1,1.08)" class="t">26 <tspan dy="-5.6" font-size="9">o</tspan><tspan dy="5.6">C</tspan></text>
<path d="M422.30,61.36L424.37,64.64L420.23,64.64Z" fill="#f29a84"/>
<text transform="translate(442.20,68.00) scale(1,1.08)" class="t">29 <tspan dy="-5.6" font-size="9">o</tspan><tspan dy="5.6">C</tspan></text>
</svg></body></html>
